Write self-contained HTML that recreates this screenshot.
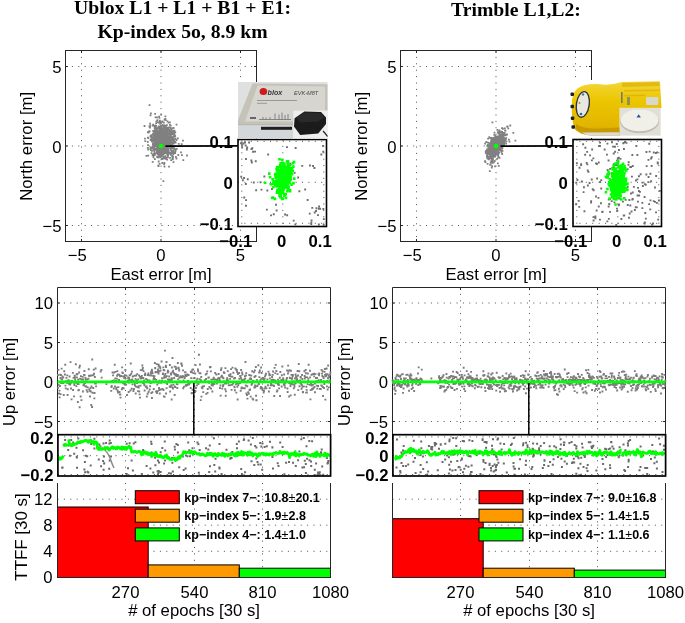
<!DOCTYPE html><html><head><meta charset="utf-8"><style>html,body{margin:0;padding:0;background:#fff;}svg{display:block;will-change:transform}</style></head><body>
<svg width="685" height="623" viewBox="0 0 685 623">
<rect width="685" height="623" fill="#fff"/>
<rect x="65.5" y="50.5" width="191.0" height="191.0" fill="#fff"/>
<line x1="81.5" y1="50.5" x2="81.5" y2="241.5" stroke="#3c3c3c" stroke-width="0.9" stroke-dasharray="1 5.4" fill="none"/>
<line x1="65.5" y1="225.5" x2="256.5" y2="225.5" stroke="#3c3c3c" stroke-width="0.9" stroke-dasharray="1 5.4" fill="none"/>
<path d="M81.5 50.5v2.5M81.5 241.5v-2.5M65.5 225.5h2.5M256.5 225.5h-2.5" stroke="#262626" stroke-width="1" fill="none"/>
<text x="77.2" y="261.0" font-size="16.7" text-anchor="middle" font-weight="normal" font-family='"Liberation Sans", sans-serif' >−5</text>
<text x="61.5" y="232.1" font-size="16.7" text-anchor="end" font-weight="normal" font-family='"Liberation Sans", sans-serif' >−5</text>
<line x1="161.0" y1="50.5" x2="161.0" y2="241.5" stroke="#3c3c3c" stroke-width="0.9" stroke-dasharray="1 5.4" fill="none"/>
<line x1="65.5" y1="146.0" x2="256.5" y2="146.0" stroke="#3c3c3c" stroke-width="0.9" stroke-dasharray="1 5.4" fill="none"/>
<path d="M161.0 50.5v2.5M161.0 241.5v-2.5M65.5 146.0h2.5M256.5 146.0h-2.5" stroke="#262626" stroke-width="1" fill="none"/>
<text x="161.0" y="261.0" font-size="16.7" text-anchor="middle" font-weight="normal" font-family='"Liberation Sans", sans-serif' >0</text>
<text x="61.5" y="152.6" font-size="16.7" text-anchor="end" font-weight="normal" font-family='"Liberation Sans", sans-serif' >0</text>
<line x1="240.5" y1="50.5" x2="240.5" y2="241.5" stroke="#3c3c3c" stroke-width="0.9" stroke-dasharray="1 5.4" fill="none"/>
<line x1="65.5" y1="66.5" x2="256.5" y2="66.5" stroke="#3c3c3c" stroke-width="0.9" stroke-dasharray="1 5.4" fill="none"/>
<path d="M240.5 50.5v2.5M240.5 241.5v-2.5M65.5 66.5h2.5M256.5 66.5h-2.5" stroke="#262626" stroke-width="1" fill="none"/>
<text x="240.5" y="261.0" font-size="16.7" text-anchor="middle" font-weight="normal" font-family='"Liberation Sans", sans-serif' >5</text>
<text x="61.5" y="73.1" font-size="16.7" text-anchor="end" font-weight="normal" font-family='"Liberation Sans", sans-serif' >5</text>
<rect x="65.5" y="50.5" width="191.0" height="191.0" stroke="#262626" stroke-width="1" fill="none"/>
<path d="M154.6 136.2h1.8v1.8h-1.8zM167.3 140.1h1.8v1.8h-1.8zM153.2 145.7h1.8v1.8h-1.8zM159.4 148.1h1.8v1.8h-1.8zM153.3 133.2h1.8v1.8h-1.8zM159.0 137.6h1.8v1.8h-1.8zM161.6 146.2h1.8v1.8h-1.8zM165.1 142.3h1.8v1.8h-1.8zM163.1 137.8h1.8v1.8h-1.8zM152.1 136.4h1.8v1.8h-1.8zM159.0 137.9h1.8v1.8h-1.8zM150.5 136.3h1.8v1.8h-1.8zM158.3 133.1h1.8v1.8h-1.8zM159.6 140.0h1.8v1.8h-1.8zM166.1 148.0h1.8v1.8h-1.8zM156.1 145.0h1.8v1.8h-1.8zM160.4 139.7h1.8v1.8h-1.8zM169.8 146.8h1.8v1.8h-1.8zM163.0 131.6h1.8v1.8h-1.8zM161.2 149.4h1.8v1.8h-1.8zM157.1 133.6h1.8v1.8h-1.8zM156.1 142.2h1.8v1.8h-1.8zM158.7 162.9h1.8v1.8h-1.8zM162.2 141.6h1.8v1.8h-1.8zM159.4 144.8h1.8v1.8h-1.8zM164.5 138.2h1.8v1.8h-1.8zM160.3 149.8h1.8v1.8h-1.8zM163.5 146.7h1.8v1.8h-1.8zM161.8 136.5h1.8v1.8h-1.8zM165.4 146.7h1.8v1.8h-1.8zM162.1 140.8h1.8v1.8h-1.8zM166.7 134.0h1.8v1.8h-1.8zM164.8 139.8h1.8v1.8h-1.8zM163.7 147.3h1.8v1.8h-1.8zM153.6 139.9h1.8v1.8h-1.8zM162.2 142.3h1.8v1.8h-1.8zM174.3 135.3h1.8v1.8h-1.8zM163.8 147.7h1.8v1.8h-1.8zM151.2 147.3h1.8v1.8h-1.8zM166.5 136.8h1.8v1.8h-1.8zM160.4 135.8h1.8v1.8h-1.8zM169.0 135.3h1.8v1.8h-1.8zM153.9 134.8h1.8v1.8h-1.8zM158.1 141.8h1.8v1.8h-1.8zM163.3 148.9h1.8v1.8h-1.8zM152.0 143.1h1.8v1.8h-1.8zM160.7 141.1h1.8v1.8h-1.8zM158.0 137.5h1.8v1.8h-1.8zM166.2 149.9h1.8v1.8h-1.8zM153.8 144.4h1.8v1.8h-1.8zM157.5 146.2h1.8v1.8h-1.8zM159.1 129.8h1.8v1.8h-1.8zM158.0 141.3h1.8v1.8h-1.8zM169.0 152.0h1.8v1.8h-1.8zM168.5 142.2h1.8v1.8h-1.8zM164.8 138.5h1.8v1.8h-1.8zM169.8 134.1h1.8v1.8h-1.8zM157.3 148.6h1.8v1.8h-1.8zM154.3 143.0h1.8v1.8h-1.8zM169.5 143.4h1.8v1.8h-1.8zM166.1 142.4h1.8v1.8h-1.8zM162.9 130.7h1.8v1.8h-1.8zM171.9 138.6h1.8v1.8h-1.8zM160.1 142.6h1.8v1.8h-1.8zM169.7 138.7h1.8v1.8h-1.8zM162.6 149.1h1.8v1.8h-1.8zM166.1 137.9h1.8v1.8h-1.8zM160.6 141.3h1.8v1.8h-1.8zM156.8 132.2h1.8v1.8h-1.8zM157.0 130.1h1.8v1.8h-1.8zM173.6 133.8h1.8v1.8h-1.8zM164.4 125.7h1.8v1.8h-1.8zM160.5 154.2h1.8v1.8h-1.8zM160.0 128.2h1.8v1.8h-1.8zM158.4 127.4h1.8v1.8h-1.8zM151.7 153.8h1.8v1.8h-1.8zM160.4 142.7h1.8v1.8h-1.8zM169.1 135.1h1.8v1.8h-1.8zM163.7 141.6h1.8v1.8h-1.8zM157.6 138.2h1.8v1.8h-1.8zM154.1 129.3h1.8v1.8h-1.8zM165.8 136.7h1.8v1.8h-1.8zM145.5 154.9h1.8v1.8h-1.8zM161.8 139.5h1.8v1.8h-1.8zM169.0 121.5h1.8v1.8h-1.8zM161.7 133.4h1.8v1.8h-1.8zM164.7 149.4h1.8v1.8h-1.8zM162.4 133.8h1.8v1.8h-1.8zM161.7 147.8h1.8v1.8h-1.8zM166.7 144.9h1.8v1.8h-1.8zM162.9 133.6h1.8v1.8h-1.8zM162.9 130.7h1.8v1.8h-1.8zM161.7 137.2h1.8v1.8h-1.8zM165.1 150.7h1.8v1.8h-1.8zM163.5 146.9h1.8v1.8h-1.8zM160.7 136.3h1.8v1.8h-1.8zM166.2 140.1h1.8v1.8h-1.8zM155.0 140.7h1.8v1.8h-1.8zM161.8 144.2h1.8v1.8h-1.8zM164.5 135.0h1.8v1.8h-1.8zM164.9 124.9h1.8v1.8h-1.8zM171.3 130.8h1.8v1.8h-1.8zM166.0 151.7h1.8v1.8h-1.8zM158.8 128.1h1.8v1.8h-1.8zM155.6 139.4h1.8v1.8h-1.8zM164.4 150.0h1.8v1.8h-1.8zM159.8 137.9h1.8v1.8h-1.8zM160.9 140.3h1.8v1.8h-1.8zM155.8 136.4h1.8v1.8h-1.8zM158.8 147.2h1.8v1.8h-1.8zM158.9 137.8h1.8v1.8h-1.8zM174.7 141.6h1.8v1.8h-1.8zM164.5 118.1h1.8v1.8h-1.8zM163.8 144.6h1.8v1.8h-1.8zM164.8 141.4h1.8v1.8h-1.8zM158.5 128.5h1.8v1.8h-1.8zM167.0 137.2h1.8v1.8h-1.8zM152.9 152.9h1.8v1.8h-1.8zM169.6 131.4h1.8v1.8h-1.8zM169.0 123.9h1.8v1.8h-1.8zM163.6 134.4h1.8v1.8h-1.8zM163.2 146.0h1.8v1.8h-1.8zM168.2 145.1h1.8v1.8h-1.8zM163.8 147.9h1.8v1.8h-1.8zM156.7 143.5h1.8v1.8h-1.8zM158.5 131.6h1.8v1.8h-1.8zM163.3 145.4h1.8v1.8h-1.8zM166.1 151.8h1.8v1.8h-1.8zM156.4 129.5h1.8v1.8h-1.8zM162.8 153.2h1.8v1.8h-1.8zM150.4 138.4h1.8v1.8h-1.8zM161.3 143.8h1.8v1.8h-1.8zM159.4 140.8h1.8v1.8h-1.8zM164.2 130.0h1.8v1.8h-1.8zM160.5 131.8h1.8v1.8h-1.8zM164.5 148.6h1.8v1.8h-1.8zM168.7 133.8h1.8v1.8h-1.8zM161.7 150.0h1.8v1.8h-1.8zM151.8 161.0h1.8v1.8h-1.8zM154.6 147.7h1.8v1.8h-1.8zM163.9 134.6h1.8v1.8h-1.8zM163.4 139.8h1.8v1.8h-1.8zM149.6 146.6h1.8v1.8h-1.8zM169.1 156.9h1.8v1.8h-1.8zM159.1 136.9h1.8v1.8h-1.8zM161.9 131.2h1.8v1.8h-1.8zM164.1 141.6h1.8v1.8h-1.8zM157.8 136.2h1.8v1.8h-1.8zM180.1 151.5h1.8v1.8h-1.8zM163.7 151.5h1.8v1.8h-1.8zM166.0 124.3h1.8v1.8h-1.8zM168.6 143.2h1.8v1.8h-1.8zM174.2 140.9h1.8v1.8h-1.8zM164.1 143.2h1.8v1.8h-1.8zM161.6 124.1h1.8v1.8h-1.8zM171.6 132.7h1.8v1.8h-1.8zM170.5 149.9h1.8v1.8h-1.8zM163.2 137.0h1.8v1.8h-1.8zM160.6 132.9h1.8v1.8h-1.8zM158.2 133.5h1.8v1.8h-1.8zM171.8 139.0h1.8v1.8h-1.8zM159.4 142.6h1.8v1.8h-1.8zM163.1 139.5h1.8v1.8h-1.8zM172.6 161.2h1.8v1.8h-1.8zM159.2 143.2h1.8v1.8h-1.8zM160.0 144.0h1.8v1.8h-1.8zM149.6 114.5h1.8v1.8h-1.8zM165.1 137.2h1.8v1.8h-1.8zM160.3 141.4h1.8v1.8h-1.8zM164.2 131.9h1.8v1.8h-1.8zM156.7 141.2h1.8v1.8h-1.8zM163.5 161.9h1.8v1.8h-1.8zM162.9 140.0h1.8v1.8h-1.8zM166.9 143.1h1.8v1.8h-1.8zM160.3 145.0h1.8v1.8h-1.8zM148.7 130.4h1.8v1.8h-1.8zM160.0 151.4h1.8v1.8h-1.8zM161.3 130.1h1.8v1.8h-1.8zM154.9 136.6h1.8v1.8h-1.8zM161.9 142.5h1.8v1.8h-1.8zM170.9 143.8h1.8v1.8h-1.8zM163.4 140.4h1.8v1.8h-1.8zM172.0 133.3h1.8v1.8h-1.8zM161.4 150.8h1.8v1.8h-1.8zM160.3 141.2h1.8v1.8h-1.8zM170.2 145.2h1.8v1.8h-1.8zM156.5 130.9h1.8v1.8h-1.8zM166.3 151.9h1.8v1.8h-1.8zM161.8 144.9h1.8v1.8h-1.8zM168.8 136.6h1.8v1.8h-1.8zM168.1 140.1h1.8v1.8h-1.8zM160.1 133.6h1.8v1.8h-1.8zM160.5 128.4h1.8v1.8h-1.8zM154.4 129.5h1.8v1.8h-1.8zM163.6 139.0h1.8v1.8h-1.8zM165.5 130.7h1.8v1.8h-1.8zM161.8 142.8h1.8v1.8h-1.8zM171.3 133.0h1.8v1.8h-1.8zM162.0 140.2h1.8v1.8h-1.8zM175.0 155.9h1.8v1.8h-1.8zM153.8 140.5h1.8v1.8h-1.8zM164.2 139.3h1.8v1.8h-1.8zM161.8 148.0h1.8v1.8h-1.8zM154.4 136.0h1.8v1.8h-1.8zM167.3 138.6h1.8v1.8h-1.8zM157.8 131.2h1.8v1.8h-1.8zM169.5 136.0h1.8v1.8h-1.8zM155.2 145.0h1.8v1.8h-1.8zM164.5 140.4h1.8v1.8h-1.8zM162.9 133.8h1.8v1.8h-1.8zM156.9 149.5h1.8v1.8h-1.8zM159.3 148.3h1.8v1.8h-1.8zM158.0 134.0h1.8v1.8h-1.8zM159.6 122.2h1.8v1.8h-1.8zM165.1 140.0h1.8v1.8h-1.8zM161.7 137.3h1.8v1.8h-1.8zM164.5 133.7h1.8v1.8h-1.8zM155.2 122.4h1.8v1.8h-1.8zM164.1 140.8h1.8v1.8h-1.8zM160.7 152.7h1.8v1.8h-1.8zM162.8 131.0h1.8v1.8h-1.8zM156.8 138.3h1.8v1.8h-1.8zM160.5 126.0h1.8v1.8h-1.8zM165.2 138.6h1.8v1.8h-1.8zM162.2 152.8h1.8v1.8h-1.8zM170.7 135.9h1.8v1.8h-1.8zM160.5 135.6h1.8v1.8h-1.8zM149.6 148.1h1.8v1.8h-1.8zM155.6 141.7h1.8v1.8h-1.8zM158.2 126.3h1.8v1.8h-1.8zM164.2 138.1h1.8v1.8h-1.8zM165.6 148.8h1.8v1.8h-1.8zM155.3 143.4h1.8v1.8h-1.8zM160.2 121.9h1.8v1.8h-1.8zM155.6 128.4h1.8v1.8h-1.8zM154.6 148.8h1.8v1.8h-1.8zM167.1 143.5h1.8v1.8h-1.8zM167.4 145.8h1.8v1.8h-1.8zM168.5 151.7h1.8v1.8h-1.8zM163.5 130.0h1.8v1.8h-1.8zM151.7 140.9h1.8v1.8h-1.8zM160.3 147.3h1.8v1.8h-1.8zM157.3 149.1h1.8v1.8h-1.8zM160.4 151.4h1.8v1.8h-1.8zM167.6 151.2h1.8v1.8h-1.8zM175.6 123.8h1.8v1.8h-1.8zM158.1 133.4h1.8v1.8h-1.8zM161.6 133.9h1.8v1.8h-1.8zM153.3 134.3h1.8v1.8h-1.8zM162.1 129.4h1.8v1.8h-1.8zM166.6 141.1h1.8v1.8h-1.8zM164.3 128.8h1.8v1.8h-1.8zM163.5 146.3h1.8v1.8h-1.8zM164.6 146.7h1.8v1.8h-1.8zM161.3 141.4h1.8v1.8h-1.8zM157.7 148.4h1.8v1.8h-1.8zM166.5 150.0h1.8v1.8h-1.8zM155.6 152.4h1.8v1.8h-1.8zM164.1 133.8h1.8v1.8h-1.8zM156.8 135.5h1.8v1.8h-1.8zM156.2 145.5h1.8v1.8h-1.8zM170.9 145.3h1.8v1.8h-1.8zM166.4 146.7h1.8v1.8h-1.8zM154.5 127.9h1.8v1.8h-1.8zM160.6 132.6h1.8v1.8h-1.8zM162.1 138.9h1.8v1.8h-1.8zM161.5 139.1h1.8v1.8h-1.8zM165.1 158.0h1.8v1.8h-1.8zM161.4 137.8h1.8v1.8h-1.8zM159.5 144.5h1.8v1.8h-1.8zM158.5 144.4h1.8v1.8h-1.8zM152.8 130.1h1.8v1.8h-1.8zM155.8 138.8h1.8v1.8h-1.8zM172.0 127.5h1.8v1.8h-1.8zM159.7 143.8h1.8v1.8h-1.8zM157.5 134.1h1.8v1.8h-1.8zM166.5 155.0h1.8v1.8h-1.8zM167.3 136.8h1.8v1.8h-1.8zM154.0 124.7h1.8v1.8h-1.8zM159.2 147.3h1.8v1.8h-1.8zM164.0 136.6h1.8v1.8h-1.8zM154.5 134.3h1.8v1.8h-1.8zM162.3 142.5h1.8v1.8h-1.8zM169.8 130.3h1.8v1.8h-1.8zM175.6 157.8h1.8v1.8h-1.8zM152.6 138.9h1.8v1.8h-1.8zM169.7 146.5h1.8v1.8h-1.8zM166.3 148.9h1.8v1.8h-1.8zM166.5 153.6h1.8v1.8h-1.8zM158.9 136.3h1.8v1.8h-1.8zM165.9 142.9h1.8v1.8h-1.8zM162.1 149.4h1.8v1.8h-1.8zM154.0 158.3h1.8v1.8h-1.8zM167.7 135.7h1.8v1.8h-1.8zM156.3 130.7h1.8v1.8h-1.8zM164.1 124.6h1.8v1.8h-1.8zM160.5 146.1h1.8v1.8h-1.8zM160.1 154.4h1.8v1.8h-1.8zM161.9 133.5h1.8v1.8h-1.8zM155.3 143.3h1.8v1.8h-1.8zM163.7 146.6h1.8v1.8h-1.8zM156.5 119.3h1.8v1.8h-1.8zM165.1 144.3h1.8v1.8h-1.8zM171.0 150.0h1.8v1.8h-1.8zM164.9 140.2h1.8v1.8h-1.8zM158.6 141.8h1.8v1.8h-1.8zM146.9 147.0h1.8v1.8h-1.8zM153.8 152.5h1.8v1.8h-1.8zM157.5 126.2h1.8v1.8h-1.8zM159.1 144.4h1.8v1.8h-1.8zM153.8 138.1h1.8v1.8h-1.8zM158.3 136.8h1.8v1.8h-1.8zM167.4 149.3h1.8v1.8h-1.8zM153.2 134.0h1.8v1.8h-1.8zM180.8 143.2h1.8v1.8h-1.8zM162.6 139.0h1.8v1.8h-1.8zM164.8 147.7h1.8v1.8h-1.8zM159.1 128.5h1.8v1.8h-1.8zM168.5 129.5h1.8v1.8h-1.8zM159.4 132.2h1.8v1.8h-1.8zM165.1 146.7h1.8v1.8h-1.8zM159.8 131.5h1.8v1.8h-1.8zM161.2 143.3h1.8v1.8h-1.8zM163.2 126.2h1.8v1.8h-1.8zM161.3 138.0h1.8v1.8h-1.8zM163.3 144.5h1.8v1.8h-1.8zM160.9 142.3h1.8v1.8h-1.8zM160.5 137.9h1.8v1.8h-1.8zM159.2 140.0h1.8v1.8h-1.8zM168.3 140.8h1.8v1.8h-1.8zM154.9 133.4h1.8v1.8h-1.8zM164.3 134.1h1.8v1.8h-1.8zM161.9 145.5h1.8v1.8h-1.8zM161.5 147.3h1.8v1.8h-1.8zM166.8 132.9h1.8v1.8h-1.8zM170.9 152.2h1.8v1.8h-1.8zM163.0 128.4h1.8v1.8h-1.8zM172.1 137.9h1.8v1.8h-1.8zM167.7 136.4h1.8v1.8h-1.8zM168.5 138.2h1.8v1.8h-1.8zM169.7 129.8h1.8v1.8h-1.8zM166.7 138.2h1.8v1.8h-1.8zM167.2 128.6h1.8v1.8h-1.8zM158.2 135.6h1.8v1.8h-1.8zM157.1 143.8h1.8v1.8h-1.8zM163.8 143.6h1.8v1.8h-1.8zM165.5 145.3h1.8v1.8h-1.8zM169.1 131.1h1.8v1.8h-1.8zM173.1 141.1h1.8v1.8h-1.8zM166.7 142.3h1.8v1.8h-1.8zM164.6 136.2h1.8v1.8h-1.8zM154.8 140.4h1.8v1.8h-1.8zM172.6 136.7h1.8v1.8h-1.8zM155.4 131.4h1.8v1.8h-1.8zM156.2 137.2h1.8v1.8h-1.8zM161.7 127.8h1.8v1.8h-1.8zM172.1 132.5h1.8v1.8h-1.8zM169.3 152.2h1.8v1.8h-1.8zM168.0 145.6h1.8v1.8h-1.8zM157.0 133.8h1.8v1.8h-1.8zM167.2 140.4h1.8v1.8h-1.8zM167.0 148.9h1.8v1.8h-1.8zM166.6 120.5h1.8v1.8h-1.8zM162.7 156.3h1.8v1.8h-1.8zM160.6 154.9h1.8v1.8h-1.8zM158.5 144.7h1.8v1.8h-1.8zM164.1 156.6h1.8v1.8h-1.8zM159.3 132.2h1.8v1.8h-1.8zM155.7 132.8h1.8v1.8h-1.8zM165.1 146.6h1.8v1.8h-1.8zM167.9 139.9h1.8v1.8h-1.8zM165.7 147.7h1.8v1.8h-1.8zM156.8 145.3h1.8v1.8h-1.8zM157.9 134.8h1.8v1.8h-1.8zM160.0 143.2h1.8v1.8h-1.8zM157.8 134.4h1.8v1.8h-1.8zM155.7 139.0h1.8v1.8h-1.8zM163.2 130.8h1.8v1.8h-1.8zM162.8 142.7h1.8v1.8h-1.8zM158.6 143.2h1.8v1.8h-1.8zM166.9 142.4h1.8v1.8h-1.8zM157.7 139.1h1.8v1.8h-1.8zM161.9 151.4h1.8v1.8h-1.8zM166.3 136.6h1.8v1.8h-1.8zM160.2 121.8h1.8v1.8h-1.8zM163.6 132.6h1.8v1.8h-1.8zM166.0 132.2h1.8v1.8h-1.8zM167.0 156.5h1.8v1.8h-1.8zM164.7 134.0h1.8v1.8h-1.8zM159.2 139.4h1.8v1.8h-1.8zM167.2 154.5h1.8v1.8h-1.8zM156.6 132.6h1.8v1.8h-1.8zM167.1 135.4h1.8v1.8h-1.8zM162.0 153.3h1.8v1.8h-1.8zM164.6 145.9h1.8v1.8h-1.8zM168.8 142.2h1.8v1.8h-1.8zM162.7 146.5h1.8v1.8h-1.8zM167.6 121.8h1.8v1.8h-1.8zM149.5 135.3h1.8v1.8h-1.8zM157.8 160.6h1.8v1.8h-1.8zM161.7 124.7h1.8v1.8h-1.8zM164.3 155.2h1.8v1.8h-1.8zM164.4 135.0h1.8v1.8h-1.8zM162.4 137.9h1.8v1.8h-1.8zM162.8 135.6h1.8v1.8h-1.8zM159.8 139.0h1.8v1.8h-1.8zM158.1 136.4h1.8v1.8h-1.8zM153.8 135.8h1.8v1.8h-1.8zM147.4 137.1h1.8v1.8h-1.8zM169.4 127.0h1.8v1.8h-1.8zM170.3 146.7h1.8v1.8h-1.8zM152.4 135.5h1.8v1.8h-1.8zM161.0 158.1h1.8v1.8h-1.8zM154.0 147.4h1.8v1.8h-1.8zM160.8 145.8h1.8v1.8h-1.8zM154.6 148.2h1.8v1.8h-1.8zM152.1 132.8h1.8v1.8h-1.8zM164.0 143.8h1.8v1.8h-1.8zM152.0 124.7h1.8v1.8h-1.8zM159.1 141.8h1.8v1.8h-1.8zM161.8 137.0h1.8v1.8h-1.8zM162.8 142.4h1.8v1.8h-1.8zM160.3 144.7h1.8v1.8h-1.8zM160.0 149.4h1.8v1.8h-1.8zM169.1 136.9h1.8v1.8h-1.8zM155.6 132.1h1.8v1.8h-1.8zM158.6 149.5h1.8v1.8h-1.8zM158.9 131.9h1.8v1.8h-1.8zM159.3 130.1h1.8v1.8h-1.8zM167.8 149.9h1.8v1.8h-1.8zM169.2 152.7h1.8v1.8h-1.8zM156.9 133.3h1.8v1.8h-1.8zM160.8 143.4h1.8v1.8h-1.8zM161.9 124.5h1.8v1.8h-1.8zM159.3 143.9h1.8v1.8h-1.8zM159.1 140.4h1.8v1.8h-1.8zM149.5 124.8h1.8v1.8h-1.8zM163.8 143.3h1.8v1.8h-1.8zM165.7 127.7h1.8v1.8h-1.8zM160.5 134.1h1.8v1.8h-1.8zM164.1 145.9h1.8v1.8h-1.8zM157.1 135.5h1.8v1.8h-1.8zM162.8 128.1h1.8v1.8h-1.8zM162.2 132.9h1.8v1.8h-1.8zM168.6 139.3h1.8v1.8h-1.8zM162.7 146.9h1.8v1.8h-1.8zM158.9 121.1h1.8v1.8h-1.8zM157.8 141.3h1.8v1.8h-1.8zM164.2 141.8h1.8v1.8h-1.8zM165.9 146.2h1.8v1.8h-1.8zM156.8 146.6h1.8v1.8h-1.8zM162.8 135.6h1.8v1.8h-1.8zM161.1 134.5h1.8v1.8h-1.8zM173.7 135.0h1.8v1.8h-1.8zM163.2 137.3h1.8v1.8h-1.8zM159.2 129.0h1.8v1.8h-1.8zM161.8 149.1h1.8v1.8h-1.8zM165.5 135.7h1.8v1.8h-1.8zM169.9 127.4h1.8v1.8h-1.8zM152.9 136.5h1.8v1.8h-1.8zM160.1 145.4h1.8v1.8h-1.8zM170.7 141.6h1.8v1.8h-1.8zM159.4 134.8h1.8v1.8h-1.8zM162.9 124.6h1.8v1.8h-1.8zM163.2 128.2h1.8v1.8h-1.8zM158.4 141.1h1.8v1.8h-1.8zM156.6 134.8h1.8v1.8h-1.8zM157.1 130.8h1.8v1.8h-1.8zM162.9 138.1h1.8v1.8h-1.8zM159.1 143.0h1.8v1.8h-1.8zM158.4 134.5h1.8v1.8h-1.8zM173.5 148.1h1.8v1.8h-1.8zM161.7 142.6h1.8v1.8h-1.8zM162.0 145.6h1.8v1.8h-1.8zM162.2 153.7h1.8v1.8h-1.8zM164.9 147.6h1.8v1.8h-1.8zM170.9 144.6h1.8v1.8h-1.8zM161.9 138.4h1.8v1.8h-1.8zM163.2 133.2h1.8v1.8h-1.8zM162.9 139.8h1.8v1.8h-1.8zM156.5 155.5h1.8v1.8h-1.8zM160.3 149.0h1.8v1.8h-1.8zM174.6 148.6h1.8v1.8h-1.8zM156.8 135.7h1.8v1.8h-1.8zM161.1 138.1h1.8v1.8h-1.8zM166.2 144.2h1.8v1.8h-1.8zM169.2 134.3h1.8v1.8h-1.8zM169.8 127.1h1.8v1.8h-1.8zM158.3 153.7h1.8v1.8h-1.8zM166.9 129.2h1.8v1.8h-1.8zM161.7 141.4h1.8v1.8h-1.8zM170.2 129.9h1.8v1.8h-1.8zM167.0 136.7h1.8v1.8h-1.8zM159.9 136.3h1.8v1.8h-1.8zM172.6 151.8h1.8v1.8h-1.8zM161.6 128.3h1.8v1.8h-1.8zM158.9 136.2h1.8v1.8h-1.8zM166.7 127.3h1.8v1.8h-1.8zM164.3 149.1h1.8v1.8h-1.8zM165.1 139.9h1.8v1.8h-1.8zM170.0 140.2h1.8v1.8h-1.8zM166.3 142.5h1.8v1.8h-1.8zM173.6 129.7h1.8v1.8h-1.8zM171.3 139.9h1.8v1.8h-1.8zM157.2 139.5h1.8v1.8h-1.8zM162.8 150.8h1.8v1.8h-1.8zM159.3 147.9h1.8v1.8h-1.8zM165.5 128.6h1.8v1.8h-1.8zM161.8 136.2h1.8v1.8h-1.8zM174.5 138.3h1.8v1.8h-1.8zM161.1 147.5h1.8v1.8h-1.8zM150.3 136.3h1.8v1.8h-1.8zM172.0 151.1h1.8v1.8h-1.8zM153.8 154.3h1.8v1.8h-1.8zM166.9 140.7h1.8v1.8h-1.8zM172.4 137.0h1.8v1.8h-1.8zM157.0 152.3h1.8v1.8h-1.8zM157.8 160.7h1.8v1.8h-1.8zM160.3 128.8h1.8v1.8h-1.8zM157.3 136.6h1.8v1.8h-1.8zM155.7 131.0h1.8v1.8h-1.8zM162.2 141.8h1.8v1.8h-1.8zM167.4 149.2h1.8v1.8h-1.8zM152.0 136.5h1.8v1.8h-1.8zM152.3 130.1h1.8v1.8h-1.8zM161.5 140.0h1.8v1.8h-1.8zM159.4 120.7h1.8v1.8h-1.8zM167.7 143.0h1.8v1.8h-1.8zM169.0 145.9h1.8v1.8h-1.8zM164.2 141.4h1.8v1.8h-1.8zM161.0 144.8h1.8v1.8h-1.8zM152.2 144.7h1.8v1.8h-1.8zM159.3 147.5h1.8v1.8h-1.8zM157.7 121.8h1.8v1.8h-1.8zM165.4 128.9h1.8v1.8h-1.8zM159.6 141.1h1.8v1.8h-1.8zM162.3 140.2h1.8v1.8h-1.8zM165.1 143.2h1.8v1.8h-1.8zM159.1 152.1h1.8v1.8h-1.8zM160.1 145.0h1.8v1.8h-1.8zM170.4 136.4h1.8v1.8h-1.8zM170.0 153.9h1.8v1.8h-1.8zM167.5 142.9h1.8v1.8h-1.8zM154.0 137.8h1.8v1.8h-1.8zM157.4 145.4h1.8v1.8h-1.8zM165.8 139.8h1.8v1.8h-1.8zM154.7 144.4h1.8v1.8h-1.8zM165.2 139.2h1.8v1.8h-1.8zM163.0 148.9h1.8v1.8h-1.8zM164.9 151.7h1.8v1.8h-1.8zM172.3 149.7h1.8v1.8h-1.8zM169.4 142.4h1.8v1.8h-1.8zM154.6 116.5h1.8v1.8h-1.8zM156.5 134.6h1.8v1.8h-1.8zM158.6 146.6h1.8v1.8h-1.8zM162.0 147.1h1.8v1.8h-1.8zM160.0 134.4h1.8v1.8h-1.8zM163.5 130.9h1.8v1.8h-1.8zM151.7 138.6h1.8v1.8h-1.8zM159.8 153.3h1.8v1.8h-1.8zM159.9 124.9h1.8v1.8h-1.8zM162.4 148.9h1.8v1.8h-1.8zM167.4 143.6h1.8v1.8h-1.8zM151.7 139.2h1.8v1.8h-1.8zM159.5 134.2h1.8v1.8h-1.8zM162.0 134.2h1.8v1.8h-1.8zM157.3 130.9h1.8v1.8h-1.8zM162.6 126.2h1.8v1.8h-1.8zM155.2 139.2h1.8v1.8h-1.8zM166.9 142.1h1.8v1.8h-1.8zM165.7 151.0h1.8v1.8h-1.8zM151.6 145.8h1.8v1.8h-1.8zM167.3 153.7h1.8v1.8h-1.8zM157.7 165.3h1.8v1.8h-1.8zM159.4 139.5h1.8v1.8h-1.8zM164.1 140.5h1.8v1.8h-1.8zM169.7 146.6h1.8v1.8h-1.8zM161.2 128.6h1.8v1.8h-1.8zM163.8 142.8h1.8v1.8h-1.8zM164.4 138.8h1.8v1.8h-1.8zM164.6 143.2h1.8v1.8h-1.8zM164.5 145.6h1.8v1.8h-1.8zM151.7 154.4h1.8v1.8h-1.8zM165.5 146.9h1.8v1.8h-1.8zM154.3 135.9h1.8v1.8h-1.8zM172.8 142.7h1.8v1.8h-1.8zM163.5 145.9h1.8v1.8h-1.8zM162.0 152.0h1.8v1.8h-1.8zM157.2 143.9h1.8v1.8h-1.8zM162.5 137.8h1.8v1.8h-1.8zM158.7 134.5h1.8v1.8h-1.8zM154.4 141.6h1.8v1.8h-1.8zM169.2 144.3h1.8v1.8h-1.8zM173.0 132.1h1.8v1.8h-1.8zM155.1 138.5h1.8v1.8h-1.8zM161.6 151.0h1.8v1.8h-1.8zM154.1 129.9h1.8v1.8h-1.8zM159.9 127.1h1.8v1.8h-1.8zM161.9 134.2h1.8v1.8h-1.8zM160.4 135.0h1.8v1.8h-1.8zM162.5 150.2h1.8v1.8h-1.8zM163.1 149.3h1.8v1.8h-1.8zM155.3 142.9h1.8v1.8h-1.8zM168.0 131.4h1.8v1.8h-1.8zM157.1 131.3h1.8v1.8h-1.8zM163.2 134.3h1.8v1.8h-1.8zM149.1 126.6h1.8v1.8h-1.8zM160.8 138.8h1.8v1.8h-1.8zM159.2 140.1h1.8v1.8h-1.8zM166.6 134.8h1.8v1.8h-1.8zM166.8 132.8h1.8v1.8h-1.8zM182.1 139.7h1.8v1.8h-1.8zM155.7 134.9h1.8v1.8h-1.8zM149.6 146.6h1.8v1.8h-1.8zM169.9 148.0h1.8v1.8h-1.8zM161.5 150.9h1.8v1.8h-1.8zM154.3 138.6h1.8v1.8h-1.8zM165.3 143.4h1.8v1.8h-1.8zM155.6 135.2h1.8v1.8h-1.8zM167.2 138.2h1.8v1.8h-1.8zM150.6 152.3h1.8v1.8h-1.8zM157.2 144.0h1.8v1.8h-1.8zM167.7 145.8h1.8v1.8h-1.8zM161.9 137.8h1.8v1.8h-1.8zM164.7 136.3h1.8v1.8h-1.8zM162.0 135.8h1.8v1.8h-1.8zM157.0 140.7h1.8v1.8h-1.8zM171.0 139.7h1.8v1.8h-1.8zM163.9 147.6h1.8v1.8h-1.8zM153.9 145.3h1.8v1.8h-1.8zM158.4 139.4h1.8v1.8h-1.8zM172.5 153.1h1.8v1.8h-1.8zM173.9 134.7h1.8v1.8h-1.8zM156.4 146.7h1.8v1.8h-1.8zM161.6 120.6h1.8v1.8h-1.8zM170.5 147.1h1.8v1.8h-1.8zM170.2 159.3h1.8v1.8h-1.8zM169.5 140.2h1.8v1.8h-1.8zM151.0 140.5h1.8v1.8h-1.8zM158.2 140.6h1.8v1.8h-1.8zM163.4 137.4h1.8v1.8h-1.8zM161.4 142.4h1.8v1.8h-1.8zM166.7 152.9h1.8v1.8h-1.8zM156.4 135.8h1.8v1.8h-1.8zM177.8 142.9h1.8v1.8h-1.8zM163.7 129.9h1.8v1.8h-1.8zM170.5 152.0h1.8v1.8h-1.8zM166.8 126.7h1.8v1.8h-1.8zM158.9 139.3h1.8v1.8h-1.8zM164.5 150.9h1.8v1.8h-1.8zM166.2 126.9h1.8v1.8h-1.8zM161.8 142.5h1.8v1.8h-1.8zM167.0 144.2h1.8v1.8h-1.8zM173.2 139.2h1.8v1.8h-1.8zM158.6 140.2h1.8v1.8h-1.8zM159.7 134.5h1.8v1.8h-1.8zM163.1 141.7h1.8v1.8h-1.8zM152.3 138.4h1.8v1.8h-1.8zM159.5 151.5h1.8v1.8h-1.8zM164.2 140.1h1.8v1.8h-1.8zM162.1 149.5h1.8v1.8h-1.8zM150.5 134.3h1.8v1.8h-1.8zM166.5 129.9h1.8v1.8h-1.8zM150.3 134.8h1.8v1.8h-1.8zM156.3 141.6h1.8v1.8h-1.8zM156.1 150.4h1.8v1.8h-1.8zM162.9 134.3h1.8v1.8h-1.8zM164.3 136.0h1.8v1.8h-1.8zM164.1 135.5h1.8v1.8h-1.8zM171.9 147.1h1.8v1.8h-1.8zM157.9 142.8h1.8v1.8h-1.8zM158.1 127.3h1.8v1.8h-1.8zM161.2 142.0h1.8v1.8h-1.8zM157.2 150.5h1.8v1.8h-1.8zM174.4 131.5h1.8v1.8h-1.8zM156.2 138.3h1.8v1.8h-1.8zM163.7 133.1h1.8v1.8h-1.8zM160.3 149.6h1.8v1.8h-1.8zM156.4 140.9h1.8v1.8h-1.8zM154.2 140.6h1.8v1.8h-1.8zM159.8 151.0h1.8v1.8h-1.8zM161.4 136.3h1.8v1.8h-1.8zM160.8 151.0h1.8v1.8h-1.8zM166.9 138.7h1.8v1.8h-1.8zM153.2 140.2h1.8v1.8h-1.8zM169.1 141.8h1.8v1.8h-1.8zM153.8 143.4h1.8v1.8h-1.8zM160.6 140.7h1.8v1.8h-1.8zM160.3 133.5h1.8v1.8h-1.8zM157.5 147.9h1.8v1.8h-1.8zM164.0 132.6h1.8v1.8h-1.8zM152.4 149.0h1.8v1.8h-1.8zM165.4 141.6h1.8v1.8h-1.8zM160.6 155.3h1.8v1.8h-1.8zM152.8 137.5h1.8v1.8h-1.8zM165.8 143.9h1.8v1.8h-1.8zM164.3 129.6h1.8v1.8h-1.8zM167.5 149.9h1.8v1.8h-1.8zM159.8 148.6h1.8v1.8h-1.8zM160.2 140.4h1.8v1.8h-1.8zM161.8 139.0h1.8v1.8h-1.8zM163.6 150.3h1.8v1.8h-1.8zM170.6 145.6h1.8v1.8h-1.8zM164.4 130.9h1.8v1.8h-1.8zM161.2 144.3h1.8v1.8h-1.8zM162.2 136.9h1.8v1.8h-1.8zM157.3 148.1h1.8v1.8h-1.8zM163.6 118.7h1.8v1.8h-1.8zM179.4 145.3h1.8v1.8h-1.8zM164.0 149.5h1.8v1.8h-1.8zM166.8 153.9h1.8v1.8h-1.8zM160.2 148.1h1.8v1.8h-1.8zM165.5 126.7h1.8v1.8h-1.8zM174.6 137.6h1.8v1.8h-1.8zM154.1 140.1h1.8v1.8h-1.8zM167.7 132.8h1.8v1.8h-1.8zM160.7 137.3h1.8v1.8h-1.8zM158.9 119.8h1.8v1.8h-1.8zM169.7 132.8h1.8v1.8h-1.8zM166.3 140.8h1.8v1.8h-1.8zM151.0 139.8h1.8v1.8h-1.8zM156.0 139.2h1.8v1.8h-1.8zM158.0 139.4h1.8v1.8h-1.8zM161.5 142.3h1.8v1.8h-1.8zM164.7 132.7h1.8v1.8h-1.8zM171.5 156.7h1.8v1.8h-1.8zM165.2 156.9h1.8v1.8h-1.8zM171.1 151.0h1.8v1.8h-1.8zM160.4 150.7h1.8v1.8h-1.8zM148.5 125.6h1.8v1.8h-1.8zM167.2 154.1h1.8v1.8h-1.8zM163.4 132.2h1.8v1.8h-1.8zM153.9 142.5h1.8v1.8h-1.8zM162.9 129.7h1.8v1.8h-1.8zM160.6 138.6h1.8v1.8h-1.8zM156.6 121.3h1.8v1.8h-1.8zM155.4 140.2h1.8v1.8h-1.8zM174.3 152.1h1.8v1.8h-1.8zM159.0 132.8h1.8v1.8h-1.8zM163.9 136.5h1.8v1.8h-1.8zM163.2 146.3h1.8v1.8h-1.8zM165.0 148.4h1.8v1.8h-1.8zM172.3 129.9h1.8v1.8h-1.8zM169.8 124.7h1.8v1.8h-1.8zM158.1 150.5h1.8v1.8h-1.8zM155.7 134.8h1.8v1.8h-1.8zM162.8 134.1h1.8v1.8h-1.8zM160.1 141.6h1.8v1.8h-1.8zM160.0 135.7h1.8v1.8h-1.8zM157.0 131.7h1.8v1.8h-1.8zM168.1 165.7h1.8v1.8h-1.8zM158.6 128.0h1.8v1.8h-1.8zM174.7 149.9h1.8v1.8h-1.8zM159.5 135.6h1.8v1.8h-1.8zM160.7 142.8h1.8v1.8h-1.8zM155.4 141.9h1.8v1.8h-1.8zM147.6 131.7h1.8v1.8h-1.8zM155.1 136.5h1.8v1.8h-1.8zM160.8 137.7h1.8v1.8h-1.8zM163.5 150.0h1.8v1.8h-1.8zM177.0 137.4h1.8v1.8h-1.8zM164.0 137.9h1.8v1.8h-1.8zM162.4 136.0h1.8v1.8h-1.8zM159.5 142.8h1.8v1.8h-1.8zM170.5 141.7h1.8v1.8h-1.8zM161.3 138.2h1.8v1.8h-1.8zM153.4 132.2h1.8v1.8h-1.8zM163.3 147.9h1.8v1.8h-1.8zM161.7 133.3h1.8v1.8h-1.8zM161.9 147.8h1.8v1.8h-1.8zM162.6 148.8h1.8v1.8h-1.8zM153.2 143.1h1.8v1.8h-1.8zM153.7 125.1h1.8v1.8h-1.8zM162.5 144.7h1.8v1.8h-1.8zM165.8 149.8h1.8v1.8h-1.8zM160.7 121.4h1.8v1.8h-1.8zM167.1 147.9h1.8v1.8h-1.8zM159.0 136.7h1.8v1.8h-1.8zM162.1 140.7h1.8v1.8h-1.8zM155.5 148.6h1.8v1.8h-1.8zM173.2 145.5h1.8v1.8h-1.8zM160.3 113.5h1.8v1.8h-1.8zM165.3 144.6h1.8v1.8h-1.8zM165.8 142.4h1.8v1.8h-1.8zM156.9 141.9h1.8v1.8h-1.8zM161.5 141.0h1.8v1.8h-1.8zM167.4 142.6h1.8v1.8h-1.8zM159.0 132.8h1.8v1.8h-1.8zM152.3 154.8h1.8v1.8h-1.8zM161.1 149.2h1.8v1.8h-1.8zM164.2 141.3h1.8v1.8h-1.8zM165.1 141.1h1.8v1.8h-1.8zM171.4 136.7h1.8v1.8h-1.8zM160.5 139.8h1.8v1.8h-1.8zM165.4 152.5h1.8v1.8h-1.8zM155.5 120.4h1.8v1.8h-1.8zM165.2 145.9h1.8v1.8h-1.8zM161.4 140.4h1.8v1.8h-1.8zM165.2 133.0h1.8v1.8h-1.8zM154.8 126.8h1.8v1.8h-1.8zM160.1 133.7h1.8v1.8h-1.8zM160.1 130.9h1.8v1.8h-1.8zM150.1 149.3h1.8v1.8h-1.8zM165.0 149.0h1.8v1.8h-1.8zM168.3 126.6h1.8v1.8h-1.8zM165.8 130.7h1.8v1.8h-1.8zM147.8 131.1h1.8v1.8h-1.8zM159.5 154.7h1.8v1.8h-1.8zM160.1 138.5h1.8v1.8h-1.8zM164.6 143.1h1.8v1.8h-1.8zM162.6 157.0h1.8v1.8h-1.8zM154.5 130.2h1.8v1.8h-1.8zM148.5 130.2h1.8v1.8h-1.8zM155.3 135.8h1.8v1.8h-1.8zM160.7 152.1h1.8v1.8h-1.8zM166.3 136.6h1.8v1.8h-1.8zM162.3 134.7h1.8v1.8h-1.8zM160.2 139.2h1.8v1.8h-1.8zM173.2 130.7h1.8v1.8h-1.8zM155.6 144.0h1.8v1.8h-1.8zM155.3 132.4h1.8v1.8h-1.8zM163.1 131.8h1.8v1.8h-1.8zM170.6 145.5h1.8v1.8h-1.8zM158.5 139.2h1.8v1.8h-1.8zM159.2 152.6h1.8v1.8h-1.8zM162.6 141.7h1.8v1.8h-1.8zM158.0 153.2h1.8v1.8h-1.8zM161.1 134.7h1.8v1.8h-1.8zM171.4 142.9h1.8v1.8h-1.8zM160.0 147.8h1.8v1.8h-1.8zM158.5 139.3h1.8v1.8h-1.8zM166.8 130.9h1.8v1.8h-1.8zM160.6 139.7h1.8v1.8h-1.8zM163.2 131.8h1.8v1.8h-1.8zM154.7 137.8h1.8v1.8h-1.8zM156.4 141.4h1.8v1.8h-1.8zM161.2 141.6h1.8v1.8h-1.8zM161.9 131.3h1.8v1.8h-1.8zM159.7 141.9h1.8v1.8h-1.8zM169.5 142.7h1.8v1.8h-1.8zM163.7 156.7h1.8v1.8h-1.8zM160.1 151.1h1.8v1.8h-1.8zM164.7 130.6h1.8v1.8h-1.8zM162.2 146.7h1.8v1.8h-1.8zM155.9 151.8h1.8v1.8h-1.8zM159.0 143.9h1.8v1.8h-1.8zM160.8 143.6h1.8v1.8h-1.8zM158.5 152.9h1.8v1.8h-1.8zM158.2 153.6h1.8v1.8h-1.8zM159.1 133.0h1.8v1.8h-1.8zM166.7 141.1h1.8v1.8h-1.8zM159.0 130.4h1.8v1.8h-1.8zM160.0 139.0h1.8v1.8h-1.8zM155.6 130.2h1.8v1.8h-1.8zM155.1 131.6h1.8v1.8h-1.8zM168.8 146.8h1.8v1.8h-1.8zM157.8 131.4h1.8v1.8h-1.8zM161.2 143.9h1.8v1.8h-1.8zM157.8 138.7h1.8v1.8h-1.8zM167.6 137.8h1.8v1.8h-1.8zM160.1 149.9h1.8v1.8h-1.8zM160.9 139.5h1.8v1.8h-1.8zM156.6 148.3h1.8v1.8h-1.8zM162.7 137.4h1.8v1.8h-1.8zM161.9 151.1h1.8v1.8h-1.8zM160.8 138.6h1.8v1.8h-1.8zM162.4 140.7h1.8v1.8h-1.8zM167.1 137.6h1.8v1.8h-1.8zM158.4 134.2h1.8v1.8h-1.8zM161.3 129.3h1.8v1.8h-1.8zM157.1 127.3h1.8v1.8h-1.8zM160.6 138.1h1.8v1.8h-1.8zM159.7 135.4h1.8v1.8h-1.8zM156.4 141.6h1.8v1.8h-1.8zM147.0 131.2h1.8v1.8h-1.8zM171.5 142.0h1.8v1.8h-1.8zM172.1 155.4h1.8v1.8h-1.8zM161.6 132.2h1.8v1.8h-1.8zM163.4 132.8h1.8v1.8h-1.8zM162.2 142.0h1.8v1.8h-1.8zM171.0 138.6h1.8v1.8h-1.8zM160.3 138.1h1.8v1.8h-1.8zM175.6 139.1h1.8v1.8h-1.8zM166.2 133.7h1.8v1.8h-1.8zM161.4 162.1h1.8v1.8h-1.8zM156.9 144.4h1.8v1.8h-1.8zM165.5 144.6h1.8v1.8h-1.8zM167.5 138.0h1.8v1.8h-1.8zM171.0 142.8h1.8v1.8h-1.8zM160.9 144.3h1.8v1.8h-1.8zM162.3 138.9h1.8v1.8h-1.8zM164.3 133.6h1.8v1.8h-1.8zM164.1 137.5h1.8v1.8h-1.8zM147.3 148.8h1.8v1.8h-1.8zM160.9 137.9h1.8v1.8h-1.8zM158.2 127.7h1.8v1.8h-1.8zM154.4 143.8h1.8v1.8h-1.8zM160.7 149.2h1.8v1.8h-1.8zM172.7 136.1h1.8v1.8h-1.8zM153.4 150.6h1.8v1.8h-1.8zM166.7 153.4h1.8v1.8h-1.8zM163.6 142.5h1.8v1.8h-1.8zM158.2 153.5h1.8v1.8h-1.8zM163.3 151.6h1.8v1.8h-1.8zM161.4 135.7h1.8v1.8h-1.8zM166.8 148.5h1.8v1.8h-1.8zM147.0 136.8h1.8v1.8h-1.8zM166.0 148.9h1.8v1.8h-1.8zM161.2 134.0h1.8v1.8h-1.8zM163.5 136.9h1.8v1.8h-1.8zM143.6 125.1h1.8v1.8h-1.8zM163.6 133.7h1.8v1.8h-1.8zM166.4 147.4h1.8v1.8h-1.8zM146.9 140.9h1.8v1.8h-1.8zM153.5 148.9h1.8v1.8h-1.8zM151.0 149.9h1.8v1.8h-1.8zM159.8 139.8h1.8v1.8h-1.8zM161.7 133.1h1.8v1.8h-1.8zM163.6 165.7h1.8v1.8h-1.8zM161.4 133.9h1.8v1.8h-1.8zM175.8 148.0h1.8v1.8h-1.8zM162.8 143.0h1.8v1.8h-1.8zM152.8 136.2h1.8v1.8h-1.8zM157.1 153.2h1.8v1.8h-1.8zM168.2 141.1h1.8v1.8h-1.8zM153.8 127.1h1.8v1.8h-1.8zM157.0 131.4h1.8v1.8h-1.8zM160.9 127.5h1.8v1.8h-1.8zM162.9 139.8h1.8v1.8h-1.8zM156.7 141.8h1.8v1.8h-1.8zM155.9 136.9h1.8v1.8h-1.8zM158.3 155.8h1.8v1.8h-1.8zM153.7 141.9h1.8v1.8h-1.8zM155.7 135.4h1.8v1.8h-1.8zM167.0 138.8h1.8v1.8h-1.8zM159.3 122.9h1.8v1.8h-1.8zM159.7 156.0h1.8v1.8h-1.8zM164.5 115.5h1.8v1.8h-1.8zM152.6 138.3h1.8v1.8h-1.8zM152.6 140.7h1.8v1.8h-1.8zM156.9 152.1h1.8v1.8h-1.8zM170.9 149.7h1.8v1.8h-1.8zM155.5 142.4h1.8v1.8h-1.8zM168.2 132.9h1.8v1.8h-1.8zM160.6 131.7h1.8v1.8h-1.8zM163.6 151.7h1.8v1.8h-1.8zM162.7 157.8h1.8v1.8h-1.8zM160.7 146.6h1.8v1.8h-1.8zM170.5 132.6h1.8v1.8h-1.8zM166.3 128.4h1.8v1.8h-1.8zM157.8 136.7h1.8v1.8h-1.8zM169.6 131.0h1.8v1.8h-1.8zM168.5 129.0h1.8v1.8h-1.8zM163.0 147.0h1.8v1.8h-1.8zM163.6 157.5h1.8v1.8h-1.8zM161.2 129.1h1.8v1.8h-1.8zM161.5 148.7h1.8v1.8h-1.8zM149.2 122.7h1.8v1.8h-1.8zM172.6 130.5h1.8v1.8h-1.8zM168.5 144.2h1.8v1.8h-1.8zM156.4 133.8h1.8v1.8h-1.8zM164.3 136.0h1.8v1.8h-1.8zM167.3 142.1h1.8v1.8h-1.8zM161.7 154.6h1.8v1.8h-1.8zM160.2 129.8h1.8v1.8h-1.8zM158.4 136.3h1.8v1.8h-1.8zM172.3 146.0h1.8v1.8h-1.8zM157.3 134.9h1.8v1.8h-1.8zM162.0 140.4h1.8v1.8h-1.8zM173.2 135.0h1.8v1.8h-1.8zM156.6 137.2h1.8v1.8h-1.8zM159.8 148.0h1.8v1.8h-1.8zM161.7 135.9h1.8v1.8h-1.8zM159.6 133.6h1.8v1.8h-1.8zM160.5 139.5h1.8v1.8h-1.8zM171.0 132.1h1.8v1.8h-1.8zM169.6 140.5h1.8v1.8h-1.8zM157.7 155.6h1.8v1.8h-1.8zM163.3 130.5h1.8v1.8h-1.8zM159.1 136.5h1.8v1.8h-1.8zM155.1 141.4h1.8v1.8h-1.8zM162.6 151.4h1.8v1.8h-1.8zM158.9 125.9h1.8v1.8h-1.8zM170.0 149.0h1.8v1.8h-1.8zM158.2 151.7h1.8v1.8h-1.8zM161.6 131.6h1.8v1.8h-1.8zM166.3 142.6h1.8v1.8h-1.8zM159.6 144.4h1.8v1.8h-1.8zM157.7 140.5h1.8v1.8h-1.8zM164.2 145.5h1.8v1.8h-1.8zM163.1 121.8h1.8v1.8h-1.8zM159.7 143.6h1.8v1.8h-1.8zM165.6 132.5h1.8v1.8h-1.8zM167.4 133.3h1.8v1.8h-1.8zM169.2 141.9h1.8v1.8h-1.8zM162.3 129.2h1.8v1.8h-1.8zM157.5 142.2h1.8v1.8h-1.8zM163.3 139.1h1.8v1.8h-1.8zM161.2 151.4h1.8v1.8h-1.8zM158.3 144.9h1.8v1.8h-1.8zM167.5 143.7h1.8v1.8h-1.8zM161.9 130.7h1.8v1.8h-1.8zM173.0 151.8h1.8v1.8h-1.8zM155.9 133.6h1.8v1.8h-1.8zM154.8 128.8h1.8v1.8h-1.8zM160.6 132.4h1.8v1.8h-1.8zM162.5 144.0h1.8v1.8h-1.8zM156.7 130.5h1.8v1.8h-1.8zM167.8 147.7h1.8v1.8h-1.8zM160.0 133.1h1.8v1.8h-1.8zM164.7 142.4h1.8v1.8h-1.8zM167.6 141.8h1.8v1.8h-1.8zM157.6 134.0h1.8v1.8h-1.8zM161.5 128.3h1.8v1.8h-1.8zM157.8 147.4h1.8v1.8h-1.8zM167.0 144.9h1.8v1.8h-1.8zM169.7 138.0h1.8v1.8h-1.8zM158.3 141.3h1.8v1.8h-1.8zM166.3 132.5h1.8v1.8h-1.8zM174.2 150.5h1.8v1.8h-1.8zM153.7 133.5h1.8v1.8h-1.8zM166.4 143.2h1.8v1.8h-1.8zM168.7 143.8h1.8v1.8h-1.8zM160.8 136.3h1.8v1.8h-1.8zM164.8 144.3h1.8v1.8h-1.8zM157.5 137.9h1.8v1.8h-1.8zM161.8 137.0h1.8v1.8h-1.8zM155.7 144.5h1.8v1.8h-1.8zM152.9 140.3h1.8v1.8h-1.8zM157.3 140.4h1.8v1.8h-1.8zM171.9 158.4h1.8v1.8h-1.8zM166.1 138.8h1.8v1.8h-1.8zM154.9 138.4h1.8v1.8h-1.8zM162.5 127.5h1.8v1.8h-1.8zM158.8 143.2h1.8v1.8h-1.8zM163.5 137.0h1.8v1.8h-1.8zM156.0 142.6h1.8v1.8h-1.8zM157.6 156.6h1.8v1.8h-1.8zM160.2 136.2h1.8v1.8h-1.8zM168.0 133.0h1.8v1.8h-1.8zM159.1 145.7h1.8v1.8h-1.8zM153.7 143.1h1.8v1.8h-1.8zM156.8 130.5h1.8v1.8h-1.8zM161.6 139.3h1.8v1.8h-1.8zM161.8 143.8h1.8v1.8h-1.8zM156.8 149.0h1.8v1.8h-1.8zM170.7 128.2h1.8v1.8h-1.8zM158.5 139.8h1.8v1.8h-1.8zM153.9 142.8h1.8v1.8h-1.8zM160.7 138.1h1.8v1.8h-1.8zM164.7 136.8h1.8v1.8h-1.8zM159.2 144.8h1.8v1.8h-1.8zM163.0 145.1h1.8v1.8h-1.8zM167.8 131.9h1.8v1.8h-1.8zM164.8 150.3h1.8v1.8h-1.8zM162.6 140.4h1.8v1.8h-1.8zM165.1 144.8h1.8v1.8h-1.8zM162.8 136.6h1.8v1.8h-1.8zM163.6 135.8h1.8v1.8h-1.8zM162.7 139.0h1.8v1.8h-1.8zM149.7 139.1h1.8v1.8h-1.8zM164.4 143.8h1.8v1.8h-1.8zM160.7 132.6h1.8v1.8h-1.8zM152.2 123.7h1.8v1.8h-1.8zM164.1 148.2h1.8v1.8h-1.8zM171.1 154.7h1.8v1.8h-1.8zM155.4 145.5h1.8v1.8h-1.8zM155.2 125.0h1.8v1.8h-1.8zM160.7 136.0h1.8v1.8h-1.8zM165.7 145.8h1.8v1.8h-1.8zM164.0 152.2h1.8v1.8h-1.8zM172.4 137.8h1.8v1.8h-1.8zM168.4 152.6h1.8v1.8h-1.8zM160.2 137.0h1.8v1.8h-1.8zM162.7 136.1h1.8v1.8h-1.8zM166.5 148.4h1.8v1.8h-1.8zM160.6 146.8h1.8v1.8h-1.8zM162.8 156.9h1.8v1.8h-1.8zM167.0 153.1h1.8v1.8h-1.8zM166.3 135.1h1.8v1.8h-1.8zM159.7 144.8h1.8v1.8h-1.8zM157.5 150.7h1.8v1.8h-1.8zM162.9 157.8h1.8v1.8h-1.8zM156.3 131.8h1.8v1.8h-1.8zM168.3 138.9h1.8v1.8h-1.8zM154.5 152.6h1.8v1.8h-1.8zM163.4 140.9h1.8v1.8h-1.8zM158.3 143.0h1.8v1.8h-1.8zM162.9 136.9h1.8v1.8h-1.8zM161.7 145.3h1.8v1.8h-1.8zM158.2 153.5h1.8v1.8h-1.8zM161.3 135.9h1.8v1.8h-1.8zM162.7 130.7h1.8v1.8h-1.8zM166.7 151.4h1.8v1.8h-1.8zM152.2 139.7h1.8v1.8h-1.8zM162.5 134.3h1.8v1.8h-1.8zM153.3 131.8h1.8v1.8h-1.8zM153.8 144.8h1.8v1.8h-1.8zM154.4 142.3h1.8v1.8h-1.8zM160.3 151.7h1.8v1.8h-1.8zM157.4 146.9h1.8v1.8h-1.8zM165.0 133.6h1.8v1.8h-1.8zM155.8 150.1h1.8v1.8h-1.8zM157.9 125.4h1.8v1.8h-1.8zM163.7 150.6h1.8v1.8h-1.8zM159.8 156.5h1.8v1.8h-1.8zM150.0 112.4h1.8v1.8h-1.8zM152.6 156.4h1.8v1.8h-1.8zM150.4 136.8h1.8v1.8h-1.8zM161.4 143.9h1.8v1.8h-1.8zM177.4 154.1h1.8v1.8h-1.8zM171.4 133.2h1.8v1.8h-1.8zM171.0 151.3h1.8v1.8h-1.8zM144.4 140.3h1.8v1.8h-1.8zM148.6 104.2h1.8v1.8h-1.8zM156.3 156.1h1.8v1.8h-1.8zM157.3 164.7h1.8v1.8h-1.8zM172.8 146.6h1.8v1.8h-1.8zM163.2 135.9h1.8v1.8h-1.8zM156.4 140.9h1.8v1.8h-1.8zM147.4 154.7h1.8v1.8h-1.8zM182.4 159.2h1.8v1.8h-1.8zM163.3 163.4h1.8v1.8h-1.8zM158.5 117.0h1.8v1.8h-1.8zM166.3 158.8h1.8v1.8h-1.8zM156.7 151.2h1.8v1.8h-1.8zM166.7 137.0h1.8v1.8h-1.8zM153.1 147.6h1.8v1.8h-1.8zM172.3 149.7h1.8v1.8h-1.8zM172.0 157.3h1.8v1.8h-1.8zM172.0 147.4h1.8v1.8h-1.8zM186.1 154.6h1.8v1.8h-1.8zM170.7 135.2h1.8v1.8h-1.8zM156.0 129.2h1.8v1.8h-1.8zM152.4 134.4h1.8v1.8h-1.8zM156.2 116.4h1.8v1.8h-1.8zM164.4 133.5h1.8v1.8h-1.8zM156.0 127.2h1.8v1.8h-1.8zM181.0 154.3h1.8v1.8h-1.8zM165.0 127.0h1.8v1.8h-1.8zM161.5 146.6h1.8v1.8h-1.8zM162.6 148.2h1.8v1.8h-1.8zM152.4 136.9h1.8v1.8h-1.8zM173.1 145.5h1.8v1.8h-1.8zM164.0 150.8h1.8v1.8h-1.8zM147.1 144.2h1.8v1.8h-1.8zM171.0 150.4h1.8v1.8h-1.8zM164.8 119.3h1.8v1.8h-1.8zM158.2 115.7h1.8v1.8h-1.8zM162.3 157.1h1.8v1.8h-1.8zM162.3 147.1h1.8v1.8h-1.8zM163.3 137.3h1.8v1.8h-1.8zM157.5 143.9h1.8v1.8h-1.8zM162.5 180.3h1.8v1.8h-1.8zM172.7 126.9h1.8v1.8h-1.8zM168.9 135.2h1.8v1.8h-1.8zM158.7 134.2h1.8v1.8h-1.8zM170.3 138.8h1.8v1.8h-1.8zM144.1 137.7h1.8v1.8h-1.8zM154.2 112.9h1.8v1.8h-1.8z" fill="#808080"/>
<circle cx="161" cy="146" r="2.3" fill="#00ff00"/>
<line x1="165.5" y1="146.1" x2="237.7" y2="145.8" stroke="#000" stroke-width="1.8"/>
<rect x="238" y="139.5" width="88.5" height="87.0" fill="#fff"/>
<line x1="241.8" y1="139.5" x2="241.8" y2="226.5" stroke="#3c3c3c" stroke-width="0.9" stroke-dasharray="1 5.4" fill="none"/>
<line x1="238" y1="223.3" x2="326.5" y2="223.3" stroke="#3c3c3c" stroke-width="0.9" stroke-dasharray="1 5.4" fill="none"/>
<text x="232.8" y="229.8" font-size="16.7" text-anchor="end" font-weight="bold" font-family='"Liberation Sans", sans-serif' >−0.1</text>
<line x1="282.8" y1="139.5" x2="282.8" y2="226.5" stroke="#3c3c3c" stroke-width="0.9" stroke-dasharray="1 5.4" fill="none"/>
<line x1="238" y1="182.3" x2="326.5" y2="182.3" stroke="#3c3c3c" stroke-width="0.9" stroke-dasharray="1 5.4" fill="none"/>
<text x="232.8" y="188.8" font-size="16.7" text-anchor="end" font-weight="bold" font-family='"Liberation Sans", sans-serif' >0</text>
<line x1="323.8" y1="139.5" x2="323.8" y2="226.5" stroke="#3c3c3c" stroke-width="0.9" stroke-dasharray="1 5.4" fill="none"/>
<line x1="238" y1="141.3" x2="326.5" y2="141.3" stroke="#3c3c3c" stroke-width="0.9" stroke-dasharray="1 5.4" fill="none"/>
<text x="232.8" y="147.8" font-size="16.7" text-anchor="end" font-weight="bold" font-family='"Liberation Sans", sans-serif' >0.1</text>
<text x="252.3" y="247.3" font-size="16.7" text-anchor="end" font-weight="bold" font-family='"Liberation Sans", sans-serif' >−0.1</text>
<text x="281.6" y="247.3" font-size="16.7" text-anchor="middle" font-weight="bold" font-family='"Liberation Sans", sans-serif' >0</text>
<text x="331.8" y="247.3" font-size="16.7" text-anchor="end" font-weight="bold" font-family='"Liberation Sans", sans-serif' >0.1</text>
<path d="M267.2 153.5h1.9v1.9h-1.9zM294.7 147.0h1.9v1.9h-1.9zM285.0 171.4h1.9v1.9h-1.9zM244.9 183.1h1.9v1.9h-1.9zM243.1 177.0h1.9v1.9h-1.9zM245.9 148.5h1.9v1.9h-1.9zM275.7 209.6h1.9v1.9h-1.9zM250.4 159.5h1.9v1.9h-1.9zM292.7 219.7h1.9v1.9h-1.9zM288.5 173.9h1.9v1.9h-1.9zM322.0 144.9h1.9v1.9h-1.9zM312.1 165.0h1.9v1.9h-1.9zM252.1 150.8h1.9v1.9h-1.9zM265.9 208.7h1.9v1.9h-1.9zM255.2 189.3h1.9v1.9h-1.9zM293.7 171.9h1.9v1.9h-1.9zM286.0 146.2h1.9v1.9h-1.9zM245.0 158.1h1.9v1.9h-1.9zM297.2 176.5h1.9v1.9h-1.9zM266.4 189.6h1.9v1.9h-1.9zM278.1 165.9h1.9v1.9h-1.9zM306.7 199.0h1.9v1.9h-1.9zM260.5 188.7h1.9v1.9h-1.9zM284.1 213.6h1.9v1.9h-1.9zM301.3 164.9h1.9v1.9h-1.9zM322.3 150.8h1.9v1.9h-1.9zM275.1 203.8h1.9v1.9h-1.9zM252.8 181.6h1.9v1.9h-1.9zM243.3 196.5h1.9v1.9h-1.9zM304.2 188.6h1.9v1.9h-1.9zM313.5 167.0h1.9v1.9h-1.9zM298.4 190.3h1.9v1.9h-1.9zM288.7 178.9h1.9v1.9h-1.9zM310.6 219.4h1.9v1.9h-1.9zM279.8 196.1h1.9v1.9h-1.9zM245.1 199.2h1.9v1.9h-1.9zM294.4 223.4h1.9v1.9h-1.9zM309.0 164.6h1.9v1.9h-1.9zM272.4 196.5h1.9v1.9h-1.9zM241.9 179.3h1.9v1.9h-1.9zM254.1 150.7h1.9v1.9h-1.9zM245.0 204.8h1.9v1.9h-1.9zM250.9 161.6h1.9v1.9h-1.9zM272.8 213.3h1.9v1.9h-1.9zM246.8 178.3h1.9v1.9h-1.9zM286.2 214.3h1.9v1.9h-1.9zM308.8 212.7h1.9v1.9h-1.9zM263.4 175.5h1.9v1.9h-1.9zM270.1 214.4h1.9v1.9h-1.9zM320.4 153.5h1.9v1.9h-1.9zM254.8 160.3h1.9v1.9h-1.9zM259.6 181.3h1.9v1.9h-1.9zM289.5 162.8h1.9v1.9h-1.9zM240.3 175.8h1.9v1.9h-1.9zM271.0 188.0h1.9v1.9h-1.9zM251.4 147.2h1.9v1.9h-1.9zM246.2 146.6h1.9v1.9h-1.9zM248.1 141.5h1.9v1.9h-1.9zM250.8 148.0h1.9v1.9h-1.9zM250.5 148.2h1.9v1.9h-1.9zM244.7 144.6h1.9v1.9h-1.9zM241.2 146.7h1.9v1.9h-1.9zM240.7 141.6h1.9v1.9h-1.9zM242.5 142.5h1.9v1.9h-1.9zM244.1 141.5h1.9v1.9h-1.9zM240.0 142.4h1.9v1.9h-1.9zM241.2 144.3h1.9v1.9h-1.9zM310.4 221.6h1.9v1.9h-1.9zM319.2 207.8h1.9v1.9h-1.9zM313.8 211.6h1.9v1.9h-1.9zM315.5 207.3h1.9v1.9h-1.9zM322.7 223.9h1.9v1.9h-1.9zM317.0 214.2h1.9v1.9h-1.9zM311.3 206.9h1.9v1.9h-1.9zM315.1 210.0h1.9v1.9h-1.9zM322.4 208.1h1.9v1.9h-1.9zM310.3 223.1h1.9v1.9h-1.9zM317.9 207.8h1.9v1.9h-1.9zM318.1 205.5h1.9v1.9h-1.9zM317.9 223.6h1.9v1.9h-1.9zM322.9 218.2h1.9v1.9h-1.9z" fill="#6e6e6e"/>
<path d="M284.0 178.8h2.6v2.6h-2.6zM286.7 160.1h2.6v2.6h-2.6zM272.1 185.8h2.6v2.6h-2.6zM283.6 168.3h2.6v2.6h-2.6zM283.1 177.6h2.6v2.6h-2.6zM280.8 171.4h2.6v2.6h-2.6zM279.9 176.3h2.6v2.6h-2.6zM275.6 172.8h2.6v2.6h-2.6zM283.1 176.9h2.6v2.6h-2.6zM276.3 166.1h2.6v2.6h-2.6zM278.9 180.6h2.6v2.6h-2.6zM281.3 171.6h2.6v2.6h-2.6zM275.0 174.6h2.6v2.6h-2.6zM291.5 169.7h2.6v2.6h-2.6zM292.8 160.8h2.6v2.6h-2.6zM275.8 184.5h2.6v2.6h-2.6zM277.5 171.1h2.6v2.6h-2.6zM286.1 166.0h2.6v2.6h-2.6zM279.0 164.0h2.6v2.6h-2.6zM286.4 177.6h2.6v2.6h-2.6zM286.8 178.4h2.6v2.6h-2.6zM284.1 175.5h2.6v2.6h-2.6zM283.9 167.8h2.6v2.6h-2.6zM280.2 166.8h2.6v2.6h-2.6zM287.3 166.5h2.6v2.6h-2.6zM279.8 181.0h2.6v2.6h-2.6zM283.6 179.8h2.6v2.6h-2.6zM282.2 178.1h2.6v2.6h-2.6zM280.6 170.8h2.6v2.6h-2.6zM280.2 169.8h2.6v2.6h-2.6zM273.9 184.1h2.6v2.6h-2.6zM272.0 182.4h2.6v2.6h-2.6zM280.3 187.0h2.6v2.6h-2.6zM281.5 175.0h2.6v2.6h-2.6zM286.6 163.6h2.6v2.6h-2.6zM279.9 187.1h2.6v2.6h-2.6zM287.5 171.8h2.6v2.6h-2.6zM277.5 170.7h2.6v2.6h-2.6zM284.9 167.4h2.6v2.6h-2.6zM286.5 166.4h2.6v2.6h-2.6zM284.2 178.0h2.6v2.6h-2.6zM279.6 191.4h2.6v2.6h-2.6zM282.9 180.2h2.6v2.6h-2.6zM289.5 172.2h2.6v2.6h-2.6zM283.2 182.9h2.6v2.6h-2.6zM282.5 174.2h2.6v2.6h-2.6zM280.8 181.3h2.6v2.6h-2.6zM281.6 183.9h2.6v2.6h-2.6zM277.3 175.7h2.6v2.6h-2.6zM286.9 167.2h2.6v2.6h-2.6zM285.4 174.7h2.6v2.6h-2.6zM286.2 171.2h2.6v2.6h-2.6zM282.7 166.3h2.6v2.6h-2.6zM285.2 173.8h2.6v2.6h-2.6zM282.3 171.1h2.6v2.6h-2.6zM286.4 176.7h2.6v2.6h-2.6zM286.6 170.2h2.6v2.6h-2.6zM280.1 181.4h2.6v2.6h-2.6zM288.8 189.0h2.6v2.6h-2.6zM285.1 182.8h2.6v2.6h-2.6zM285.5 169.6h2.6v2.6h-2.6zM281.5 166.5h2.6v2.6h-2.6zM275.9 175.0h2.6v2.6h-2.6zM283.0 180.1h2.6v2.6h-2.6zM290.9 167.1h2.6v2.6h-2.6zM278.2 171.6h2.6v2.6h-2.6zM284.6 172.9h2.6v2.6h-2.6zM276.7 179.3h2.6v2.6h-2.6zM281.1 170.5h2.6v2.6h-2.6zM286.9 182.1h2.6v2.6h-2.6zM279.3 176.7h2.6v2.6h-2.6zM280.3 172.3h2.6v2.6h-2.6zM279.3 174.1h2.6v2.6h-2.6zM278.5 178.0h2.6v2.6h-2.6zM285.2 174.3h2.6v2.6h-2.6zM275.0 181.7h2.6v2.6h-2.6zM278.9 186.8h2.6v2.6h-2.6zM285.1 175.6h2.6v2.6h-2.6zM289.2 169.0h2.6v2.6h-2.6zM282.0 180.6h2.6v2.6h-2.6zM282.6 175.9h2.6v2.6h-2.6zM276.7 184.7h2.6v2.6h-2.6zM278.2 157.9h2.6v2.6h-2.6zM279.0 182.6h2.6v2.6h-2.6zM282.2 173.9h2.6v2.6h-2.6zM281.5 178.6h2.6v2.6h-2.6zM280.6 171.5h2.6v2.6h-2.6zM280.8 170.6h2.6v2.6h-2.6zM285.3 175.0h2.6v2.6h-2.6zM284.8 171.5h2.6v2.6h-2.6zM275.7 191.3h2.6v2.6h-2.6zM287.2 179.6h2.6v2.6h-2.6zM283.9 174.8h2.6v2.6h-2.6zM287.0 162.0h2.6v2.6h-2.6zM282.0 182.8h2.6v2.6h-2.6zM285.5 172.4h2.6v2.6h-2.6zM280.1 171.7h2.6v2.6h-2.6zM284.9 184.5h2.6v2.6h-2.6zM277.4 173.6h2.6v2.6h-2.6zM282.8 168.5h2.6v2.6h-2.6zM288.5 170.1h2.6v2.6h-2.6zM283.8 174.8h2.6v2.6h-2.6zM281.5 170.1h2.6v2.6h-2.6zM276.5 181.1h2.6v2.6h-2.6zM284.6 179.1h2.6v2.6h-2.6zM279.9 170.1h2.6v2.6h-2.6zM281.7 169.9h2.6v2.6h-2.6zM281.3 167.8h2.6v2.6h-2.6zM290.6 167.7h2.6v2.6h-2.6zM268.0 172.3h2.6v2.6h-2.6zM286.7 167.3h2.6v2.6h-2.6zM288.8 169.4h2.6v2.6h-2.6zM286.4 179.6h2.6v2.6h-2.6zM286.8 174.2h2.6v2.6h-2.6zM292.1 165.3h2.6v2.6h-2.6zM290.1 170.6h2.6v2.6h-2.6zM281.5 161.7h2.6v2.6h-2.6zM279.3 171.8h2.6v2.6h-2.6zM275.3 167.8h2.6v2.6h-2.6zM279.0 183.8h2.6v2.6h-2.6zM288.6 170.0h2.6v2.6h-2.6zM277.6 172.3h2.6v2.6h-2.6zM289.2 170.4h2.6v2.6h-2.6zM280.5 187.2h2.6v2.6h-2.6zM282.0 170.6h2.6v2.6h-2.6zM274.9 173.9h2.6v2.6h-2.6zM277.1 189.6h2.6v2.6h-2.6zM279.7 172.7h2.6v2.6h-2.6zM278.2 174.0h2.6v2.6h-2.6zM281.3 185.4h2.6v2.6h-2.6zM277.4 170.0h2.6v2.6h-2.6zM279.3 176.4h2.6v2.6h-2.6zM281.5 172.0h2.6v2.6h-2.6zM284.2 171.3h2.6v2.6h-2.6zM280.4 165.2h2.6v2.6h-2.6zM276.6 173.3h2.6v2.6h-2.6zM282.2 188.3h2.6v2.6h-2.6zM283.2 169.1h2.6v2.6h-2.6zM282.7 179.0h2.6v2.6h-2.6zM281.3 189.8h2.6v2.6h-2.6zM281.6 181.5h2.6v2.6h-2.6zM283.7 167.6h2.6v2.6h-2.6zM282.8 177.6h2.6v2.6h-2.6zM288.9 163.9h2.6v2.6h-2.6zM272.3 180.5h2.6v2.6h-2.6zM283.6 180.3h2.6v2.6h-2.6zM284.1 176.4h2.6v2.6h-2.6zM282.9 177.8h2.6v2.6h-2.6zM278.9 175.6h2.6v2.6h-2.6zM274.3 176.4h2.6v2.6h-2.6zM281.9 165.1h2.6v2.6h-2.6zM278.2 170.0h2.6v2.6h-2.6zM278.6 165.2h2.6v2.6h-2.6zM286.0 170.1h2.6v2.6h-2.6zM281.7 168.7h2.6v2.6h-2.6zM281.8 179.7h2.6v2.6h-2.6zM287.4 180.8h2.6v2.6h-2.6zM276.2 182.6h2.6v2.6h-2.6zM282.3 176.4h2.6v2.6h-2.6zM280.5 166.1h2.6v2.6h-2.6zM282.2 170.3h2.6v2.6h-2.6zM280.4 186.1h2.6v2.6h-2.6zM282.4 180.4h2.6v2.6h-2.6zM287.7 165.7h2.6v2.6h-2.6zM279.9 189.4h2.6v2.6h-2.6zM289.3 175.8h2.6v2.6h-2.6zM273.2 180.1h2.6v2.6h-2.6zM288.7 168.7h2.6v2.6h-2.6zM286.7 173.9h2.6v2.6h-2.6zM277.4 182.6h2.6v2.6h-2.6zM281.3 165.9h2.6v2.6h-2.6zM282.8 184.0h2.6v2.6h-2.6zM289.8 169.3h2.6v2.6h-2.6zM289.5 178.0h2.6v2.6h-2.6zM284.0 171.9h2.6v2.6h-2.6zM280.6 172.0h2.6v2.6h-2.6zM283.2 174.3h2.6v2.6h-2.6zM275.3 174.6h2.6v2.6h-2.6zM279.3 184.2h2.6v2.6h-2.6zM282.9 185.0h2.6v2.6h-2.6zM286.4 161.6h2.6v2.6h-2.6zM278.9 179.9h2.6v2.6h-2.6zM276.1 179.6h2.6v2.6h-2.6zM277.6 175.4h2.6v2.6h-2.6zM283.7 173.2h2.6v2.6h-2.6zM276.4 170.8h2.6v2.6h-2.6zM279.4 162.0h2.6v2.6h-2.6zM284.8 173.5h2.6v2.6h-2.6zM282.8 186.5h2.6v2.6h-2.6zM278.7 191.0h2.6v2.6h-2.6zM274.8 172.5h2.6v2.6h-2.6zM283.5 168.5h2.6v2.6h-2.6zM282.9 167.3h2.6v2.6h-2.6zM286.8 176.0h2.6v2.6h-2.6zM293.0 177.3h2.6v2.6h-2.6zM285.2 178.3h2.6v2.6h-2.6zM279.4 175.2h2.6v2.6h-2.6zM279.2 169.8h2.6v2.6h-2.6zM284.5 176.3h2.6v2.6h-2.6zM288.8 189.8h2.6v2.6h-2.6zM278.5 176.8h2.6v2.6h-2.6zM283.6 166.1h2.6v2.6h-2.6zM285.7 160.2h2.6v2.6h-2.6zM278.1 185.8h2.6v2.6h-2.6zM281.5 175.5h2.6v2.6h-2.6zM285.8 182.0h2.6v2.6h-2.6zM283.7 176.0h2.6v2.6h-2.6zM278.1 179.2h2.6v2.6h-2.6zM286.2 183.4h2.6v2.6h-2.6zM277.9 181.3h2.6v2.6h-2.6zM284.7 177.6h2.6v2.6h-2.6zM290.1 169.9h2.6v2.6h-2.6zM283.9 179.9h2.6v2.6h-2.6zM280.9 158.7h2.6v2.6h-2.6zM285.9 173.2h2.6v2.6h-2.6zM287.2 172.5h2.6v2.6h-2.6zM279.3 171.3h2.6v2.6h-2.6zM278.5 180.0h2.6v2.6h-2.6zM277.4 174.8h2.6v2.6h-2.6zM276.7 173.9h2.6v2.6h-2.6zM277.8 179.7h2.6v2.6h-2.6zM285.2 175.5h2.6v2.6h-2.6zM282.6 177.0h2.6v2.6h-2.6zM277.7 165.9h2.6v2.6h-2.6zM282.6 179.1h2.6v2.6h-2.6zM282.9 175.6h2.6v2.6h-2.6zM280.4 181.3h2.6v2.6h-2.6zM277.4 188.6h2.6v2.6h-2.6zM280.7 171.0h2.6v2.6h-2.6zM284.9 165.8h2.6v2.6h-2.6zM285.7 165.9h2.6v2.6h-2.6zM282.8 186.8h2.6v2.6h-2.6zM282.4 165.3h2.6v2.6h-2.6zM282.1 167.4h2.6v2.6h-2.6zM283.2 162.7h2.6v2.6h-2.6zM286.1 184.4h2.6v2.6h-2.6zM281.8 173.2h2.6v2.6h-2.6zM282.3 162.3h2.6v2.6h-2.6zM278.1 176.5h2.6v2.6h-2.6zM289.3 175.7h2.6v2.6h-2.6zM288.8 174.2h2.6v2.6h-2.6zM287.5 176.3h2.6v2.6h-2.6zM280.6 180.2h2.6v2.6h-2.6zM277.7 176.2h2.6v2.6h-2.6zM286.4 165.9h2.6v2.6h-2.6zM279.6 177.1h2.6v2.6h-2.6zM283.4 177.1h2.6v2.6h-2.6zM288.6 167.0h2.6v2.6h-2.6zM286.1 175.1h2.6v2.6h-2.6zM278.3 172.9h2.6v2.6h-2.6zM281.3 168.7h2.6v2.6h-2.6zM278.1 176.8h2.6v2.6h-2.6zM287.3 187.2h2.6v2.6h-2.6zM291.7 162.0h2.6v2.6h-2.6zM279.4 173.8h2.6v2.6h-2.6zM279.5 175.0h2.6v2.6h-2.6zM276.8 168.8h2.6v2.6h-2.6zM286.4 176.6h2.6v2.6h-2.6zM275.4 179.4h2.6v2.6h-2.6zM292.2 181.8h2.6v2.6h-2.6zM278.2 194.5h2.6v2.6h-2.6zM276.3 173.6h2.6v2.6h-2.6zM284.2 176.3h2.6v2.6h-2.6zM286.6 178.9h2.6v2.6h-2.6zM284.4 175.9h2.6v2.6h-2.6zM281.6 170.9h2.6v2.6h-2.6zM279.3 174.8h2.6v2.6h-2.6zM279.2 171.5h2.6v2.6h-2.6zM281.4 188.9h2.6v2.6h-2.6zM283.1 172.4h2.6v2.6h-2.6zM284.2 181.7h2.6v2.6h-2.6zM280.7 172.5h2.6v2.6h-2.6zM282.3 164.7h2.6v2.6h-2.6zM286.1 181.4h2.6v2.6h-2.6zM274.8 180.0h2.6v2.6h-2.6zM280.2 179.2h2.6v2.6h-2.6zM283.1 171.2h2.6v2.6h-2.6zM278.3 169.0h2.6v2.6h-2.6zM286.7 177.7h2.6v2.6h-2.6zM287.9 172.9h2.6v2.6h-2.6zM283.1 176.7h2.6v2.6h-2.6zM279.1 179.4h2.6v2.6h-2.6zM275.8 169.4h2.6v2.6h-2.6zM283.7 177.0h2.6v2.6h-2.6zM284.4 173.9h2.6v2.6h-2.6zM278.6 170.3h2.6v2.6h-2.6zM280.5 175.6h2.6v2.6h-2.6zM284.5 176.5h2.6v2.6h-2.6zM277.0 183.6h2.6v2.6h-2.6zM288.8 178.7h2.6v2.6h-2.6zM284.1 180.6h2.6v2.6h-2.6zM286.5 176.3h2.6v2.6h-2.6zM280.3 185.0h2.6v2.6h-2.6zM278.8 179.3h2.6v2.6h-2.6zM278.4 173.3h2.6v2.6h-2.6zM282.8 175.0h2.6v2.6h-2.6zM290.7 173.0h2.6v2.6h-2.6zM290.2 183.3h2.6v2.6h-2.6zM273.5 180.3h2.6v2.6h-2.6zM285.2 178.8h2.6v2.6h-2.6zM278.9 176.0h2.6v2.6h-2.6zM283.5 168.0h2.6v2.6h-2.6zM280.8 177.2h2.6v2.6h-2.6zM285.4 173.3h2.6v2.6h-2.6zM279.9 179.0h2.6v2.6h-2.6zM273.9 173.0h2.6v2.6h-2.6zM283.4 171.1h2.6v2.6h-2.6zM279.9 184.1h2.6v2.6h-2.6zM286.4 171.2h2.6v2.6h-2.6zM280.8 176.2h2.6v2.6h-2.6zM288.3 181.2h2.6v2.6h-2.6zM280.4 172.1h2.6v2.6h-2.6zM281.1 167.6h2.6v2.6h-2.6zM283.4 173.0h2.6v2.6h-2.6zM287.5 174.1h2.6v2.6h-2.6zM281.3 180.9h2.6v2.6h-2.6zM284.6 180.9h2.6v2.6h-2.6zM286.8 168.4h2.6v2.6h-2.6zM278.2 182.7h2.6v2.6h-2.6zM278.2 176.4h2.6v2.6h-2.6zM279.1 186.5h2.6v2.6h-2.6zM275.9 165.8h2.6v2.6h-2.6zM278.2 169.4h2.6v2.6h-2.6zM280.3 180.0h2.6v2.6h-2.6zM286.3 173.4h2.6v2.6h-2.6zM274.3 182.2h2.6v2.6h-2.6zM278.4 181.9h2.6v2.6h-2.6zM280.1 182.8h2.6v2.6h-2.6zM283.4 165.2h2.6v2.6h-2.6zM280.2 176.2h2.6v2.6h-2.6zM281.7 190.7h2.6v2.6h-2.6zM273.6 197.6h2.6v2.6h-2.6zM278.4 191.9h2.6v2.6h-2.6zM279.5 192.9h2.6v2.6h-2.6zM282.9 194.3h2.6v2.6h-2.6zM280.8 197.7h2.6v2.6h-2.6zM286.1 189.8h2.6v2.6h-2.6zM284.2 193.2h2.6v2.6h-2.6zM279.3 196.0h2.6v2.6h-2.6zM281.6 197.5h2.6v2.6h-2.6zM283.8 185.5h2.6v2.6h-2.6zM279.3 194.4h2.6v2.6h-2.6zM284.4 192.9h2.6v2.6h-2.6zM285.4 184.7h2.6v2.6h-2.6zM278.5 185.6h2.6v2.6h-2.6zM284.3 185.1h2.6v2.6h-2.6zM281.5 191.5h2.6v2.6h-2.6zM279.1 195.8h2.6v2.6h-2.6zM279.0 190.1h2.6v2.6h-2.6zM283.9 192.8h2.6v2.6h-2.6zM279.9 191.7h2.6v2.6h-2.6zM280.2 184.8h2.6v2.6h-2.6zM286.8 187.9h2.6v2.6h-2.6zM277.6 191.2h2.6v2.6h-2.6zM287.2 185.2h2.6v2.6h-2.6zM279.2 195.2h2.6v2.6h-2.6zM285.3 186.1h2.6v2.6h-2.6zM281.3 191.5h2.6v2.6h-2.6zM277.3 190.2h2.6v2.6h-2.6zM270.8 196.6h2.6v2.6h-2.6zM284.7 196.6h2.6v2.6h-2.6zM280.2 186.5h2.6v2.6h-2.6zM275.3 185.2h2.6v2.6h-2.6zM283.2 192.9h2.6v2.6h-2.6zM276.1 188.8h2.6v2.6h-2.6zM275.5 179.0h2.6v2.6h-2.6zM287.9 173.9h2.6v2.6h-2.6zM274.2 174.4h2.6v2.6h-2.6zM280.6 183.5h2.6v2.6h-2.6zM284.2 173.7h2.6v2.6h-2.6zM271.4 177.9h2.6v2.6h-2.6zM282.8 181.8h2.6v2.6h-2.6zM281.9 181.6h2.6v2.6h-2.6zM277.4 173.8h2.6v2.6h-2.6zM274.2 174.6h2.6v2.6h-2.6zM281.9 178.9h2.6v2.6h-2.6zM268.8 176.0h2.6v2.6h-2.6zM278.3 176.9h2.6v2.6h-2.6zM274.7 173.7h2.6v2.6h-2.6zM281.8 181.4h2.6v2.6h-2.6zM276.1 181.7h2.6v2.6h-2.6zM263.8 181.4h2.6v2.6h-2.6zM269.5 183.0h2.6v2.6h-2.6zM278.7 181.2h2.6v2.6h-2.6zM276.2 176.0h2.6v2.6h-2.6zM274.6 183.6h2.6v2.6h-2.6zM280.8 174.3h2.6v2.6h-2.6zM274.3 183.7h2.6v2.6h-2.6zM277.7 178.7h2.6v2.6h-2.6zM274.9 181.4h2.6v2.6h-2.6z" fill="#00ff00"/>
<rect x="238" y="139.5" width="88.5" height="87.0" stroke="#000" stroke-width="1.6" fill="none"/>
<rect x="238" y="82" width="89.5" height="56.5" fill="#dfe0e0"/>
<polygon points="252.5,83.5 327.5,84.2 327.5,110.6 293.3,110.6 293.3,124.5 238,124.5 238,120" fill="#c5c3b8"/>
<polygon points="257.5,85.5 325,86.5 325,110.6 293.3,110.6 293.3,121.5 245,121.5" fill="#d6d5d0"/>
<polygon points="238,124.5 293.3,124.5 293.3,138.5 238,138.5" fill="#d4d7da"/>
<rect x="238" y="124" width="55" height="1.2" fill="#b8b8b0"/>
<rect x="261" y="126.8" width="31" height="3" fill="#1e1e1e"/>
<ellipse cx="263.4" cy="91.6" rx="3.8" ry="3.5" fill="#cc1c1c"/>
<text x="267.5" y="94.8" font-size="7.2" font-weight="bold" font-style="italic" font-family='"Liberation Sans", sans-serif' fill="#3a3a3a">blox</text>
<text x="294" y="95" font-size="5.6" font-style="italic" font-family='"Liberation Sans", sans-serif' fill="#444">EVK-M8T</text>
<rect x="257" y="100" width="40" height="1" fill="#999"/><rect x="257" y="102.8" width="10" height="1" fill="#999"/>
<rect x="250" y="117" width="6" height="2" fill="#666"/>
<path d="M259 119.5h32M263 117v2.5M266 117.5v2M270 117v2.5M275 113.5v6M279 114.5v5M282 112.5v7M285 115v4.5M288 114v5.5" stroke="#7a7a78" stroke-width="0.9" fill="none"/>
<rect x="293.3" y="110.6" width="34.2" height="27.9" fill="#efefef"/>
<polygon points="294.6,118.2 304.4,111.5 321,112 326,117.5 326,124 318.2,133.5 300.2,135 294,126.5" fill="#1b1b1b"/>
<polygon points="296,117.8 304.8,112.5 320.2,113 324.6,117.6 318,121.5 300,122.5" fill="#2a2a2a"/>
<path d="M323 131 Q326 134 327.5 136.5" stroke="#222" stroke-width="1.2" fill="none"/>
<rect x="57.5" y="287.5" width="273.0" height="152.5" fill="#fff"/>
<line x1="125.5" y1="287.5" x2="125.5" y2="440" stroke="#3c3c3c" stroke-width="0.9" stroke-dasharray="1 5.4" fill="none"/>
<path d="M125.5 287.5v2.5" stroke="#262626" stroke-width="1" fill="none"/>
<line x1="194.5" y1="287.5" x2="194.5" y2="440" stroke="#3c3c3c" stroke-width="0.9" stroke-dasharray="1 5.4" fill="none"/>
<path d="M194.5 287.5v2.5" stroke="#262626" stroke-width="1" fill="none"/>
<line x1="262.5" y1="287.5" x2="262.5" y2="440" stroke="#3c3c3c" stroke-width="0.9" stroke-dasharray="1 5.4" fill="none"/>
<path d="M262.5 287.5v2.5" stroke="#262626" stroke-width="1" fill="none"/>
<line x1="57.5" y1="303.0" x2="330.5" y2="303.0" stroke="#3c3c3c" stroke-width="0.9" stroke-dasharray="1 5.4" fill="none"/>
<path d="M57.5 303.0h2.5M330.5 303.0h-2.5" stroke="#262626" stroke-width="1" fill="none"/>
<text x="53.0" y="309.0" font-size="16.7" text-anchor="end" font-weight="normal" font-family='"Liberation Sans", sans-serif' >10</text>
<line x1="57.5" y1="342.5" x2="330.5" y2="342.5" stroke="#3c3c3c" stroke-width="0.9" stroke-dasharray="1 5.4" fill="none"/>
<path d="M57.5 342.5h2.5M330.5 342.5h-2.5" stroke="#262626" stroke-width="1" fill="none"/>
<text x="53.0" y="348.5" font-size="16.7" text-anchor="end" font-weight="normal" font-family='"Liberation Sans", sans-serif' >5</text>
<line x1="57.5" y1="382.0" x2="330.5" y2="382.0" stroke="#3c3c3c" stroke-width="0.9" stroke-dasharray="1 5.4" fill="none"/>
<path d="M57.5 382.0h2.5M330.5 382.0h-2.5" stroke="#262626" stroke-width="1" fill="none"/>
<text x="53.0" y="388.0" font-size="16.7" text-anchor="end" font-weight="normal" font-family='"Liberation Sans", sans-serif' >0</text>
<line x1="57.5" y1="421.5" x2="330.5" y2="421.5" stroke="#3c3c3c" stroke-width="0.9" stroke-dasharray="1 5.4" fill="none"/>
<path d="M57.5 421.5h2.5M330.5 421.5h-2.5" stroke="#262626" stroke-width="1" fill="none"/>
<text x="53.0" y="427.5" font-size="16.7" text-anchor="end" font-weight="normal" font-family='"Liberation Sans", sans-serif' >−5</text>
<path d="M57.5 440V287.5H330.5V440" stroke="#262626" stroke-width="1" fill="none"/>
<path d="M57.0 374.1h1.9v1.9h-1.9zM57.2 386.8h1.9v1.9h-1.9zM57.5 368.9h1.9v1.9h-1.9zM57.7 383.8h1.9v1.9h-1.9zM58.0 392.6h1.9v1.9h-1.9zM58.2 380.7h1.9v1.9h-1.9zM58.5 389.7h1.9v1.9h-1.9zM58.7 396.4h1.9v1.9h-1.9zM59.0 385.1h1.9v1.9h-1.9zM59.2 373.8h1.9v1.9h-1.9zM59.5 377.0h1.9v1.9h-1.9zM59.7 393.2h1.9v1.9h-1.9zM60.0 374.1h1.9v1.9h-1.9zM60.2 382.1h1.9v1.9h-1.9zM60.5 378.4h1.9v1.9h-1.9zM60.7 367.7h1.9v1.9h-1.9zM61.2 378.7h1.9v1.9h-1.9zM61.5 375.6h1.9v1.9h-1.9zM61.8 376.6h1.9v1.9h-1.9zM62.0 382.2h1.9v1.9h-1.9zM62.3 376.5h1.9v1.9h-1.9zM62.5 381.5h1.9v1.9h-1.9zM62.8 394.0h1.9v1.9h-1.9zM63.3 370.3h1.9v1.9h-1.9zM64.0 373.5h1.9v1.9h-1.9zM64.3 363.8h1.9v1.9h-1.9zM64.5 384.7h1.9v1.9h-1.9zM64.8 387.4h1.9v1.9h-1.9zM65.0 380.5h1.9v1.9h-1.9zM65.3 380.3h1.9v1.9h-1.9zM65.5 376.9h1.9v1.9h-1.9zM66.1 381.9h1.9v1.9h-1.9zM66.3 374.4h1.9v1.9h-1.9zM66.6 394.0h1.9v1.9h-1.9zM66.8 388.3h1.9v1.9h-1.9zM67.3 379.5h1.9v1.9h-1.9zM67.6 379.2h1.9v1.9h-1.9zM67.8 382.0h1.9v1.9h-1.9zM68.1 380.6h1.9v1.9h-1.9zM68.3 383.1h1.9v1.9h-1.9zM68.6 375.5h1.9v1.9h-1.9zM68.8 383.7h1.9v1.9h-1.9zM69.3 383.6h1.9v1.9h-1.9zM69.6 361.2h1.9v1.9h-1.9zM69.8 382.2h1.9v1.9h-1.9zM70.1 387.5h1.9v1.9h-1.9zM70.4 380.2h1.9v1.9h-1.9zM70.6 398.4h1.9v1.9h-1.9zM71.1 379.9h1.9v1.9h-1.9zM71.9 371.9h1.9v1.9h-1.9zM72.1 389.1h1.9v1.9h-1.9zM72.6 376.9h1.9v1.9h-1.9zM72.9 381.9h1.9v1.9h-1.9zM73.1 395.4h1.9v1.9h-1.9zM73.4 384.1h1.9v1.9h-1.9zM73.6 374.7h1.9v1.9h-1.9zM73.9 376.2h1.9v1.9h-1.9zM74.1 378.3h1.9v1.9h-1.9zM74.4 380.5h1.9v1.9h-1.9zM74.6 381.8h1.9v1.9h-1.9zM74.9 363.3h1.9v1.9h-1.9zM75.4 385.2h1.9v1.9h-1.9zM75.7 373.6h1.9v1.9h-1.9zM75.9 376.4h1.9v1.9h-1.9zM76.2 381.8h1.9v1.9h-1.9zM76.4 373.0h1.9v1.9h-1.9zM76.7 383.0h1.9v1.9h-1.9zM76.9 401.1h1.9v1.9h-1.9zM77.2 378.5h1.9v1.9h-1.9zM77.4 389.4h1.9v1.9h-1.9zM77.7 383.2h1.9v1.9h-1.9zM77.9 389.1h1.9v1.9h-1.9zM78.2 371.6h1.9v1.9h-1.9zM78.4 366.7h1.9v1.9h-1.9zM78.7 406.3h1.9v1.9h-1.9zM78.9 364.8h1.9v1.9h-1.9zM79.2 377.8h1.9v1.9h-1.9zM79.7 395.6h1.9v1.9h-1.9zM80.0 375.2h1.9v1.9h-1.9zM80.5 399.2h1.9v1.9h-1.9zM80.7 378.3h1.9v1.9h-1.9zM81.2 378.6h1.9v1.9h-1.9zM81.7 375.9h1.9v1.9h-1.9zM82.0 390.5h1.9v1.9h-1.9zM82.2 378.6h1.9v1.9h-1.9zM82.5 384.3h1.9v1.9h-1.9zM82.7 380.9h1.9v1.9h-1.9zM83.0 373.9h1.9v1.9h-1.9zM83.2 383.2h1.9v1.9h-1.9zM83.5 370.0h1.9v1.9h-1.9zM83.7 374.4h1.9v1.9h-1.9zM84.0 382.2h1.9v1.9h-1.9zM84.3 385.2h1.9v1.9h-1.9zM84.5 376.9h1.9v1.9h-1.9zM84.8 378.7h1.9v1.9h-1.9zM85.0 381.1h1.9v1.9h-1.9zM85.3 385.4h1.9v1.9h-1.9zM85.5 385.9h1.9v1.9h-1.9zM85.8 389.3h1.9v1.9h-1.9zM86.0 378.6h1.9v1.9h-1.9zM86.5 390.9h1.9v1.9h-1.9zM86.8 386.4h1.9v1.9h-1.9zM87.5 377.8h1.9v1.9h-1.9zM87.8 368.3h1.9v1.9h-1.9zM88.0 374.7h1.9v1.9h-1.9zM88.3 388.5h1.9v1.9h-1.9zM88.5 375.0h1.9v1.9h-1.9zM88.8 389.8h1.9v1.9h-1.9zM89.1 395.6h1.9v1.9h-1.9zM89.6 387.1h1.9v1.9h-1.9zM89.8 390.5h1.9v1.9h-1.9zM90.1 374.6h1.9v1.9h-1.9zM90.3 404.1h1.9v1.9h-1.9zM90.6 385.6h1.9v1.9h-1.9zM90.8 374.4h1.9v1.9h-1.9zM91.1 406.0h1.9v1.9h-1.9zM91.3 358.6h1.9v1.9h-1.9zM91.6 391.8h1.9v1.9h-1.9zM91.8 374.4h1.9v1.9h-1.9zM92.3 387.0h1.9v1.9h-1.9zM92.6 373.9h1.9v1.9h-1.9zM92.8 368.7h1.9v1.9h-1.9zM93.1 372.7h1.9v1.9h-1.9zM93.4 397.4h1.9v1.9h-1.9zM93.6 392.0h1.9v1.9h-1.9zM93.9 376.0h1.9v1.9h-1.9zM94.1 382.5h1.9v1.9h-1.9zM94.6 367.6h1.9v1.9h-1.9zM94.9 382.7h1.9v1.9h-1.9zM95.1 385.4h1.9v1.9h-1.9zM99.7 370.6h1.9v1.9h-1.9zM100.4 369.1h1.9v1.9h-1.9zM100.7 376.7h1.9v1.9h-1.9zM105.5 383.2h1.9v1.9h-1.9zM110.3 389.9h1.9v1.9h-1.9zM110.5 386.1h1.9v1.9h-1.9zM110.8 385.0h1.9v1.9h-1.9zM111.3 380.1h1.9v1.9h-1.9zM111.6 371.5h1.9v1.9h-1.9zM112.1 374.4h1.9v1.9h-1.9zM112.3 380.9h1.9v1.9h-1.9zM112.6 379.6h1.9v1.9h-1.9zM112.8 387.5h1.9v1.9h-1.9zM113.1 371.6h1.9v1.9h-1.9zM113.6 380.6h1.9v1.9h-1.9zM113.8 363.8h1.9v1.9h-1.9zM114.1 385.6h1.9v1.9h-1.9zM114.3 377.6h1.9v1.9h-1.9zM114.6 370.9h1.9v1.9h-1.9zM115.1 380.0h1.9v1.9h-1.9zM115.3 388.1h1.9v1.9h-1.9zM115.6 386.7h1.9v1.9h-1.9zM115.9 377.7h1.9v1.9h-1.9zM116.1 374.8h1.9v1.9h-1.9zM116.4 370.2h1.9v1.9h-1.9zM116.6 389.6h1.9v1.9h-1.9zM116.9 373.5h1.9v1.9h-1.9zM117.1 391.6h1.9v1.9h-1.9zM117.4 386.2h1.9v1.9h-1.9zM117.6 379.1h1.9v1.9h-1.9zM117.9 373.9h1.9v1.9h-1.9zM118.1 379.1h1.9v1.9h-1.9zM118.4 373.8h1.9v1.9h-1.9zM118.6 391.1h1.9v1.9h-1.9zM118.9 393.6h1.9v1.9h-1.9zM119.1 375.4h1.9v1.9h-1.9zM119.4 393.6h1.9v1.9h-1.9zM119.6 396.7h1.9v1.9h-1.9zM120.1 381.2h1.9v1.9h-1.9zM120.4 375.0h1.9v1.9h-1.9zM120.9 388.3h1.9v1.9h-1.9zM121.2 366.4h1.9v1.9h-1.9zM121.4 371.5h1.9v1.9h-1.9zM121.7 386.9h1.9v1.9h-1.9zM121.9 372.0h1.9v1.9h-1.9zM122.2 382.0h1.9v1.9h-1.9zM122.4 375.5h1.9v1.9h-1.9zM122.7 387.4h1.9v1.9h-1.9zM122.9 382.7h1.9v1.9h-1.9zM123.2 375.7h1.9v1.9h-1.9zM123.4 377.1h1.9v1.9h-1.9zM123.7 383.1h1.9v1.9h-1.9zM123.9 374.3h1.9v1.9h-1.9zM124.2 383.9h1.9v1.9h-1.9zM124.4 369.1h1.9v1.9h-1.9zM124.7 377.7h1.9v1.9h-1.9zM125.0 381.0h1.9v1.9h-1.9zM125.2 383.7h1.9v1.9h-1.9zM125.5 374.8h1.9v1.9h-1.9zM126.0 394.1h1.9v1.9h-1.9zM127.0 379.8h1.9v1.9h-1.9zM127.2 377.1h1.9v1.9h-1.9zM127.5 376.6h1.9v1.9h-1.9zM127.7 391.1h1.9v1.9h-1.9zM128.0 381.6h1.9v1.9h-1.9zM128.2 377.3h1.9v1.9h-1.9zM128.5 378.9h1.9v1.9h-1.9zM128.7 374.2h1.9v1.9h-1.9zM129.0 381.1h1.9v1.9h-1.9zM129.2 374.4h1.9v1.9h-1.9zM129.5 389.6h1.9v1.9h-1.9zM129.8 362.5h1.9v1.9h-1.9zM130.3 372.8h1.9v1.9h-1.9zM130.5 379.2h1.9v1.9h-1.9zM130.8 387.8h1.9v1.9h-1.9zM131.0 370.7h1.9v1.9h-1.9zM131.3 378.6h1.9v1.9h-1.9zM131.5 383.4h1.9v1.9h-1.9zM131.8 375.5h1.9v1.9h-1.9zM132.0 380.8h1.9v1.9h-1.9zM132.5 390.0h1.9v1.9h-1.9zM132.8 380.3h1.9v1.9h-1.9zM133.0 388.1h1.9v1.9h-1.9zM133.3 380.6h1.9v1.9h-1.9zM133.5 374.8h1.9v1.9h-1.9zM133.8 383.0h1.9v1.9h-1.9zM134.0 384.6h1.9v1.9h-1.9zM134.3 380.8h1.9v1.9h-1.9zM134.6 377.9h1.9v1.9h-1.9zM134.8 392.6h1.9v1.9h-1.9zM135.1 385.7h1.9v1.9h-1.9zM135.3 374.5h1.9v1.9h-1.9zM135.8 379.4h1.9v1.9h-1.9zM136.1 382.0h1.9v1.9h-1.9zM136.3 373.2h1.9v1.9h-1.9zM136.6 386.2h1.9v1.9h-1.9zM137.1 390.2h1.9v1.9h-1.9zM137.3 378.4h1.9v1.9h-1.9zM137.6 385.2h1.9v1.9h-1.9zM137.8 386.6h1.9v1.9h-1.9zM138.1 374.4h1.9v1.9h-1.9zM138.3 390.5h1.9v1.9h-1.9zM138.6 393.4h1.9v1.9h-1.9zM138.9 375.7h1.9v1.9h-1.9zM139.1 396.7h1.9v1.9h-1.9zM139.4 376.9h1.9v1.9h-1.9zM139.6 384.7h1.9v1.9h-1.9zM139.9 369.2h1.9v1.9h-1.9zM140.1 377.5h1.9v1.9h-1.9zM140.4 375.9h1.9v1.9h-1.9zM140.6 377.1h1.9v1.9h-1.9zM140.9 374.9h1.9v1.9h-1.9zM141.4 364.6h1.9v1.9h-1.9zM141.6 368.8h1.9v1.9h-1.9zM141.9 366.9h1.9v1.9h-1.9zM142.1 382.2h1.9v1.9h-1.9zM142.4 377.1h1.9v1.9h-1.9zM142.6 370.2h1.9v1.9h-1.9zM142.9 382.4h1.9v1.9h-1.9zM143.1 379.5h1.9v1.9h-1.9zM143.4 384.0h1.9v1.9h-1.9zM143.7 389.5h1.9v1.9h-1.9zM143.9 374.1h1.9v1.9h-1.9zM144.2 372.5h1.9v1.9h-1.9zM144.4 373.8h1.9v1.9h-1.9zM144.7 385.4h1.9v1.9h-1.9zM144.9 385.8h1.9v1.9h-1.9zM145.2 378.1h1.9v1.9h-1.9zM145.7 385.6h1.9v1.9h-1.9zM145.9 395.5h1.9v1.9h-1.9zM146.2 387.3h1.9v1.9h-1.9zM146.4 378.9h1.9v1.9h-1.9zM146.7 392.8h1.9v1.9h-1.9zM146.9 374.1h1.9v1.9h-1.9zM147.2 380.8h1.9v1.9h-1.9zM147.4 372.5h1.9v1.9h-1.9zM147.7 390.8h1.9v1.9h-1.9zM148.2 374.4h1.9v1.9h-1.9zM148.5 379.4h1.9v1.9h-1.9zM148.7 388.5h1.9v1.9h-1.9zM149.2 385.3h1.9v1.9h-1.9zM149.5 382.1h1.9v1.9h-1.9zM150.0 372.5h1.9v1.9h-1.9zM150.2 374.7h1.9v1.9h-1.9zM150.5 392.0h1.9v1.9h-1.9zM150.7 381.7h1.9v1.9h-1.9zM151.0 397.0h1.9v1.9h-1.9zM151.2 370.6h1.9v1.9h-1.9zM151.5 391.2h1.9v1.9h-1.9zM151.7 372.4h1.9v1.9h-1.9zM152.2 374.9h1.9v1.9h-1.9zM152.5 378.6h1.9v1.9h-1.9zM152.8 388.0h1.9v1.9h-1.9zM153.0 376.8h1.9v1.9h-1.9zM153.3 381.3h1.9v1.9h-1.9zM153.5 375.2h1.9v1.9h-1.9zM154.0 378.1h1.9v1.9h-1.9zM154.3 366.9h1.9v1.9h-1.9zM154.5 371.4h1.9v1.9h-1.9zM154.8 370.9h1.9v1.9h-1.9zM155.0 390.7h1.9v1.9h-1.9zM155.3 378.9h1.9v1.9h-1.9zM155.8 390.2h1.9v1.9h-1.9zM156.0 392.0h1.9v1.9h-1.9zM156.3 383.5h1.9v1.9h-1.9zM156.5 371.3h1.9v1.9h-1.9zM156.8 390.2h1.9v1.9h-1.9zM157.1 368.6h1.9v1.9h-1.9zM157.3 381.0h1.9v1.9h-1.9zM157.6 372.5h1.9v1.9h-1.9zM157.8 381.9h1.9v1.9h-1.9zM158.1 387.1h1.9v1.9h-1.9zM158.3 389.1h1.9v1.9h-1.9zM158.6 379.7h1.9v1.9h-1.9zM158.8 392.6h1.9v1.9h-1.9zM159.3 367.0h1.9v1.9h-1.9zM159.6 369.4h1.9v1.9h-1.9zM159.8 388.5h1.9v1.9h-1.9zM160.1 381.7h1.9v1.9h-1.9zM160.3 381.8h1.9v1.9h-1.9zM160.8 380.8h1.9v1.9h-1.9zM161.1 377.2h1.9v1.9h-1.9zM161.3 379.6h1.9v1.9h-1.9zM161.6 388.0h1.9v1.9h-1.9zM162.1 372.6h1.9v1.9h-1.9zM162.4 366.4h1.9v1.9h-1.9zM162.6 389.0h1.9v1.9h-1.9zM162.9 395.4h1.9v1.9h-1.9zM163.1 376.9h1.9v1.9h-1.9zM163.4 369.4h1.9v1.9h-1.9zM163.6 395.9h1.9v1.9h-1.9zM163.9 374.7h1.9v1.9h-1.9zM164.1 380.4h1.9v1.9h-1.9zM164.4 373.0h1.9v1.9h-1.9zM164.6 381.6h1.9v1.9h-1.9zM164.9 376.4h1.9v1.9h-1.9zM165.1 392.5h1.9v1.9h-1.9zM165.4 381.1h1.9v1.9h-1.9zM165.6 387.2h1.9v1.9h-1.9zM165.9 375.2h1.9v1.9h-1.9zM166.2 383.1h1.9v1.9h-1.9zM166.7 371.5h1.9v1.9h-1.9zM166.9 378.5h1.9v1.9h-1.9zM167.2 378.7h1.9v1.9h-1.9zM167.4 370.8h1.9v1.9h-1.9zM167.9 380.2h1.9v1.9h-1.9zM168.2 375.6h1.9v1.9h-1.9zM168.4 378.5h1.9v1.9h-1.9zM168.7 385.5h1.9v1.9h-1.9zM168.9 364.0h1.9v1.9h-1.9zM169.2 390.6h1.9v1.9h-1.9zM169.4 379.4h1.9v1.9h-1.9zM169.7 386.1h1.9v1.9h-1.9zM169.9 372.6h1.9v1.9h-1.9zM170.2 373.5h1.9v1.9h-1.9zM170.4 384.3h1.9v1.9h-1.9zM170.7 398.6h1.9v1.9h-1.9zM171.0 378.1h1.9v1.9h-1.9zM171.2 380.6h1.9v1.9h-1.9zM171.5 371.2h1.9v1.9h-1.9zM171.7 386.4h1.9v1.9h-1.9zM172.0 387.6h1.9v1.9h-1.9zM172.2 369.8h1.9v1.9h-1.9zM172.5 383.8h1.9v1.9h-1.9zM172.7 372.1h1.9v1.9h-1.9zM173.2 377.1h1.9v1.9h-1.9zM173.5 373.1h1.9v1.9h-1.9zM173.7 394.0h1.9v1.9h-1.9zM174.0 385.8h1.9v1.9h-1.9zM174.2 386.0h1.9v1.9h-1.9zM174.5 374.5h1.9v1.9h-1.9zM174.7 365.9h1.9v1.9h-1.9zM175.0 373.3h1.9v1.9h-1.9zM175.3 374.3h1.9v1.9h-1.9zM175.5 367.4h1.9v1.9h-1.9zM175.8 383.2h1.9v1.9h-1.9zM176.0 375.0h1.9v1.9h-1.9zM176.3 387.1h1.9v1.9h-1.9zM176.5 383.3h1.9v1.9h-1.9zM176.8 374.0h1.9v1.9h-1.9zM177.0 374.8h1.9v1.9h-1.9zM177.3 378.3h1.9v1.9h-1.9zM177.5 366.7h1.9v1.9h-1.9zM177.8 367.5h1.9v1.9h-1.9zM178.3 369.5h1.9v1.9h-1.9zM178.5 376.6h1.9v1.9h-1.9zM179.3 380.4h1.9v1.9h-1.9zM179.5 375.3h1.9v1.9h-1.9zM179.8 376.5h1.9v1.9h-1.9zM180.1 376.1h1.9v1.9h-1.9zM180.3 362.4h1.9v1.9h-1.9zM180.6 363.1h1.9v1.9h-1.9zM181.1 364.8h1.9v1.9h-1.9zM181.3 375.9h1.9v1.9h-1.9zM181.6 376.3h1.9v1.9h-1.9zM181.8 374.9h1.9v1.9h-1.9zM182.1 369.4h1.9v1.9h-1.9zM182.3 387.3h1.9v1.9h-1.9zM182.6 379.5h1.9v1.9h-1.9zM183.1 385.7h1.9v1.9h-1.9zM183.6 375.9h1.9v1.9h-1.9zM183.8 377.2h1.9v1.9h-1.9zM184.1 371.3h1.9v1.9h-1.9zM184.4 374.0h1.9v1.9h-1.9zM184.6 371.4h1.9v1.9h-1.9zM184.9 384.2h1.9v1.9h-1.9zM185.1 384.8h1.9v1.9h-1.9zM185.4 381.1h1.9v1.9h-1.9zM185.6 375.1h1.9v1.9h-1.9zM185.9 384.4h1.9v1.9h-1.9zM186.1 384.0h1.9v1.9h-1.9zM186.4 373.4h1.9v1.9h-1.9zM186.9 383.2h1.9v1.9h-1.9zM187.1 379.9h1.9v1.9h-1.9zM187.6 374.0h1.9v1.9h-1.9zM187.9 383.5h1.9v1.9h-1.9zM188.4 382.7h1.9v1.9h-1.9zM188.6 381.3h1.9v1.9h-1.9zM189.2 381.5h1.9v1.9h-1.9zM189.7 387.1h1.9v1.9h-1.9zM189.9 371.1h1.9v1.9h-1.9zM190.2 377.2h1.9v1.9h-1.9zM190.4 370.6h1.9v1.9h-1.9zM190.7 392.3h1.9v1.9h-1.9zM190.9 371.3h1.9v1.9h-1.9zM191.2 391.9h1.9v1.9h-1.9zM191.4 368.8h1.9v1.9h-1.9zM191.7 388.8h1.9v1.9h-1.9zM192.2 368.6h1.9v1.9h-1.9zM192.4 372.2h1.9v1.9h-1.9zM192.7 377.2h1.9v1.9h-1.9zM192.9 395.5h1.9v1.9h-1.9zM193.2 381.1h1.9v1.9h-1.9zM193.5 385.2h1.9v1.9h-1.9zM193.7 377.2h1.9v1.9h-1.9zM194.0 391.2h1.9v1.9h-1.9zM194.2 372.5h1.9v1.9h-1.9zM194.5 390.0h1.9v1.9h-1.9zM194.7 364.2h1.9v1.9h-1.9zM195.0 387.1h1.9v1.9h-1.9zM195.2 381.6h1.9v1.9h-1.9zM195.5 380.0h1.9v1.9h-1.9zM195.7 379.5h1.9v1.9h-1.9zM196.0 384.4h1.9v1.9h-1.9zM196.2 381.7h1.9v1.9h-1.9zM196.5 377.7h1.9v1.9h-1.9zM197.0 368.5h1.9v1.9h-1.9zM197.2 370.4h1.9v1.9h-1.9zM197.5 383.2h1.9v1.9h-1.9zM197.8 381.4h1.9v1.9h-1.9zM198.0 353.8h1.9v1.9h-1.9zM198.5 372.2h1.9v1.9h-1.9zM198.8 378.3h1.9v1.9h-1.9zM199.0 363.6h1.9v1.9h-1.9zM199.5 372.3h1.9v1.9h-1.9zM199.8 399.2h1.9v1.9h-1.9zM200.0 379.3h1.9v1.9h-1.9zM200.3 376.1h1.9v1.9h-1.9zM200.5 395.7h1.9v1.9h-1.9zM200.8 386.4h1.9v1.9h-1.9zM201.5 387.3h1.9v1.9h-1.9zM201.8 385.4h1.9v1.9h-1.9zM202.3 391.2h1.9v1.9h-1.9zM202.8 385.2h1.9v1.9h-1.9zM203.1 385.2h1.9v1.9h-1.9zM203.8 379.3h1.9v1.9h-1.9zM204.1 381.1h1.9v1.9h-1.9zM204.8 373.5h1.9v1.9h-1.9zM205.1 378.0h1.9v1.9h-1.9zM205.3 392.9h1.9v1.9h-1.9zM205.8 372.7h1.9v1.9h-1.9zM206.3 370.4h1.9v1.9h-1.9zM206.6 391.9h1.9v1.9h-1.9zM206.8 388.0h1.9v1.9h-1.9zM207.1 381.0h1.9v1.9h-1.9zM207.4 376.8h1.9v1.9h-1.9zM207.6 380.5h1.9v1.9h-1.9zM207.9 376.4h1.9v1.9h-1.9zM208.1 381.9h1.9v1.9h-1.9zM208.4 385.9h1.9v1.9h-1.9zM208.9 366.3h1.9v1.9h-1.9zM209.4 387.2h1.9v1.9h-1.9zM209.6 366.0h1.9v1.9h-1.9zM209.9 370.4h1.9v1.9h-1.9zM210.1 387.7h1.9v1.9h-1.9zM210.4 378.7h1.9v1.9h-1.9zM210.6 383.8h1.9v1.9h-1.9zM210.9 384.0h1.9v1.9h-1.9zM211.1 383.1h1.9v1.9h-1.9zM211.4 390.6h1.9v1.9h-1.9zM211.9 384.7h1.9v1.9h-1.9zM212.2 378.4h1.9v1.9h-1.9zM212.4 383.2h1.9v1.9h-1.9zM212.7 376.7h1.9v1.9h-1.9zM212.9 377.6h1.9v1.9h-1.9zM213.4 383.0h1.9v1.9h-1.9zM213.9 378.6h1.9v1.9h-1.9zM214.2 372.1h1.9v1.9h-1.9zM214.4 378.6h1.9v1.9h-1.9zM215.4 373.6h1.9v1.9h-1.9zM215.7 378.7h1.9v1.9h-1.9zM215.9 382.5h1.9v1.9h-1.9zM216.2 379.4h1.9v1.9h-1.9zM216.5 381.0h1.9v1.9h-1.9zM216.7 380.5h1.9v1.9h-1.9zM217.0 380.4h1.9v1.9h-1.9zM217.2 377.5h1.9v1.9h-1.9zM217.7 373.1h1.9v1.9h-1.9zM218.0 377.6h1.9v1.9h-1.9zM218.2 377.0h1.9v1.9h-1.9zM218.5 379.8h1.9v1.9h-1.9zM218.7 377.8h1.9v1.9h-1.9zM219.0 387.1h1.9v1.9h-1.9zM219.2 380.6h1.9v1.9h-1.9zM219.5 384.6h1.9v1.9h-1.9zM219.7 394.7h1.9v1.9h-1.9zM220.0 369.1h1.9v1.9h-1.9zM220.2 375.7h1.9v1.9h-1.9zM220.5 367.3h1.9v1.9h-1.9zM220.8 375.9h1.9v1.9h-1.9zM221.0 374.8h1.9v1.9h-1.9zM221.3 387.7h1.9v1.9h-1.9zM221.8 376.5h1.9v1.9h-1.9zM222.0 385.3h1.9v1.9h-1.9zM222.3 384.0h1.9v1.9h-1.9zM222.5 377.3h1.9v1.9h-1.9zM222.8 371.3h1.9v1.9h-1.9zM223.0 380.5h1.9v1.9h-1.9zM223.3 371.8h1.9v1.9h-1.9zM223.5 372.2h1.9v1.9h-1.9zM224.0 382.7h1.9v1.9h-1.9zM224.3 388.3h1.9v1.9h-1.9zM224.5 367.2h1.9v1.9h-1.9zM224.8 394.8h1.9v1.9h-1.9zM225.0 390.4h1.9v1.9h-1.9zM225.3 382.7h1.9v1.9h-1.9zM225.8 379.3h1.9v1.9h-1.9zM226.1 377.5h1.9v1.9h-1.9zM226.3 377.3h1.9v1.9h-1.9zM226.6 380.1h1.9v1.9h-1.9zM226.8 370.2h1.9v1.9h-1.9zM227.1 379.6h1.9v1.9h-1.9zM227.3 381.9h1.9v1.9h-1.9zM227.8 384.3h1.9v1.9h-1.9zM228.1 374.2h1.9v1.9h-1.9zM228.3 374.4h1.9v1.9h-1.9zM228.6 375.0h1.9v1.9h-1.9zM228.8 375.2h1.9v1.9h-1.9zM229.1 377.9h1.9v1.9h-1.9zM229.3 384.2h1.9v1.9h-1.9zM229.6 373.3h1.9v1.9h-1.9zM230.1 368.2h1.9v1.9h-1.9zM230.4 375.7h1.9v1.9h-1.9zM230.6 388.9h1.9v1.9h-1.9zM231.1 383.9h1.9v1.9h-1.9zM231.4 375.8h1.9v1.9h-1.9zM231.6 366.7h1.9v1.9h-1.9zM232.1 382.5h1.9v1.9h-1.9zM232.4 371.8h1.9v1.9h-1.9zM233.1 377.7h1.9v1.9h-1.9zM233.4 385.8h1.9v1.9h-1.9zM233.6 386.4h1.9v1.9h-1.9zM233.9 389.3h1.9v1.9h-1.9zM234.1 377.0h1.9v1.9h-1.9zM234.4 367.4h1.9v1.9h-1.9zM234.9 383.4h1.9v1.9h-1.9zM235.2 368.6h1.9v1.9h-1.9zM235.4 391.7h1.9v1.9h-1.9zM235.7 382.0h1.9v1.9h-1.9zM235.9 369.0h1.9v1.9h-1.9zM236.2 371.0h1.9v1.9h-1.9zM236.4 385.8h1.9v1.9h-1.9zM236.7 398.5h1.9v1.9h-1.9zM236.9 373.0h1.9v1.9h-1.9zM237.2 383.2h1.9v1.9h-1.9zM237.4 384.0h1.9v1.9h-1.9zM237.9 381.8h1.9v1.9h-1.9zM238.2 372.0h1.9v1.9h-1.9zM238.4 377.8h1.9v1.9h-1.9zM238.7 377.9h1.9v1.9h-1.9zM239.0 382.2h1.9v1.9h-1.9zM239.2 375.1h1.9v1.9h-1.9zM239.5 375.0h1.9v1.9h-1.9zM239.7 389.9h1.9v1.9h-1.9zM240.0 377.1h1.9v1.9h-1.9zM240.2 369.0h1.9v1.9h-1.9zM240.5 387.5h1.9v1.9h-1.9zM240.7 386.6h1.9v1.9h-1.9zM241.0 379.1h1.9v1.9h-1.9zM241.2 371.5h1.9v1.9h-1.9zM241.5 373.5h1.9v1.9h-1.9zM242.0 380.3h1.9v1.9h-1.9zM242.2 387.2h1.9v1.9h-1.9zM242.7 380.5h1.9v1.9h-1.9zM243.0 379.2h1.9v1.9h-1.9zM243.5 378.3h1.9v1.9h-1.9zM243.8 387.3h1.9v1.9h-1.9zM244.0 375.3h1.9v1.9h-1.9zM244.3 377.7h1.9v1.9h-1.9zM244.5 361.1h1.9v1.9h-1.9zM244.8 384.6h1.9v1.9h-1.9zM245.0 374.5h1.9v1.9h-1.9zM245.3 372.2h1.9v1.9h-1.9zM245.5 392.6h1.9v1.9h-1.9zM245.8 381.4h1.9v1.9h-1.9zM246.0 394.1h1.9v1.9h-1.9zM246.3 385.3h1.9v1.9h-1.9zM246.5 397.7h1.9v1.9h-1.9zM247.0 379.8h1.9v1.9h-1.9zM247.3 391.2h1.9v1.9h-1.9zM247.8 392.8h1.9v1.9h-1.9zM248.3 374.0h1.9v1.9h-1.9zM248.6 389.1h1.9v1.9h-1.9zM248.8 378.2h1.9v1.9h-1.9zM249.1 388.6h1.9v1.9h-1.9zM249.3 374.4h1.9v1.9h-1.9zM249.6 377.3h1.9v1.9h-1.9zM249.8 395.7h1.9v1.9h-1.9zM250.1 378.1h1.9v1.9h-1.9zM250.3 374.7h1.9v1.9h-1.9zM250.6 383.8h1.9v1.9h-1.9zM251.1 382.5h1.9v1.9h-1.9zM251.3 370.3h1.9v1.9h-1.9zM251.6 397.7h1.9v1.9h-1.9zM251.8 379.8h1.9v1.9h-1.9zM252.1 381.4h1.9v1.9h-1.9zM252.3 398.5h1.9v1.9h-1.9zM252.6 380.5h1.9v1.9h-1.9zM252.9 371.3h1.9v1.9h-1.9zM253.1 380.9h1.9v1.9h-1.9zM253.4 386.5h1.9v1.9h-1.9zM253.6 376.1h1.9v1.9h-1.9zM253.9 369.6h1.9v1.9h-1.9zM254.1 384.6h1.9v1.9h-1.9zM254.4 386.4h1.9v1.9h-1.9zM254.6 375.1h1.9v1.9h-1.9zM254.9 366.0h1.9v1.9h-1.9zM255.1 394.8h1.9v1.9h-1.9zM255.4 399.4h1.9v1.9h-1.9zM255.6 399.3h1.9v1.9h-1.9zM255.9 378.9h1.9v1.9h-1.9zM256.1 385.2h1.9v1.9h-1.9zM256.6 384.6h1.9v1.9h-1.9zM257.2 381.1h1.9v1.9h-1.9zM257.4 364.3h1.9v1.9h-1.9zM257.7 381.8h1.9v1.9h-1.9zM257.9 383.1h1.9v1.9h-1.9zM258.2 371.7h1.9v1.9h-1.9zM258.4 376.2h1.9v1.9h-1.9zM258.7 370.7h1.9v1.9h-1.9zM258.9 369.6h1.9v1.9h-1.9zM259.2 381.2h1.9v1.9h-1.9zM259.4 379.2h1.9v1.9h-1.9zM259.7 387.4h1.9v1.9h-1.9zM259.9 385.9h1.9v1.9h-1.9zM260.2 366.5h1.9v1.9h-1.9zM260.4 377.8h1.9v1.9h-1.9zM260.7 372.1h1.9v1.9h-1.9zM260.9 386.7h1.9v1.9h-1.9zM261.4 388.5h1.9v1.9h-1.9zM261.7 377.5h1.9v1.9h-1.9zM262.0 377.6h1.9v1.9h-1.9zM262.2 376.9h1.9v1.9h-1.9zM262.5 378.0h1.9v1.9h-1.9zM262.7 391.6h1.9v1.9h-1.9zM263.0 390.1h1.9v1.9h-1.9zM263.2 379.9h1.9v1.9h-1.9zM263.5 387.7h1.9v1.9h-1.9zM263.7 377.8h1.9v1.9h-1.9zM264.0 375.4h1.9v1.9h-1.9zM264.5 385.8h1.9v1.9h-1.9zM264.7 373.8h1.9v1.9h-1.9zM265.0 372.8h1.9v1.9h-1.9zM265.5 387.4h1.9v1.9h-1.9zM265.7 380.8h1.9v1.9h-1.9zM266.5 378.4h1.9v1.9h-1.9zM267.0 384.3h1.9v1.9h-1.9zM267.5 370.7h1.9v1.9h-1.9zM268.0 390.5h1.9v1.9h-1.9zM268.3 372.8h1.9v1.9h-1.9zM268.5 374.4h1.9v1.9h-1.9zM268.8 387.2h1.9v1.9h-1.9zM269.0 377.4h1.9v1.9h-1.9zM269.3 374.2h1.9v1.9h-1.9zM269.8 384.4h1.9v1.9h-1.9zM270.0 382.3h1.9v1.9h-1.9zM270.3 383.2h1.9v1.9h-1.9zM270.6 379.1h1.9v1.9h-1.9zM270.8 384.3h1.9v1.9h-1.9zM271.1 376.1h1.9v1.9h-1.9zM271.3 380.6h1.9v1.9h-1.9zM271.6 378.7h1.9v1.9h-1.9zM271.8 373.9h1.9v1.9h-1.9zM272.1 370.6h1.9v1.9h-1.9zM272.3 378.7h1.9v1.9h-1.9zM272.6 384.4h1.9v1.9h-1.9zM272.8 379.2h1.9v1.9h-1.9zM273.1 385.2h1.9v1.9h-1.9zM273.3 395.0h1.9v1.9h-1.9zM273.6 366.9h1.9v1.9h-1.9zM274.1 379.6h1.9v1.9h-1.9zM274.3 372.2h1.9v1.9h-1.9zM274.6 381.9h1.9v1.9h-1.9zM274.8 363.9h1.9v1.9h-1.9zM275.1 380.6h1.9v1.9h-1.9zM275.4 370.0h1.9v1.9h-1.9zM275.9 390.6h1.9v1.9h-1.9zM276.1 381.6h1.9v1.9h-1.9zM276.4 389.5h1.9v1.9h-1.9zM276.6 373.2h1.9v1.9h-1.9zM276.9 383.4h1.9v1.9h-1.9zM277.1 378.7h1.9v1.9h-1.9zM277.6 382.8h1.9v1.9h-1.9zM277.9 384.0h1.9v1.9h-1.9zM278.1 387.4h1.9v1.9h-1.9zM278.4 380.8h1.9v1.9h-1.9zM278.6 380.2h1.9v1.9h-1.9zM278.9 376.8h1.9v1.9h-1.9zM279.1 395.0h1.9v1.9h-1.9zM279.4 371.0h1.9v1.9h-1.9zM280.2 381.1h1.9v1.9h-1.9zM280.4 378.9h1.9v1.9h-1.9zM280.7 385.6h1.9v1.9h-1.9zM280.9 374.3h1.9v1.9h-1.9zM281.2 380.7h1.9v1.9h-1.9zM281.4 365.5h1.9v1.9h-1.9zM281.7 379.2h1.9v1.9h-1.9zM282.2 377.3h1.9v1.9h-1.9zM282.4 378.6h1.9v1.9h-1.9zM282.7 380.2h1.9v1.9h-1.9zM282.9 383.3h1.9v1.9h-1.9zM283.2 373.5h1.9v1.9h-1.9zM283.4 384.0h1.9v1.9h-1.9zM283.7 384.6h1.9v1.9h-1.9zM283.9 382.1h1.9v1.9h-1.9zM284.2 386.7h1.9v1.9h-1.9zM284.5 381.0h1.9v1.9h-1.9zM284.7 380.5h1.9v1.9h-1.9zM285.0 381.3h1.9v1.9h-1.9zM285.5 378.5h1.9v1.9h-1.9zM285.7 380.7h1.9v1.9h-1.9zM286.0 377.0h1.9v1.9h-1.9zM286.2 369.5h1.9v1.9h-1.9zM286.5 387.5h1.9v1.9h-1.9zM286.7 391.1h1.9v1.9h-1.9zM287.0 372.7h1.9v1.9h-1.9zM287.2 364.7h1.9v1.9h-1.9zM287.5 370.6h1.9v1.9h-1.9zM288.0 381.9h1.9v1.9h-1.9zM288.2 395.6h1.9v1.9h-1.9zM288.5 369.3h1.9v1.9h-1.9zM288.8 376.7h1.9v1.9h-1.9zM289.0 377.1h1.9v1.9h-1.9zM289.3 382.6h1.9v1.9h-1.9zM289.5 385.0h1.9v1.9h-1.9zM289.8 394.4h1.9v1.9h-1.9zM290.0 369.8h1.9v1.9h-1.9zM290.3 383.0h1.9v1.9h-1.9zM290.5 373.9h1.9v1.9h-1.9zM290.8 378.1h1.9v1.9h-1.9zM291.0 382.4h1.9v1.9h-1.9zM291.3 376.8h1.9v1.9h-1.9zM291.5 380.4h1.9v1.9h-1.9zM291.8 375.0h1.9v1.9h-1.9zM292.0 374.1h1.9v1.9h-1.9zM292.3 383.7h1.9v1.9h-1.9zM292.8 387.4h1.9v1.9h-1.9zM293.0 383.6h1.9v1.9h-1.9zM293.3 380.5h1.9v1.9h-1.9zM293.6 385.6h1.9v1.9h-1.9zM293.8 393.8h1.9v1.9h-1.9zM294.1 377.6h1.9v1.9h-1.9zM294.3 382.6h1.9v1.9h-1.9zM294.6 373.6h1.9v1.9h-1.9zM294.8 381.8h1.9v1.9h-1.9zM295.1 375.7h1.9v1.9h-1.9zM295.3 375.5h1.9v1.9h-1.9zM295.6 376.3h1.9v1.9h-1.9zM295.8 379.3h1.9v1.9h-1.9zM296.1 378.2h1.9v1.9h-1.9zM296.6 370.0h1.9v1.9h-1.9zM297.1 374.5h1.9v1.9h-1.9zM297.3 389.2h1.9v1.9h-1.9zM297.6 380.2h1.9v1.9h-1.9zM297.8 363.1h1.9v1.9h-1.9zM298.1 379.9h1.9v1.9h-1.9zM298.4 370.3h1.9v1.9h-1.9zM298.6 385.3h1.9v1.9h-1.9zM298.9 379.6h1.9v1.9h-1.9zM299.1 379.4h1.9v1.9h-1.9zM299.4 382.3h1.9v1.9h-1.9zM299.6 376.0h1.9v1.9h-1.9zM299.9 376.5h1.9v1.9h-1.9zM300.1 382.9h1.9v1.9h-1.9zM300.4 381.1h1.9v1.9h-1.9zM300.6 387.8h1.9v1.9h-1.9zM300.9 384.0h1.9v1.9h-1.9zM301.1 374.0h1.9v1.9h-1.9zM301.4 378.0h1.9v1.9h-1.9zM301.6 385.9h1.9v1.9h-1.9zM301.9 390.9h1.9v1.9h-1.9zM302.1 391.3h1.9v1.9h-1.9zM302.9 385.4h1.9v1.9h-1.9zM303.2 380.8h1.9v1.9h-1.9zM303.4 370.3h1.9v1.9h-1.9zM303.7 375.0h1.9v1.9h-1.9zM303.9 377.5h1.9v1.9h-1.9zM304.2 381.4h1.9v1.9h-1.9zM304.4 376.2h1.9v1.9h-1.9zM304.7 369.0h1.9v1.9h-1.9zM304.9 372.3h1.9v1.9h-1.9zM305.2 391.7h1.9v1.9h-1.9zM305.4 385.8h1.9v1.9h-1.9zM305.7 388.9h1.9v1.9h-1.9zM305.9 391.6h1.9v1.9h-1.9zM306.2 376.4h1.9v1.9h-1.9zM306.7 383.2h1.9v1.9h-1.9zM306.9 372.6h1.9v1.9h-1.9zM307.2 379.7h1.9v1.9h-1.9zM307.5 377.7h1.9v1.9h-1.9zM307.7 363.8h1.9v1.9h-1.9zM308.7 383.9h1.9v1.9h-1.9zM309.0 369.8h1.9v1.9h-1.9zM309.2 376.4h1.9v1.9h-1.9zM309.5 398.4h1.9v1.9h-1.9zM309.7 389.2h1.9v1.9h-1.9zM310.0 383.0h1.9v1.9h-1.9zM310.5 373.9h1.9v1.9h-1.9zM310.7 384.5h1.9v1.9h-1.9zM311.0 388.5h1.9v1.9h-1.9zM311.2 388.0h1.9v1.9h-1.9zM311.5 373.3h1.9v1.9h-1.9zM311.8 388.1h1.9v1.9h-1.9zM312.0 383.9h1.9v1.9h-1.9zM312.3 373.2h1.9v1.9h-1.9zM312.5 387.1h1.9v1.9h-1.9zM313.0 372.8h1.9v1.9h-1.9zM313.3 375.4h1.9v1.9h-1.9zM313.5 386.1h1.9v1.9h-1.9zM313.8 382.7h1.9v1.9h-1.9zM314.0 391.3h1.9v1.9h-1.9zM314.3 381.7h1.9v1.9h-1.9zM314.5 373.2h1.9v1.9h-1.9zM315.0 377.0h1.9v1.9h-1.9zM315.3 380.6h1.9v1.9h-1.9zM315.8 384.7h1.9v1.9h-1.9zM316.1 377.0h1.9v1.9h-1.9zM316.3 387.7h1.9v1.9h-1.9zM316.8 380.1h1.9v1.9h-1.9zM317.1 385.0h1.9v1.9h-1.9zM317.3 380.2h1.9v1.9h-1.9zM317.6 373.2h1.9v1.9h-1.9zM317.8 379.3h1.9v1.9h-1.9zM318.1 374.3h1.9v1.9h-1.9zM318.3 372.4h1.9v1.9h-1.9zM318.8 387.9h1.9v1.9h-1.9zM319.6 381.0h1.9v1.9h-1.9zM319.8 388.0h1.9v1.9h-1.9zM320.1 379.0h1.9v1.9h-1.9zM320.3 384.4h1.9v1.9h-1.9zM320.6 368.9h1.9v1.9h-1.9zM320.9 384.8h1.9v1.9h-1.9zM321.1 372.7h1.9v1.9h-1.9zM321.4 375.0h1.9v1.9h-1.9zM321.6 370.3h1.9v1.9h-1.9zM321.9 386.1h1.9v1.9h-1.9zM322.1 395.0h1.9v1.9h-1.9zM322.4 375.9h1.9v1.9h-1.9zM322.6 377.0h1.9v1.9h-1.9zM322.9 380.3h1.9v1.9h-1.9zM323.1 387.0h1.9v1.9h-1.9zM323.4 383.0h1.9v1.9h-1.9zM323.6 370.9h1.9v1.9h-1.9zM323.9 368.1h1.9v1.9h-1.9zM324.1 373.9h1.9v1.9h-1.9zM324.4 398.7h1.9v1.9h-1.9zM324.6 375.4h1.9v1.9h-1.9zM325.1 373.2h1.9v1.9h-1.9zM325.4 374.8h1.9v1.9h-1.9zM325.7 367.6h1.9v1.9h-1.9zM325.9 385.4h1.9v1.9h-1.9zM326.2 380.1h1.9v1.9h-1.9zM326.4 373.2h1.9v1.9h-1.9zM326.7 388.6h1.9v1.9h-1.9zM326.9 377.3h1.9v1.9h-1.9zM327.2 364.5h1.9v1.9h-1.9zM327.4 377.2h1.9v1.9h-1.9zM327.7 374.3h1.9v1.9h-1.9zM327.9 386.4h1.9v1.9h-1.9zM328.2 376.0h1.9v1.9h-1.9zM328.4 381.6h1.9v1.9h-1.9zM328.7 379.4h1.9v1.9h-1.9zM329.2 373.7h1.9v1.9h-1.9zM329.4 371.5h1.9v1.9h-1.9zM156.9 370.5h1.9v1.9h-1.9zM165.1 366.2h1.9v1.9h-1.9zM164.0 349.7h1.9v1.9h-1.9zM150.2 370.8h1.9v1.9h-1.9zM164.9 364.8h1.9v1.9h-1.9zM170.9 377.3h1.9v1.9h-1.9zM166.9 369.7h1.9v1.9h-1.9zM157.1 370.1h1.9v1.9h-1.9zM171.5 357.1h1.9v1.9h-1.9zM168.3 375.6h1.9v1.9h-1.9zM157.7 365.5h1.9v1.9h-1.9zM163.4 375.2h1.9v1.9h-1.9zM167.0 370.3h1.9v1.9h-1.9zM160.6 360.6h1.9v1.9h-1.9zM150.9 368.8h1.9v1.9h-1.9zM176.9 362.1h1.9v1.9h-1.9zM162.7 369.0h1.9v1.9h-1.9zM155.8 363.2h1.9v1.9h-1.9zM159.0 365.8h1.9v1.9h-1.9zM173.6 365.7h1.9v1.9h-1.9zM161.9 373.0h1.9v1.9h-1.9zM157.7 363.8h1.9v1.9h-1.9zM153.9 362.0h1.9v1.9h-1.9zM157.8 364.3h1.9v1.9h-1.9zM169.5 378.5h1.9v1.9h-1.9zM158.7 370.3h1.9v1.9h-1.9zM175.0 368.2h1.9v1.9h-1.9zM154.2 367.4h1.9v1.9h-1.9zM165.5 361.1h1.9v1.9h-1.9zM170.9 366.6h1.9v1.9h-1.9z" fill="#7c7c7c"/>
<line x1="57.5" y1="381.9" x2="330.5" y2="381.9" stroke="#00ff00" stroke-width="2.6"/>
<line x1="193.8" y1="383" x2="193.8" y2="436" stroke="#000" stroke-width="1.5"/>
<text x="15.5" y="382.0" font-size="1" text-anchor="middle" font-weight="normal" font-family='"Liberation Sans", sans-serif' ></text>
<text transform="translate(15,382) rotate(-90)" font-size="16.5" text-anchor="middle" font-family='"Liberation Sans", sans-serif'>Up error [m]</text>
<rect x="57.9" y="434.7" width="272.70000000000005" height="41.30000000000001" fill="#fff"/>
<line x1="125.5" y1="434.7" x2="125.5" y2="476" stroke="#3c3c3c" stroke-width="0.9" stroke-dasharray="1 5.4" fill="none"/>
<line x1="194.5" y1="434.7" x2="194.5" y2="476" stroke="#3c3c3c" stroke-width="0.9" stroke-dasharray="1 5.4" fill="none"/>
<line x1="262.5" y1="434.7" x2="262.5" y2="476" stroke="#3c3c3c" stroke-width="0.9" stroke-dasharray="1 5.4" fill="none"/>
<line x1="57.9" y1="436.9" x2="330.6" y2="436.9" stroke="#3c3c3c" stroke-width="0.9" stroke-dasharray="1 5.4" fill="none"/>
<text x="53.5" y="443.5" font-size="16.7" text-anchor="end" font-weight="bold" font-family='"Liberation Sans", sans-serif' >0.2</text>
<line x1="57.9" y1="455.7" x2="330.6" y2="455.7" stroke="#3c3c3c" stroke-width="0.9" stroke-dasharray="1 5.4" fill="none"/>
<text x="53.5" y="461.9" font-size="16.7" text-anchor="end" font-weight="bold" font-family='"Liberation Sans", sans-serif' >0</text>
<line x1="57.9" y1="474.5" x2="330.6" y2="474.5" stroke="#3c3c3c" stroke-width="0.9" stroke-dasharray="1 5.4" fill="none"/>
<text x="53.5" y="481.2" font-size="16.7" text-anchor="end" font-weight="bold" font-family='"Liberation Sans", sans-serif' >−0.2</text>
<path d="M301.4 466.6h2.0v2.0h-2.0zM67.2 449.0h2.0v2.0h-2.0zM189.0 455.3h2.0v2.0h-2.0zM157.8 470.1h2.0v2.0h-2.0zM154.1 456.7h2.0v2.0h-2.0zM310.0 460.6h2.0v2.0h-2.0zM188.3 449.3h2.0v2.0h-2.0zM164.1 459.5h2.0v2.0h-2.0zM271.4 446.6h2.0v2.0h-2.0zM159.7 451.3h2.0v2.0h-2.0zM157.6 470.8h2.0v2.0h-2.0zM205.0 447.2h2.0v2.0h-2.0zM149.4 467.4h2.0v2.0h-2.0zM103.1 462.5h2.0v2.0h-2.0zM65.9 444.1h2.0v2.0h-2.0zM76.0 466.8h2.0v2.0h-2.0zM99.5 445.4h2.0v2.0h-2.0zM75.5 446.8h2.0v2.0h-2.0zM257.3 463.6h2.0v2.0h-2.0zM304.9 472.0h2.0v2.0h-2.0zM208.2 471.1h2.0v2.0h-2.0zM84.1 471.2h2.0v2.0h-2.0zM176.8 444.1h2.0v2.0h-2.0zM261.2 468.8h2.0v2.0h-2.0zM163.8 440.4h2.0v2.0h-2.0zM294.8 464.9h2.0v2.0h-2.0zM220.6 473.1h2.0v2.0h-2.0zM70.2 439.1h2.0v2.0h-2.0zM93.4 437.8h2.0v2.0h-2.0zM250.5 460.3h2.0v2.0h-2.0zM90.2 443.0h2.0v2.0h-2.0zM108.7 459.5h2.0v2.0h-2.0zM240.9 472.9h2.0v2.0h-2.0zM157.0 473.2h2.0v2.0h-2.0zM176.9 451.5h2.0v2.0h-2.0zM128.1 445.6h2.0v2.0h-2.0zM322.2 473.8h2.0v2.0h-2.0zM249.9 443.5h2.0v2.0h-2.0zM108.4 442.6h2.0v2.0h-2.0zM154.4 464.3h2.0v2.0h-2.0zM75.9 456.6h2.0v2.0h-2.0zM243.1 438.2h2.0v2.0h-2.0zM178.2 466.3h2.0v2.0h-2.0zM214.9 453.7h2.0v2.0h-2.0zM297.1 459.2h2.0v2.0h-2.0zM150.6 451.6h2.0v2.0h-2.0zM313.8 468.8h2.0v2.0h-2.0zM306.1 457.8h2.0v2.0h-2.0zM98.3 443.5h2.0v2.0h-2.0zM163.1 462.6h2.0v2.0h-2.0zM61.2 466.7h2.0v2.0h-2.0zM271.4 456.0h2.0v2.0h-2.0zM61.5 466.5h2.0v2.0h-2.0zM171.4 461.8h2.0v2.0h-2.0zM213.3 464.0h2.0v2.0h-2.0zM170.0 472.5h2.0v2.0h-2.0zM317.0 471.4h2.0v2.0h-2.0zM225.5 448.7h2.0v2.0h-2.0zM161.3 447.0h2.0v2.0h-2.0zM303.1 466.3h2.0v2.0h-2.0zM272.0 467.4h2.0v2.0h-2.0zM326.5 462.5h2.0v2.0h-2.0zM145.6 465.0h2.0v2.0h-2.0zM130.6 459.6h2.0v2.0h-2.0zM102.6 468.7h2.0v2.0h-2.0zM191.5 447.2h2.0v2.0h-2.0zM308.3 440.1h2.0v2.0h-2.0zM310.2 465.0h2.0v2.0h-2.0zM100.1 465.2h2.0v2.0h-2.0zM214.2 470.6h2.0v2.0h-2.0zM217.8 452.8h2.0v2.0h-2.0zM311.1 440.2h2.0v2.0h-2.0zM269.0 440.8h2.0v2.0h-2.0zM134.4 441.2h2.0v2.0h-2.0zM294.4 453.3h2.0v2.0h-2.0zM255.4 446.5h2.0v2.0h-2.0zM256.5 461.0h2.0v2.0h-2.0zM86.2 455.3h2.0v2.0h-2.0zM254.2 444.9h2.0v2.0h-2.0zM236.0 447.3h2.0v2.0h-2.0zM159.7 471.0h2.0v2.0h-2.0zM313.7 473.9h2.0v2.0h-2.0zM174.8 458.2h2.0v2.0h-2.0zM277.5 465.1h2.0v2.0h-2.0zM182.7 469.0h2.0v2.0h-2.0zM167.9 472.2h2.0v2.0h-2.0zM187.2 441.4h2.0v2.0h-2.0zM261.5 442.4h2.0v2.0h-2.0zM242.8 439.0h2.0v2.0h-2.0zM325.8 457.0h2.0v2.0h-2.0zM259.2 441.9h2.0v2.0h-2.0zM231.3 450.9h2.0v2.0h-2.0zM127.0 467.2h2.0v2.0h-2.0zM68.9 454.7h2.0v2.0h-2.0zM83.4 468.5h2.0v2.0h-2.0zM300.3 438.3h2.0v2.0h-2.0zM185.0 454.4h2.0v2.0h-2.0zM253.3 464.0h2.0v2.0h-2.0zM152.3 471.5h2.0v2.0h-2.0zM109.8 442.1h2.0v2.0h-2.0zM279.2 441.4h2.0v2.0h-2.0zM110.0 455.5h2.0v2.0h-2.0zM150.5 443.1h2.0v2.0h-2.0zM310.1 454.5h2.0v2.0h-2.0zM271.4 446.3h2.0v2.0h-2.0zM305.5 445.2h2.0v2.0h-2.0zM303.8 459.7h2.0v2.0h-2.0zM321.2 465.5h2.0v2.0h-2.0zM229.7 456.7h2.0v2.0h-2.0zM290.0 453.4h2.0v2.0h-2.0zM86.5 470.8h2.0v2.0h-2.0zM276.7 462.2h2.0v2.0h-2.0zM260.3 445.6h2.0v2.0h-2.0zM184.6 467.4h2.0v2.0h-2.0zM318.8 471.2h2.0v2.0h-2.0zM103.2 462.3h2.0v2.0h-2.0zM209.1 452.0h2.0v2.0h-2.0zM105.1 442.1h2.0v2.0h-2.0zM186.5 455.2h2.0v2.0h-2.0zM132.1 450.6h2.0v2.0h-2.0zM209.0 465.2h2.0v2.0h-2.0zM218.5 443.0h2.0v2.0h-2.0zM298.4 450.6h2.0v2.0h-2.0zM318.2 473.3h2.0v2.0h-2.0zM97.8 458.5h2.0v2.0h-2.0zM320.1 451.2h2.0v2.0h-2.0zM207.3 448.6h2.0v2.0h-2.0zM67.7 444.6h2.0v2.0h-2.0zM93.4 447.5h2.0v2.0h-2.0zM229.3 457.8h2.0v2.0h-2.0zM315.1 462.4h2.0v2.0h-2.0zM157.5 472.1h2.0v2.0h-2.0zM230.6 457.1h2.0v2.0h-2.0zM292.0 461.8h2.0v2.0h-2.0zM156.9 459.4h2.0v2.0h-2.0zM140.8 472.9h2.0v2.0h-2.0zM125.7 473.0h2.0v2.0h-2.0zM77.3 437.4h2.0v2.0h-2.0zM208.8 444.6h2.0v2.0h-2.0zM196.5 441.4h2.0v2.0h-2.0zM285.1 461.8h2.0v2.0h-2.0zM244.1 471.3h2.0v2.0h-2.0zM326.9 462.1h2.0v2.0h-2.0zM251.8 437.1h2.0v2.0h-2.0zM73.2 452.8h2.0v2.0h-2.0zM320.7 448.6h2.0v2.0h-2.0zM212.9 437.3h2.0v2.0h-2.0zM171.8 470.4h2.0v2.0h-2.0zM218.6 467.5h2.0v2.0h-2.0zM63.5 444.5h2.0v2.0h-2.0zM108.2 467.8h2.0v2.0h-2.0zM87.3 471.5h2.0v2.0h-2.0zM131.9 469.6h2.0v2.0h-2.0zM198.7 449.0h2.0v2.0h-2.0zM320.0 452.0h2.0v2.0h-2.0zM247.6 439.5h2.0v2.0h-2.0zM283.4 473.3h2.0v2.0h-2.0zM89.7 464.6h2.0v2.0h-2.0zM132.7 442.5h2.0v2.0h-2.0zM158.0 461.5h2.0v2.0h-2.0zM316.5 473.8h2.0v2.0h-2.0zM327.3 460.1h2.0v2.0h-2.0zM235.8 443.0h2.0v2.0h-2.0zM255.3 457.4h2.0v2.0h-2.0zM156.6 470.3h2.0v2.0h-2.0zM128.6 442.2h2.0v2.0h-2.0zM102.5 442.5h2.0v2.0h-2.0zM218.3 466.6h2.0v2.0h-2.0zM103.0 455.6h2.0v2.0h-2.0zM214.5 457.7h2.0v2.0h-2.0zM171.0 457.1h2.0v2.0h-2.0zM64.1 439.1h2.0v2.0h-2.0zM173.7 445.8h2.0v2.0h-2.0zM263.6 446.0h2.0v2.0h-2.0zM281.6 445.9h2.0v2.0h-2.0zM84.9 454.7h2.0v2.0h-2.0zM164.2 449.4h2.0v2.0h-2.0zM265.8 445.2h2.0v2.0h-2.0zM240.2 467.9h2.0v2.0h-2.0zM181.8 455.6h2.0v2.0h-2.0zM308.5 459.3h2.0v2.0h-2.0zM108.7 439.6h2.0v2.0h-2.0zM82.1 449.3h2.0v2.0h-2.0zM83.9 461.0h2.0v2.0h-2.0zM173.9 448.4h2.0v2.0h-2.0zM197.8 471.7h2.0v2.0h-2.0zM125.7 442.7h2.0v2.0h-2.0zM142.1 449.0h2.0v2.0h-2.0zM304.8 463.1h2.0v2.0h-2.0zM175.4 443.1h2.0v2.0h-2.0zM72.2 441.5h2.0v2.0h-2.0zM288.0 461.0h2.0v2.0h-2.0zM102.1 460.1h2.0v2.0h-2.0zM75.7 455.8h2.0v2.0h-2.0zM150.2 440.8h2.0v2.0h-2.0zM259.7 463.5h2.0v2.0h-2.0zM197.4 443.2h2.0v2.0h-2.0zM240.1 453.0h2.0v2.0h-2.0zM237.9 440.4h2.0v2.0h-2.0zM302.8 437.1h2.0v2.0h-2.0z" fill="#6a6a6a"/>
<path d="M102 447.5 Q108 452 110 458 T114 468" stroke="#8a8a8a" stroke-width="1.5" fill="none"/>
<path d="M59.2 460.4L60.1 457.8L61.1 458.9L62.0 457.9L63.5 455.7M63.6 443.6L64.4 445.6L65.3 444.1L66.1 444.9L67.0 445.1L67.8 446.2M68.6 439.4L69.5 443.8L70.3 444.3L71.2 445.6L72.0 445.5L72.8 443.9L73.7 444.9L74.5 444.1L75.4 444.2L76.2 443.7L77.0 443.5L77.9 441.9L78.7 442.6L79.6 441.9L80.4 442.7L81.3 441.3L82.2 441.8L83.1 441.6L84.1 441.1L85.0 440.4L85.9 440.3L86.8 441.1L87.6 440.7L88.4 442.4L89.2 440.6L90.0 441.4L90.8 440.1L91.6 441.6L92.5 442.4L93.3 441.5L94.1 444.3L94.9 442.1L95.7 441.9L96.5 442.2L97.3 443.1L97.4 447.9L98.2 449.2L99.1 449.5L99.9 447.4L100.8 449.1L101.6 449.5L102.4 449.2L103.3 449.1L104.1 448.6L105.0 447.6L105.8 448.7L106.6 447.7L107.5 447.5L108.3 449.0L109.2 450.1L110.0 449.0L110.8 448.0L111.7 447.9L112.5 446.6L113.4 448.5L114.2 447.5L115.1 447.7L116.0 448.8L116.8 448.8L117.7 446.9L118.5 447.4L119.3 447.7L120.1 448.7L120.9 449.0L121.7 446.9L122.5 449.2L123.3 447.4L124.2 447.5L125.0 449.2L125.8 447.4L126.6 449.2L127.4 447.6L128.2 447.1L129.0 446.3L129.9 448.0L130.7 447.2L131.6 452.1L132.4 451.3L133.3 452.0L134.1 451.9L134.9 451.3L135.8 451.8L136.6 452.4L137.4 452.3L138.2 451.6L139.1 451.1L139.9 451.7L140.7 452.0L141.5 454.9L142.4 452.4L143.2 454.4L144.0 452.2L144.8 451.6L145.7 452.1L146.5 454.1L147.4 452.7L148.2 452.9L149.0 454.5L149.9 454.0L150.7 453.3L151.6 456.5L152.4 455.0L153.2 453.6L154.1 455.1L154.9 455.4L155.8 452.3L156.6 453.9L157.4 456.5L158.2 455.8L159.1 456.7L159.9 455.5L160.7 455.4L161.5 457.1L162.4 456.6L163.2 457.8L164.0 457.7L164.8 456.0L165.6 456.3L166.5 455.0L167.3 458.2L168.1 457.0L168.9 457.8L169.8 459.4L170.6 459.3L171.4 459.5L172.2 459.4L173.0 458.6L173.8 458.3L174.6 458.3L175.4 460.6L176.2 458.6L177.0 459.8L177.8 458.7L178.6 456.7L179.5 458.4L180.3 456.2L181.2 456.3L182.0 455.4L182.8 454.4L183.7 451.8L184.5 452.7L185.4 452.0L186.2 453.0L187.0 452.3L187.9 452.3L188.8 452.1L189.6 452.4L190.4 453.2L191.3 451.2L192.1 452.2L193.0 453.9L193.8 452.0L194.7 451.6L195.6 452.6L196.4 453.4L197.3 454.0L198.1 453.9L199.0 453.4L199.8 454.4L200.7 455.1L201.6 454.1L202.4 453.9L203.3 454.7L204.1 454.9L205.0 455.7L205.8 455.6L206.7 455.3L207.5 453.1L208.3 454.9L209.2 453.8L210.0 453.4L210.8 454.9L211.7 453.5L212.5 453.9L213.3 456.3L214.2 454.3L215.0 453.6L215.8 454.8L216.7 455.6L217.5 456.1L218.3 453.5L219.2 454.8L220.0 454.6L220.8 454.8L221.6 455.3L222.4 453.3L223.2 455.2L224.0 453.7L224.8 456.3L225.6 454.7L226.4 454.3L227.2 454.7L228.0 455.9L228.8 454.3L229.6 454.6L230.4 454.8L231.2 453.1L232.0 454.3L232.8 453.9L233.6 454.0L234.4 455.7L235.2 453.9L236.0 456.0L236.8 452.7L237.6 455.5L238.4 452.4L239.2 453.3L240.0 454.8L240.8 454.7L241.6 451.5L242.4 455.2L243.2 455.1L244.0 452.5L244.8 453.2L245.6 453.0L246.4 453.8L247.2 455.2L248.0 452.3L248.8 454.6L249.6 451.9L250.4 454.6L251.2 453.1L252.0 452.9L252.8 456.0L253.6 454.6L254.4 454.7L255.2 453.8L256.0 453.9L256.8 454.7L257.6 456.5L258.4 455.8L259.2 453.5L260.0 455.1L260.8 453.9L261.6 453.7L262.4 453.1L263.2 454.1L264.0 453.5L264.8 454.6L265.6 455.2L266.4 453.6L267.2 454.0L268.0 454.7L268.8 455.0L269.6 453.6L270.4 454.2L271.2 454.4L272.0 453.7L272.8 455.1L273.6 453.2L274.4 453.4L275.2 453.0L276.0 452.5L276.8 453.1L277.6 453.5L278.4 453.2L279.2 453.3L280.0 451.4L280.8 452.4L281.6 453.3L282.4 453.6L283.2 452.3L284.0 453.7L284.8 452.2L285.6 452.9L286.4 453.3L287.2 452.3L288.0 453.3L288.8 453.9L289.6 457.7L290.4 454.4L291.2 453.6L292.0 454.5L292.8 453.8L293.6 453.2L294.4 455.1L295.2 451.7L296.0 456.0L296.8 453.8L297.6 454.1L298.4 454.8L299.2 456.0L300.0 454.3L300.8 454.5L301.6 454.5L302.4 454.5L303.2 454.6L304.0 453.2L304.8 454.2L305.6 454.0L306.4 454.4L307.2 453.9L308.0 455.2L308.8 455.0L309.6 455.2L310.4 455.8L311.2 454.7L312.0 454.8L312.8 454.3L313.6 456.4L314.4 454.5L315.2 453.1L316.0 456.6L316.8 451.8L317.6 455.2L318.4 454.7L319.2 454.4L320.0 456.4L320.8 454.7L321.7 455.2L322.5 455.2L323.3 454.7L324.2 455.9L325.0 453.2L325.8 454.5L326.7 456.2L327.5 454.1L328.3 454.7L329.2 455.4L330.0 455.0" stroke="#00ff00" stroke-width="2.8" fill="none" stroke-linejoin="round"/>
<rect x="57.9" y="434.7" width="272.70000000000005" height="41.30000000000001" stroke="#000" stroke-width="1.7" fill="none"/>
<line x1="125.5" y1="483" x2="125.5" y2="577.5" stroke="#3c3c3c" stroke-width="0.9" stroke-dasharray="1 5.4" fill="none"/>
<line x1="194.5" y1="483" x2="194.5" y2="577.5" stroke="#3c3c3c" stroke-width="0.9" stroke-dasharray="1 5.4" fill="none"/>
<line x1="262.5" y1="483" x2="262.5" y2="577.5" stroke="#3c3c3c" stroke-width="0.9" stroke-dasharray="1 5.4" fill="none"/>
<text x="125.5" y="597.5" font-size="16.7" text-anchor="middle" font-weight="normal" font-family='"Liberation Sans", sans-serif' >270</text>
<text x="194.5" y="597.5" font-size="16.7" text-anchor="middle" font-weight="normal" font-family='"Liberation Sans", sans-serif' >540</text>
<text x="262.5" y="597.5" font-size="16.7" text-anchor="middle" font-weight="normal" font-family='"Liberation Sans", sans-serif' >810</text>
<text x="330.5" y="597.5" font-size="16.7" text-anchor="middle" font-weight="normal" font-family='"Liberation Sans", sans-serif' >1080</text>
<line x1="57.5" y1="551.3" x2="330.5" y2="551.3" stroke="#3c3c3c" stroke-width="0.9" stroke-dasharray="1 5.4" fill="none"/>
<line x1="57.5" y1="525.2" x2="330.5" y2="525.2" stroke="#3c3c3c" stroke-width="0.9" stroke-dasharray="1 5.4" fill="none"/>
<line x1="57.5" y1="499.2" x2="330.5" y2="499.2" stroke="#3c3c3c" stroke-width="0.9" stroke-dasharray="1 5.4" fill="none"/>
<text x="52.5" y="583.3" font-size="16.7" text-anchor="end" font-weight="normal" font-family='"Liberation Sans", sans-serif' >0</text>
<text x="52.5" y="557.3" font-size="16.7" text-anchor="end" font-weight="normal" font-family='"Liberation Sans", sans-serif' >4</text>
<text x="52.5" y="531.2" font-size="16.7" text-anchor="end" font-weight="normal" font-family='"Liberation Sans", sans-serif' >8</text>
<text x="52.5" y="505.2" font-size="16.7" text-anchor="end" font-weight="normal" font-family='"Liberation Sans", sans-serif' >12</text>
<text transform="translate(26.6,537) rotate(-90)" font-size="16.9" text-anchor="middle" font-family='"Liberation Sans", sans-serif'>TTFF [30 s]</text>
<text x="194.0" y="616.0" font-size="16.7" text-anchor="middle" font-weight="normal" font-family='"Liberation Sans", sans-serif' ># of epochs [30 s]</text>
<rect x="57.5" y="507.0" width="90.7" height="70.5" fill="#ff0000" stroke="#000" stroke-width="1"/>
<rect x="148.2" y="564.9" width="91.1" height="12.6" fill="#ff9900" stroke="#000" stroke-width="1"/>
<rect x="239.3" y="568.2" width="91.2" height="9.3" fill="#00ff00" stroke="#000" stroke-width="1"/>
<path d="M57.5 483V577.5H330.5V483" stroke="#262626" stroke-width="1" fill="none"/>
<rect x="135.3" y="490.7" width="44" height="13" fill="#ff0000" stroke="#000" stroke-width="1"/>
<text x="184.3" y="501.7" font-size="12.5" text-anchor="start" font-weight="bold" font-family='"Liberation Sans", sans-serif' >kp−index 7−: 10.8<tspan font-weight="normal">±</tspan>20.1</text>
<rect x="135.3" y="509.2" width="44" height="13" fill="#ff9900" stroke="#000" stroke-width="1"/>
<text x="184.3" y="520.2" font-size="12.5" text-anchor="start" font-weight="bold" font-family='"Liberation Sans", sans-serif' >kp−index 5−: 1.9<tspan font-weight="normal">±</tspan>2.8</text>
<rect x="135.3" y="527.9" width="44" height="13" fill="#00ff00" stroke="#000" stroke-width="1"/>
<text x="184.3" y="538.9" font-size="12.5" text-anchor="start" font-weight="bold" font-family='"Liberation Sans", sans-serif' >kp−index 4−: 1.4<tspan font-weight="normal">±</tspan>1.0</text>
<text x="161.0" y="279.5" font-size="16.7" text-anchor="middle" font-weight="normal" font-family='"Liberation Sans", sans-serif' >East error [m]</text>
<text transform="translate(32.1,146.3) rotate(-90)" font-size="16.8" text-anchor="middle" font-family='"Liberation Sans", sans-serif'>North error [m]</text>
<rect x="400.5" y="50.5" width="191.0" height="191.0" fill="#fff"/>
<line x1="416.5" y1="50.5" x2="416.5" y2="241.5" stroke="#3c3c3c" stroke-width="0.9" stroke-dasharray="1 5.4" fill="none"/>
<line x1="400.5" y1="225.5" x2="591.5" y2="225.5" stroke="#3c3c3c" stroke-width="0.9" stroke-dasharray="1 5.4" fill="none"/>
<path d="M416.5 50.5v2.5M416.5 241.5v-2.5M400.5 225.5h2.5M591.5 225.5h-2.5" stroke="#262626" stroke-width="1" fill="none"/>
<text x="412.2" y="261.0" font-size="16.7" text-anchor="middle" font-weight="normal" font-family='"Liberation Sans", sans-serif' >−5</text>
<text x="396.5" y="232.1" font-size="16.7" text-anchor="end" font-weight="normal" font-family='"Liberation Sans", sans-serif' >−5</text>
<line x1="496.0" y1="50.5" x2="496.0" y2="241.5" stroke="#3c3c3c" stroke-width="0.9" stroke-dasharray="1 5.4" fill="none"/>
<line x1="400.5" y1="146.0" x2="591.5" y2="146.0" stroke="#3c3c3c" stroke-width="0.9" stroke-dasharray="1 5.4" fill="none"/>
<path d="M496.0 50.5v2.5M496.0 241.5v-2.5M400.5 146.0h2.5M591.5 146.0h-2.5" stroke="#262626" stroke-width="1" fill="none"/>
<text x="496.0" y="261.0" font-size="16.7" text-anchor="middle" font-weight="normal" font-family='"Liberation Sans", sans-serif' >0</text>
<text x="396.5" y="152.6" font-size="16.7" text-anchor="end" font-weight="normal" font-family='"Liberation Sans", sans-serif' >0</text>
<line x1="575.5" y1="50.5" x2="575.5" y2="241.5" stroke="#3c3c3c" stroke-width="0.9" stroke-dasharray="1 5.4" fill="none"/>
<line x1="400.5" y1="66.5" x2="591.5" y2="66.5" stroke="#3c3c3c" stroke-width="0.9" stroke-dasharray="1 5.4" fill="none"/>
<path d="M575.5 50.5v2.5M575.5 241.5v-2.5M400.5 66.5h2.5M591.5 66.5h-2.5" stroke="#262626" stroke-width="1" fill="none"/>
<text x="575.5" y="261.0" font-size="16.7" text-anchor="middle" font-weight="normal" font-family='"Liberation Sans", sans-serif' >5</text>
<text x="396.5" y="73.1" font-size="16.7" text-anchor="end" font-weight="normal" font-family='"Liberation Sans", sans-serif' >5</text>
<rect x="400.5" y="50.5" width="191.0" height="191.0" stroke="#262626" stroke-width="1" fill="none"/>
<path d="M496.1 144.3h1.8v1.8h-1.8zM490.8 150.0h1.8v1.8h-1.8zM489.4 150.2h1.8v1.8h-1.8zM498.0 145.6h1.8v1.8h-1.8zM491.7 147.1h1.8v1.8h-1.8zM492.7 150.2h1.8v1.8h-1.8zM500.3 141.1h1.8v1.8h-1.8zM489.3 148.9h1.8v1.8h-1.8zM490.9 152.7h1.8v1.8h-1.8zM497.7 141.1h1.8v1.8h-1.8zM501.9 134.3h1.8v1.8h-1.8zM500.3 142.8h1.8v1.8h-1.8zM502.1 140.2h1.8v1.8h-1.8zM492.2 149.2h1.8v1.8h-1.8zM494.1 143.7h1.8v1.8h-1.8zM498.3 142.0h1.8v1.8h-1.8zM490.7 142.8h1.8v1.8h-1.8zM498.2 140.1h1.8v1.8h-1.8zM496.7 136.0h1.8v1.8h-1.8zM492.6 147.0h1.8v1.8h-1.8zM492.9 150.5h1.8v1.8h-1.8zM487.1 148.9h1.8v1.8h-1.8zM500.5 134.0h1.8v1.8h-1.8zM500.2 139.1h1.8v1.8h-1.8zM498.6 156.9h1.8v1.8h-1.8zM495.9 153.3h1.8v1.8h-1.8zM492.7 155.2h1.8v1.8h-1.8zM492.0 150.2h1.8v1.8h-1.8zM488.1 158.5h1.8v1.8h-1.8zM493.6 143.3h1.8v1.8h-1.8zM499.4 148.9h1.8v1.8h-1.8zM497.1 136.3h1.8v1.8h-1.8zM503.8 132.0h1.8v1.8h-1.8zM494.0 138.5h1.8v1.8h-1.8zM495.6 147.6h1.8v1.8h-1.8zM496.1 148.6h1.8v1.8h-1.8zM489.5 154.3h1.8v1.8h-1.8zM493.1 140.0h1.8v1.8h-1.8zM492.5 148.3h1.8v1.8h-1.8zM492.0 152.7h1.8v1.8h-1.8zM485.2 150.1h1.8v1.8h-1.8zM491.9 151.5h1.8v1.8h-1.8zM497.2 135.4h1.8v1.8h-1.8zM499.1 149.1h1.8v1.8h-1.8zM490.5 144.3h1.8v1.8h-1.8zM495.8 147.1h1.8v1.8h-1.8zM496.3 148.0h1.8v1.8h-1.8zM499.9 143.2h1.8v1.8h-1.8zM495.5 149.5h1.8v1.8h-1.8zM492.3 145.9h1.8v1.8h-1.8zM495.6 143.5h1.8v1.8h-1.8zM495.3 143.6h1.8v1.8h-1.8zM498.1 136.1h1.8v1.8h-1.8zM497.6 140.6h1.8v1.8h-1.8zM490.9 154.2h1.8v1.8h-1.8zM484.8 150.9h1.8v1.8h-1.8zM485.2 151.1h1.8v1.8h-1.8zM496.9 138.5h1.8v1.8h-1.8zM493.7 145.9h1.8v1.8h-1.8zM492.5 146.0h1.8v1.8h-1.8zM506.2 125.8h1.8v1.8h-1.8zM492.2 144.7h1.8v1.8h-1.8zM499.2 134.9h1.8v1.8h-1.8zM497.1 151.5h1.8v1.8h-1.8zM501.3 134.9h1.8v1.8h-1.8zM492.7 140.9h1.8v1.8h-1.8zM492.8 161.6h1.8v1.8h-1.8zM494.3 139.6h1.8v1.8h-1.8zM496.1 138.8h1.8v1.8h-1.8zM492.0 140.9h1.8v1.8h-1.8zM493.2 137.3h1.8v1.8h-1.8zM499.8 142.2h1.8v1.8h-1.8zM494.5 151.7h1.8v1.8h-1.8zM496.6 147.5h1.8v1.8h-1.8zM498.2 143.2h1.8v1.8h-1.8zM504.1 129.7h1.8v1.8h-1.8zM502.9 136.9h1.8v1.8h-1.8zM496.8 138.4h1.8v1.8h-1.8zM496.4 148.1h1.8v1.8h-1.8zM493.4 139.0h1.8v1.8h-1.8zM494.1 146.8h1.8v1.8h-1.8zM495.5 149.5h1.8v1.8h-1.8zM494.0 151.5h1.8v1.8h-1.8zM497.0 142.1h1.8v1.8h-1.8zM494.1 145.3h1.8v1.8h-1.8zM493.1 140.1h1.8v1.8h-1.8zM491.4 147.7h1.8v1.8h-1.8zM487.6 150.9h1.8v1.8h-1.8zM498.4 144.0h1.8v1.8h-1.8zM502.0 141.8h1.8v1.8h-1.8zM489.7 163.6h1.8v1.8h-1.8zM495.8 148.6h1.8v1.8h-1.8zM496.1 146.9h1.8v1.8h-1.8zM496.8 139.1h1.8v1.8h-1.8zM498.8 140.2h1.8v1.8h-1.8zM487.3 150.6h1.8v1.8h-1.8zM493.0 148.9h1.8v1.8h-1.8zM494.3 150.1h1.8v1.8h-1.8zM498.9 135.0h1.8v1.8h-1.8zM488.3 149.2h1.8v1.8h-1.8zM494.1 151.6h1.8v1.8h-1.8zM492.8 143.0h1.8v1.8h-1.8zM494.2 149.3h1.8v1.8h-1.8zM496.5 143.3h1.8v1.8h-1.8zM498.8 133.0h1.8v1.8h-1.8zM492.8 150.4h1.8v1.8h-1.8zM498.0 137.4h1.8v1.8h-1.8zM497.8 144.1h1.8v1.8h-1.8zM491.8 139.6h1.8v1.8h-1.8zM498.2 139.9h1.8v1.8h-1.8zM489.5 152.2h1.8v1.8h-1.8zM496.3 136.7h1.8v1.8h-1.8zM495.2 137.5h1.8v1.8h-1.8zM497.2 140.5h1.8v1.8h-1.8zM488.8 150.5h1.8v1.8h-1.8zM501.7 127.4h1.8v1.8h-1.8zM494.1 148.3h1.8v1.8h-1.8zM491.4 143.6h1.8v1.8h-1.8zM499.3 139.1h1.8v1.8h-1.8zM498.6 140.4h1.8v1.8h-1.8zM499.4 136.6h1.8v1.8h-1.8zM492.6 152.6h1.8v1.8h-1.8zM498.5 143.9h1.8v1.8h-1.8zM492.8 145.0h1.8v1.8h-1.8zM499.7 135.4h1.8v1.8h-1.8zM498.8 137.6h1.8v1.8h-1.8zM498.1 143.5h1.8v1.8h-1.8zM491.5 152.3h1.8v1.8h-1.8zM492.9 154.1h1.8v1.8h-1.8zM494.3 140.3h1.8v1.8h-1.8zM493.5 151.3h1.8v1.8h-1.8zM498.5 145.6h1.8v1.8h-1.8zM489.8 149.5h1.8v1.8h-1.8zM497.6 142.0h1.8v1.8h-1.8zM493.4 134.0h1.8v1.8h-1.8zM499.7 143.9h1.8v1.8h-1.8zM494.0 148.8h1.8v1.8h-1.8zM502.4 144.2h1.8v1.8h-1.8zM494.1 143.5h1.8v1.8h-1.8zM499.0 143.5h1.8v1.8h-1.8zM492.4 152.1h1.8v1.8h-1.8zM493.0 144.9h1.8v1.8h-1.8zM501.1 131.4h1.8v1.8h-1.8zM492.4 142.5h1.8v1.8h-1.8zM485.6 151.7h1.8v1.8h-1.8zM489.3 150.3h1.8v1.8h-1.8zM498.3 139.1h1.8v1.8h-1.8zM493.0 145.5h1.8v1.8h-1.8zM493.8 151.4h1.8v1.8h-1.8zM492.0 142.8h1.8v1.8h-1.8zM497.8 147.5h1.8v1.8h-1.8zM494.9 141.7h1.8v1.8h-1.8zM489.4 154.6h1.8v1.8h-1.8zM489.1 151.0h1.8v1.8h-1.8zM496.1 139.3h1.8v1.8h-1.8zM498.5 135.4h1.8v1.8h-1.8zM494.1 165.5h1.8v1.8h-1.8zM490.4 151.3h1.8v1.8h-1.8zM495.7 137.4h1.8v1.8h-1.8zM493.6 131.8h1.8v1.8h-1.8zM497.7 146.6h1.8v1.8h-1.8zM494.7 138.7h1.8v1.8h-1.8zM498.2 147.6h1.8v1.8h-1.8zM496.9 146.1h1.8v1.8h-1.8zM489.3 163.9h1.8v1.8h-1.8zM487.1 148.3h1.8v1.8h-1.8zM491.3 144.8h1.8v1.8h-1.8zM492.5 137.6h1.8v1.8h-1.8zM495.2 148.4h1.8v1.8h-1.8zM498.2 141.6h1.8v1.8h-1.8zM498.7 142.4h1.8v1.8h-1.8zM492.4 146.0h1.8v1.8h-1.8zM501.0 148.0h1.8v1.8h-1.8zM486.7 145.8h1.8v1.8h-1.8zM497.5 132.7h1.8v1.8h-1.8zM494.9 146.6h1.8v1.8h-1.8zM496.0 136.4h1.8v1.8h-1.8zM493.6 149.8h1.8v1.8h-1.8zM495.4 144.5h1.8v1.8h-1.8zM492.9 137.0h1.8v1.8h-1.8zM498.8 139.1h1.8v1.8h-1.8zM490.9 154.2h1.8v1.8h-1.8zM497.6 146.0h1.8v1.8h-1.8zM490.7 146.5h1.8v1.8h-1.8zM490.1 140.8h1.8v1.8h-1.8zM488.4 146.8h1.8v1.8h-1.8zM492.2 151.7h1.8v1.8h-1.8zM492.9 146.8h1.8v1.8h-1.8zM486.7 152.0h1.8v1.8h-1.8zM494.3 153.9h1.8v1.8h-1.8zM499.3 141.7h1.8v1.8h-1.8zM498.5 143.3h1.8v1.8h-1.8zM502.6 141.5h1.8v1.8h-1.8zM492.8 144.8h1.8v1.8h-1.8zM491.7 147.8h1.8v1.8h-1.8zM490.1 145.9h1.8v1.8h-1.8zM486.3 155.0h1.8v1.8h-1.8zM497.8 136.5h1.8v1.8h-1.8zM497.9 140.1h1.8v1.8h-1.8zM495.4 141.0h1.8v1.8h-1.8zM498.2 152.0h1.8v1.8h-1.8zM487.9 142.0h1.8v1.8h-1.8zM494.3 137.0h1.8v1.8h-1.8zM501.9 135.8h1.8v1.8h-1.8zM488.3 144.9h1.8v1.8h-1.8zM491.7 144.6h1.8v1.8h-1.8zM495.5 146.3h1.8v1.8h-1.8zM492.0 143.3h1.8v1.8h-1.8zM501.1 131.1h1.8v1.8h-1.8zM495.9 143.2h1.8v1.8h-1.8zM500.5 145.5h1.8v1.8h-1.8zM491.4 140.9h1.8v1.8h-1.8zM495.0 141.1h1.8v1.8h-1.8zM487.9 152.7h1.8v1.8h-1.8zM497.4 136.4h1.8v1.8h-1.8zM502.7 140.8h1.8v1.8h-1.8zM493.6 142.8h1.8v1.8h-1.8zM491.4 150.1h1.8v1.8h-1.8zM506.1 133.6h1.8v1.8h-1.8zM495.8 146.6h1.8v1.8h-1.8zM498.5 145.9h1.8v1.8h-1.8zM503.3 139.7h1.8v1.8h-1.8zM494.3 141.7h1.8v1.8h-1.8zM495.7 147.4h1.8v1.8h-1.8zM500.6 143.8h1.8v1.8h-1.8zM498.6 139.6h1.8v1.8h-1.8zM495.1 151.4h1.8v1.8h-1.8zM500.2 130.7h1.8v1.8h-1.8zM500.8 143.7h1.8v1.8h-1.8zM492.6 141.3h1.8v1.8h-1.8zM494.9 149.2h1.8v1.8h-1.8zM499.0 143.0h1.8v1.8h-1.8zM495.2 141.0h1.8v1.8h-1.8zM497.2 140.2h1.8v1.8h-1.8zM495.3 139.3h1.8v1.8h-1.8zM491.7 139.7h1.8v1.8h-1.8zM495.4 148.9h1.8v1.8h-1.8zM499.4 136.5h1.8v1.8h-1.8zM486.2 156.4h1.8v1.8h-1.8zM500.3 150.3h1.8v1.8h-1.8zM496.9 135.6h1.8v1.8h-1.8zM494.9 142.0h1.8v1.8h-1.8zM498.4 143.7h1.8v1.8h-1.8zM494.0 137.3h1.8v1.8h-1.8zM494.6 150.5h1.8v1.8h-1.8zM498.1 143.9h1.8v1.8h-1.8zM500.9 135.0h1.8v1.8h-1.8zM497.1 137.5h1.8v1.8h-1.8zM495.6 141.7h1.8v1.8h-1.8zM490.1 149.5h1.8v1.8h-1.8zM491.5 153.4h1.8v1.8h-1.8zM496.1 142.8h1.8v1.8h-1.8zM493.6 140.2h1.8v1.8h-1.8zM496.7 145.5h1.8v1.8h-1.8zM499.9 148.4h1.8v1.8h-1.8zM495.4 138.4h1.8v1.8h-1.8zM490.7 152.2h1.8v1.8h-1.8zM506.7 125.5h1.8v1.8h-1.8zM488.3 156.9h1.8v1.8h-1.8zM491.0 144.8h1.8v1.8h-1.8zM496.2 146.1h1.8v1.8h-1.8zM494.0 143.4h1.8v1.8h-1.8zM493.2 144.4h1.8v1.8h-1.8zM489.6 156.1h1.8v1.8h-1.8zM501.4 137.9h1.8v1.8h-1.8zM490.3 156.2h1.8v1.8h-1.8zM493.3 146.5h1.8v1.8h-1.8zM502.5 139.5h1.8v1.8h-1.8zM498.3 143.2h1.8v1.8h-1.8zM498.0 143.3h1.8v1.8h-1.8zM495.7 150.0h1.8v1.8h-1.8zM503.9 139.0h1.8v1.8h-1.8zM496.7 148.7h1.8v1.8h-1.8zM486.7 153.9h1.8v1.8h-1.8zM497.9 156.3h1.8v1.8h-1.8zM494.5 139.1h1.8v1.8h-1.8zM501.2 144.0h1.8v1.8h-1.8zM497.1 137.8h1.8v1.8h-1.8zM504.6 129.8h1.8v1.8h-1.8zM491.5 148.1h1.8v1.8h-1.8zM486.3 150.9h1.8v1.8h-1.8zM494.5 145.4h1.8v1.8h-1.8zM494.5 145.8h1.8v1.8h-1.8zM496.3 138.0h1.8v1.8h-1.8zM491.8 153.3h1.8v1.8h-1.8zM496.8 146.1h1.8v1.8h-1.8zM492.5 145.3h1.8v1.8h-1.8zM501.5 143.8h1.8v1.8h-1.8zM497.0 139.6h1.8v1.8h-1.8zM503.2 144.1h1.8v1.8h-1.8zM502.8 132.1h1.8v1.8h-1.8zM496.3 147.3h1.8v1.8h-1.8zM492.1 144.2h1.8v1.8h-1.8zM492.1 150.8h1.8v1.8h-1.8zM497.3 142.6h1.8v1.8h-1.8zM488.8 157.3h1.8v1.8h-1.8zM496.5 145.9h1.8v1.8h-1.8zM495.2 147.3h1.8v1.8h-1.8zM496.5 143.1h1.8v1.8h-1.8zM500.6 142.0h1.8v1.8h-1.8zM494.8 139.2h1.8v1.8h-1.8zM495.8 142.3h1.8v1.8h-1.8zM494.2 144.9h1.8v1.8h-1.8zM493.4 148.9h1.8v1.8h-1.8zM495.4 141.0h1.8v1.8h-1.8zM496.1 140.2h1.8v1.8h-1.8zM498.7 137.9h1.8v1.8h-1.8zM486.5 154.8h1.8v1.8h-1.8zM490.2 137.1h1.8v1.8h-1.8zM497.5 141.8h1.8v1.8h-1.8zM504.0 127.5h1.8v1.8h-1.8zM490.6 155.1h1.8v1.8h-1.8zM498.5 141.1h1.8v1.8h-1.8zM499.6 144.0h1.8v1.8h-1.8zM502.7 139.4h1.8v1.8h-1.8zM495.3 144.4h1.8v1.8h-1.8zM490.7 156.6h1.8v1.8h-1.8zM497.2 150.7h1.8v1.8h-1.8zM497.1 144.1h1.8v1.8h-1.8zM492.6 149.0h1.8v1.8h-1.8zM491.4 151.7h1.8v1.8h-1.8zM497.0 137.4h1.8v1.8h-1.8zM490.0 151.5h1.8v1.8h-1.8zM497.2 145.0h1.8v1.8h-1.8zM489.2 144.0h1.8v1.8h-1.8zM488.0 149.6h1.8v1.8h-1.8zM498.3 143.1h1.8v1.8h-1.8zM494.8 145.3h1.8v1.8h-1.8zM495.2 140.3h1.8v1.8h-1.8zM490.7 153.3h1.8v1.8h-1.8zM505.3 137.3h1.8v1.8h-1.8zM493.6 138.4h1.8v1.8h-1.8zM491.6 146.6h1.8v1.8h-1.8zM495.4 141.7h1.8v1.8h-1.8zM498.8 139.7h1.8v1.8h-1.8zM491.4 149.2h1.8v1.8h-1.8zM494.5 143.3h1.8v1.8h-1.8zM503.2 143.8h1.8v1.8h-1.8zM494.2 137.6h1.8v1.8h-1.8zM496.7 151.2h1.8v1.8h-1.8zM498.8 146.7h1.8v1.8h-1.8zM496.3 157.9h1.8v1.8h-1.8zM498.1 145.9h1.8v1.8h-1.8zM491.4 152.7h1.8v1.8h-1.8zM500.7 147.3h1.8v1.8h-1.8zM491.3 147.7h1.8v1.8h-1.8zM490.6 145.2h1.8v1.8h-1.8zM501.5 141.9h1.8v1.8h-1.8zM493.6 151.1h1.8v1.8h-1.8zM490.4 145.3h1.8v1.8h-1.8zM499.7 142.4h1.8v1.8h-1.8zM492.1 144.6h1.8v1.8h-1.8zM498.2 147.8h1.8v1.8h-1.8zM494.6 144.9h1.8v1.8h-1.8zM491.2 165.3h1.8v1.8h-1.8zM490.4 154.3h1.8v1.8h-1.8zM494.2 147.9h1.8v1.8h-1.8zM494.9 150.0h1.8v1.8h-1.8zM491.6 161.9h1.8v1.8h-1.8zM498.2 135.7h1.8v1.8h-1.8zM500.9 144.0h1.8v1.8h-1.8zM492.1 149.2h1.8v1.8h-1.8zM492.0 148.4h1.8v1.8h-1.8zM492.3 151.3h1.8v1.8h-1.8zM494.1 140.9h1.8v1.8h-1.8zM499.0 134.1h1.8v1.8h-1.8zM502.0 127.9h1.8v1.8h-1.8zM496.9 131.3h1.8v1.8h-1.8zM490.6 152.1h1.8v1.8h-1.8zM503.4 134.1h1.8v1.8h-1.8zM492.2 141.3h1.8v1.8h-1.8zM497.6 146.9h1.8v1.8h-1.8zM495.9 136.3h1.8v1.8h-1.8zM501.6 140.5h1.8v1.8h-1.8zM487.5 156.0h1.8v1.8h-1.8zM497.2 140.9h1.8v1.8h-1.8zM497.3 142.3h1.8v1.8h-1.8zM493.8 151.3h1.8v1.8h-1.8zM486.1 154.5h1.8v1.8h-1.8zM492.5 148.6h1.8v1.8h-1.8zM498.0 145.3h1.8v1.8h-1.8zM495.8 143.0h1.8v1.8h-1.8zM495.7 147.5h1.8v1.8h-1.8zM498.2 143.2h1.8v1.8h-1.8zM492.3 149.6h1.8v1.8h-1.8zM491.7 146.4h1.8v1.8h-1.8zM498.7 139.0h1.8v1.8h-1.8zM495.7 141.9h1.8v1.8h-1.8zM496.8 140.3h1.8v1.8h-1.8zM495.7 151.6h1.8v1.8h-1.8zM495.3 149.7h1.8v1.8h-1.8zM488.6 151.3h1.8v1.8h-1.8zM497.4 148.1h1.8v1.8h-1.8zM492.9 153.0h1.8v1.8h-1.8zM494.4 147.3h1.8v1.8h-1.8zM493.7 155.0h1.8v1.8h-1.8zM497.8 151.0h1.8v1.8h-1.8zM498.2 147.5h1.8v1.8h-1.8zM493.4 139.9h1.8v1.8h-1.8zM491.8 149.1h1.8v1.8h-1.8zM486.7 154.0h1.8v1.8h-1.8zM495.8 149.7h1.8v1.8h-1.8zM496.9 148.0h1.8v1.8h-1.8zM501.0 139.1h1.8v1.8h-1.8zM490.7 144.0h1.8v1.8h-1.8zM501.3 131.3h1.8v1.8h-1.8zM500.7 136.4h1.8v1.8h-1.8zM493.1 145.9h1.8v1.8h-1.8zM484.1 160.3h1.8v1.8h-1.8zM492.6 144.2h1.8v1.8h-1.8zM487.4 148.2h1.8v1.8h-1.8zM497.9 142.9h1.8v1.8h-1.8zM487.7 152.3h1.8v1.8h-1.8zM491.1 143.0h1.8v1.8h-1.8zM497.5 143.3h1.8v1.8h-1.8zM495.6 139.8h1.8v1.8h-1.8zM498.1 137.3h1.8v1.8h-1.8zM500.3 139.0h1.8v1.8h-1.8zM486.5 157.8h1.8v1.8h-1.8zM499.3 141.0h1.8v1.8h-1.8zM490.4 137.9h1.8v1.8h-1.8zM488.6 153.2h1.8v1.8h-1.8zM491.7 143.8h1.8v1.8h-1.8zM490.3 155.2h1.8v1.8h-1.8zM494.4 148.7h1.8v1.8h-1.8zM491.5 146.7h1.8v1.8h-1.8zM496.4 150.9h1.8v1.8h-1.8zM488.9 148.0h1.8v1.8h-1.8zM495.6 147.8h1.8v1.8h-1.8zM500.6 144.9h1.8v1.8h-1.8zM503.7 141.4h1.8v1.8h-1.8zM497.4 141.9h1.8v1.8h-1.8zM495.6 146.0h1.8v1.8h-1.8zM496.6 139.5h1.8v1.8h-1.8zM495.0 149.5h1.8v1.8h-1.8zM490.7 157.8h1.8v1.8h-1.8zM499.0 133.4h1.8v1.8h-1.8zM494.3 155.8h1.8v1.8h-1.8zM491.7 143.7h1.8v1.8h-1.8zM494.5 134.7h1.8v1.8h-1.8zM500.0 131.0h1.8v1.8h-1.8zM487.1 150.9h1.8v1.8h-1.8zM501.7 145.2h1.8v1.8h-1.8zM490.0 148.1h1.8v1.8h-1.8zM495.2 138.4h1.8v1.8h-1.8zM496.1 149.8h1.8v1.8h-1.8zM492.4 150.5h1.8v1.8h-1.8zM489.0 149.8h1.8v1.8h-1.8zM496.3 138.0h1.8v1.8h-1.8zM485.8 152.5h1.8v1.8h-1.8zM489.5 149.9h1.8v1.8h-1.8zM492.4 141.0h1.8v1.8h-1.8zM501.1 127.3h1.8v1.8h-1.8zM493.2 146.8h1.8v1.8h-1.8zM495.3 143.4h1.8v1.8h-1.8zM496.6 147.3h1.8v1.8h-1.8zM493.0 145.4h1.8v1.8h-1.8zM496.3 135.7h1.8v1.8h-1.8zM500.6 151.1h1.8v1.8h-1.8zM498.9 143.3h1.8v1.8h-1.8zM497.4 153.9h1.8v1.8h-1.8zM497.4 144.2h1.8v1.8h-1.8zM505.6 140.4h1.8v1.8h-1.8zM493.8 160.1h1.8v1.8h-1.8zM500.2 135.4h1.8v1.8h-1.8zM489.3 144.9h1.8v1.8h-1.8zM493.9 144.7h1.8v1.8h-1.8zM490.0 149.2h1.8v1.8h-1.8zM503.2 141.9h1.8v1.8h-1.8zM489.0 153.5h1.8v1.8h-1.8zM495.5 149.5h1.8v1.8h-1.8zM494.5 148.8h1.8v1.8h-1.8zM495.7 144.9h1.8v1.8h-1.8zM490.2 150.2h1.8v1.8h-1.8zM493.5 148.2h1.8v1.8h-1.8zM491.7 139.5h1.8v1.8h-1.8zM488.3 152.8h1.8v1.8h-1.8zM497.3 152.1h1.8v1.8h-1.8zM492.6 146.1h1.8v1.8h-1.8zM496.6 144.4h1.8v1.8h-1.8zM505.2 142.8h1.8v1.8h-1.8zM498.2 143.3h1.8v1.8h-1.8zM493.8 147.8h1.8v1.8h-1.8zM489.3 144.4h1.8v1.8h-1.8zM492.1 154.6h1.8v1.8h-1.8zM491.1 145.4h1.8v1.8h-1.8zM489.2 153.9h1.8v1.8h-1.8zM486.7 163.0h1.8v1.8h-1.8zM497.5 143.7h1.8v1.8h-1.8zM490.3 151.8h1.8v1.8h-1.8zM492.4 144.0h1.8v1.8h-1.8zM493.4 147.6h1.8v1.8h-1.8zM499.4 149.3h1.8v1.8h-1.8zM492.2 152.8h1.8v1.8h-1.8zM494.1 152.4h1.8v1.8h-1.8zM503.8 134.2h1.8v1.8h-1.8zM491.1 159.8h1.8v1.8h-1.8zM489.3 147.2h1.8v1.8h-1.8zM497.5 146.6h1.8v1.8h-1.8zM489.9 150.4h1.8v1.8h-1.8zM495.1 141.5h1.8v1.8h-1.8zM493.4 144.1h1.8v1.8h-1.8zM495.7 135.8h1.8v1.8h-1.8zM497.0 146.7h1.8v1.8h-1.8zM492.5 147.1h1.8v1.8h-1.8zM496.7 146.1h1.8v1.8h-1.8zM490.7 142.6h1.8v1.8h-1.8zM488.5 145.8h1.8v1.8h-1.8zM496.8 151.1h1.8v1.8h-1.8zM496.7 140.9h1.8v1.8h-1.8zM492.9 146.3h1.8v1.8h-1.8zM496.2 135.8h1.8v1.8h-1.8zM496.2 146.7h1.8v1.8h-1.8zM500.7 143.3h1.8v1.8h-1.8zM492.8 152.4h1.8v1.8h-1.8zM496.5 149.3h1.8v1.8h-1.8zM487.8 151.3h1.8v1.8h-1.8zM490.2 147.2h1.8v1.8h-1.8zM491.0 138.4h1.8v1.8h-1.8zM491.6 147.5h1.8v1.8h-1.8zM496.1 147.7h1.8v1.8h-1.8zM497.5 140.8h1.8v1.8h-1.8zM501.2 133.7h1.8v1.8h-1.8zM493.1 143.4h1.8v1.8h-1.8zM501.5 147.1h1.8v1.8h-1.8zM494.4 141.4h1.8v1.8h-1.8zM492.1 149.2h1.8v1.8h-1.8zM495.9 145.2h1.8v1.8h-1.8zM490.9 156.6h1.8v1.8h-1.8zM492.7 153.6h1.8v1.8h-1.8zM489.3 146.3h1.8v1.8h-1.8zM493.8 148.9h1.8v1.8h-1.8zM494.5 139.3h1.8v1.8h-1.8zM501.7 139.3h1.8v1.8h-1.8zM493.7 146.9h1.8v1.8h-1.8zM497.7 141.7h1.8v1.8h-1.8zM485.9 149.5h1.8v1.8h-1.8zM497.5 139.9h1.8v1.8h-1.8zM497.5 137.3h1.8v1.8h-1.8zM495.4 144.7h1.8v1.8h-1.8zM500.7 134.6h1.8v1.8h-1.8zM496.1 150.2h1.8v1.8h-1.8zM497.1 148.1h1.8v1.8h-1.8zM494.1 136.5h1.8v1.8h-1.8zM499.9 149.3h1.8v1.8h-1.8zM484.2 142.7h1.8v1.8h-1.8zM503.4 133.1h1.8v1.8h-1.8zM499.4 139.0h1.8v1.8h-1.8zM497.2 131.4h1.8v1.8h-1.8zM495.1 142.9h1.8v1.8h-1.8zM495.6 147.2h1.8v1.8h-1.8zM491.7 159.7h1.8v1.8h-1.8zM504.6 134.1h1.8v1.8h-1.8zM495.8 137.4h1.8v1.8h-1.8zM495.4 147.1h1.8v1.8h-1.8zM504.5 139.2h1.8v1.8h-1.8zM497.0 144.4h1.8v1.8h-1.8zM485.1 152.4h1.8v1.8h-1.8zM499.1 134.2h1.8v1.8h-1.8zM499.5 141.1h1.8v1.8h-1.8zM498.2 139.5h1.8v1.8h-1.8zM495.6 144.5h1.8v1.8h-1.8zM503.1 139.7h1.8v1.8h-1.8zM499.4 144.0h1.8v1.8h-1.8zM495.8 147.2h1.8v1.8h-1.8zM490.0 142.5h1.8v1.8h-1.8zM489.0 148.5h1.8v1.8h-1.8zM496.5 150.7h1.8v1.8h-1.8zM492.7 137.3h1.8v1.8h-1.8zM491.9 146.0h1.8v1.8h-1.8zM495.8 145.7h1.8v1.8h-1.8zM494.5 144.9h1.8v1.8h-1.8zM499.7 141.9h1.8v1.8h-1.8zM486.0 155.0h1.8v1.8h-1.8zM489.3 144.3h1.8v1.8h-1.8zM496.0 149.2h1.8v1.8h-1.8zM492.1 158.2h1.8v1.8h-1.8zM503.0 138.3h1.8v1.8h-1.8zM488.0 158.4h1.8v1.8h-1.8zM497.6 145.4h1.8v1.8h-1.8zM500.4 146.4h1.8v1.8h-1.8zM495.7 150.2h1.8v1.8h-1.8zM499.0 143.2h1.8v1.8h-1.8zM499.8 144.0h1.8v1.8h-1.8zM490.5 150.3h1.8v1.8h-1.8zM500.3 139.3h1.8v1.8h-1.8zM498.3 142.4h1.8v1.8h-1.8zM493.7 152.5h1.8v1.8h-1.8zM501.5 138.4h1.8v1.8h-1.8zM492.9 140.0h1.8v1.8h-1.8zM490.0 149.7h1.8v1.8h-1.8zM505.0 138.0h1.8v1.8h-1.8zM494.4 144.6h1.8v1.8h-1.8zM495.9 151.6h1.8v1.8h-1.8zM494.1 146.1h1.8v1.8h-1.8zM494.9 140.8h1.8v1.8h-1.8zM493.2 145.6h1.8v1.8h-1.8zM500.8 137.6h1.8v1.8h-1.8zM502.2 134.2h1.8v1.8h-1.8zM496.1 152.2h1.8v1.8h-1.8zM504.8 134.4h1.8v1.8h-1.8zM498.9 141.0h1.8v1.8h-1.8zM493.9 152.3h1.8v1.8h-1.8zM492.5 143.6h1.8v1.8h-1.8zM492.3 141.0h1.8v1.8h-1.8zM486.9 144.0h1.8v1.8h-1.8zM487.0 141.8h1.8v1.8h-1.8zM493.9 154.2h1.8v1.8h-1.8zM488.5 150.3h1.8v1.8h-1.8zM497.8 131.5h1.8v1.8h-1.8zM498.9 146.2h1.8v1.8h-1.8zM496.0 147.6h1.8v1.8h-1.8zM499.8 139.4h1.8v1.8h-1.8zM497.4 143.3h1.8v1.8h-1.8zM496.9 140.8h1.8v1.8h-1.8zM495.8 152.0h1.8v1.8h-1.8zM493.3 152.8h1.8v1.8h-1.8zM487.5 157.2h1.8v1.8h-1.8zM493.2 143.7h1.8v1.8h-1.8zM492.0 152.9h1.8v1.8h-1.8zM495.4 148.2h1.8v1.8h-1.8zM489.5 152.4h1.8v1.8h-1.8zM502.1 137.9h1.8v1.8h-1.8zM491.8 150.7h1.8v1.8h-1.8zM501.7 135.8h1.8v1.8h-1.8zM491.7 147.1h1.8v1.8h-1.8zM493.1 147.8h1.8v1.8h-1.8zM494.3 139.9h1.8v1.8h-1.8zM495.7 147.5h1.8v1.8h-1.8zM488.9 151.6h1.8v1.8h-1.8zM496.5 145.7h1.8v1.8h-1.8zM493.2 151.0h1.8v1.8h-1.8zM496.2 144.8h1.8v1.8h-1.8zM491.5 154.1h1.8v1.8h-1.8zM507.4 127.5h1.8v1.8h-1.8zM498.3 129.4h1.8v1.8h-1.8zM493.6 142.7h1.8v1.8h-1.8zM490.4 148.5h1.8v1.8h-1.8zM494.6 147.5h1.8v1.8h-1.8zM490.5 143.9h1.8v1.8h-1.8zM500.7 135.4h1.8v1.8h-1.8zM488.7 145.2h1.8v1.8h-1.8zM508.6 140.7h1.8v1.8h-1.8zM492.9 149.2h1.8v1.8h-1.8zM498.5 148.9h1.8v1.8h-1.8zM493.9 145.3h1.8v1.8h-1.8zM496.5 146.2h1.8v1.8h-1.8zM499.0 140.8h1.8v1.8h-1.8zM497.2 142.5h1.8v1.8h-1.8zM493.1 144.3h1.8v1.8h-1.8zM498.2 146.0h1.8v1.8h-1.8zM495.8 145.5h1.8v1.8h-1.8zM495.6 144.1h1.8v1.8h-1.8zM499.2 131.5h1.8v1.8h-1.8zM497.5 140.8h1.8v1.8h-1.8zM495.2 139.4h1.8v1.8h-1.8zM497.5 144.1h1.8v1.8h-1.8zM495.3 147.0h1.8v1.8h-1.8zM496.0 146.5h1.8v1.8h-1.8zM495.3 152.2h1.8v1.8h-1.8zM497.0 147.4h1.8v1.8h-1.8zM500.0 142.3h1.8v1.8h-1.8zM491.4 144.4h1.8v1.8h-1.8zM490.6 140.8h1.8v1.8h-1.8zM492.1 154.6h1.8v1.8h-1.8zM497.8 141.4h1.8v1.8h-1.8zM495.8 148.5h1.8v1.8h-1.8zM493.9 150.7h1.8v1.8h-1.8zM489.7 152.2h1.8v1.8h-1.8zM489.4 145.1h1.8v1.8h-1.8zM496.1 148.6h1.8v1.8h-1.8zM498.1 132.6h1.8v1.8h-1.8zM492.8 138.3h1.8v1.8h-1.8zM491.0 157.5h1.8v1.8h-1.8zM489.6 154.1h1.8v1.8h-1.8zM492.4 145.3h1.8v1.8h-1.8zM490.5 159.6h1.8v1.8h-1.8zM501.1 132.0h1.8v1.8h-1.8zM491.3 149.6h1.8v1.8h-1.8zM492.4 150.1h1.8v1.8h-1.8zM493.6 147.2h1.8v1.8h-1.8zM491.6 160.4h1.8v1.8h-1.8zM496.5 140.5h1.8v1.8h-1.8zM496.2 150.2h1.8v1.8h-1.8zM487.5 149.9h1.8v1.8h-1.8zM492.7 145.9h1.8v1.8h-1.8zM496.0 153.2h1.8v1.8h-1.8zM491.9 148.0h1.8v1.8h-1.8zM498.9 130.5h1.8v1.8h-1.8zM498.7 134.6h1.8v1.8h-1.8zM491.4 147.5h1.8v1.8h-1.8zM492.9 141.3h1.8v1.8h-1.8zM492.8 137.7h1.8v1.8h-1.8zM494.7 149.9h1.8v1.8h-1.8zM485.9 151.2h1.8v1.8h-1.8zM496.1 141.3h1.8v1.8h-1.8zM489.9 147.9h1.8v1.8h-1.8zM494.8 140.1h1.8v1.8h-1.8zM494.3 148.4h1.8v1.8h-1.8zM488.6 148.1h1.8v1.8h-1.8zM493.0 150.5h1.8v1.8h-1.8zM498.3 145.9h1.8v1.8h-1.8zM488.9 152.6h1.8v1.8h-1.8zM499.2 139.8h1.8v1.8h-1.8zM492.9 144.2h1.8v1.8h-1.8zM497.7 146.3h1.8v1.8h-1.8zM504.3 137.4h1.8v1.8h-1.8zM500.5 140.5h1.8v1.8h-1.8zM494.9 143.2h1.8v1.8h-1.8zM496.5 154.5h1.8v1.8h-1.8zM488.0 147.9h1.8v1.8h-1.8zM495.9 148.4h1.8v1.8h-1.8zM499.3 137.2h1.8v1.8h-1.8zM495.8 152.5h1.8v1.8h-1.8zM491.2 148.9h1.8v1.8h-1.8zM496.4 148.3h1.8v1.8h-1.8zM499.9 138.2h1.8v1.8h-1.8zM492.2 147.5h1.8v1.8h-1.8zM494.7 152.3h1.8v1.8h-1.8zM493.8 140.4h1.8v1.8h-1.8zM494.4 141.7h1.8v1.8h-1.8zM497.0 154.4h1.8v1.8h-1.8zM492.1 153.9h1.8v1.8h-1.8zM493.0 146.6h1.8v1.8h-1.8zM494.9 145.9h1.8v1.8h-1.8zM496.0 136.7h1.8v1.8h-1.8zM498.3 142.6h1.8v1.8h-1.8zM494.7 139.1h1.8v1.8h-1.8zM490.4 138.6h1.8v1.8h-1.8zM497.7 139.8h1.8v1.8h-1.8zM490.7 139.3h1.8v1.8h-1.8zM486.4 148.2h1.8v1.8h-1.8zM486.4 145.0h1.8v1.8h-1.8zM499.9 145.8h1.8v1.8h-1.8zM500.0 136.5h1.8v1.8h-1.8zM502.7 143.5h1.8v1.8h-1.8zM491.5 161.5h1.8v1.8h-1.8zM490.5 145.3h1.8v1.8h-1.8zM491.3 146.1h1.8v1.8h-1.8zM492.9 147.3h1.8v1.8h-1.8zM496.0 142.5h1.8v1.8h-1.8zM495.5 149.5h1.8v1.8h-1.8zM490.3 149.5h1.8v1.8h-1.8zM493.3 140.9h1.8v1.8h-1.8zM494.7 151.8h1.8v1.8h-1.8zM489.8 161.5h1.8v1.8h-1.8zM491.1 147.7h1.8v1.8h-1.8zM498.8 133.5h1.8v1.8h-1.8zM496.8 146.4h1.8v1.8h-1.8zM495.8 145.7h1.8v1.8h-1.8zM496.7 144.4h1.8v1.8h-1.8zM488.7 147.1h1.8v1.8h-1.8zM496.2 141.6h1.8v1.8h-1.8zM488.6 146.1h1.8v1.8h-1.8zM491.9 156.4h1.8v1.8h-1.8zM492.8 148.8h1.8v1.8h-1.8zM496.8 142.8h1.8v1.8h-1.8zM494.5 141.6h1.8v1.8h-1.8zM493.4 151.3h1.8v1.8h-1.8zM501.9 132.9h1.8v1.8h-1.8zM490.9 151.1h1.8v1.8h-1.8zM492.2 152.4h1.8v1.8h-1.8zM495.8 148.0h1.8v1.8h-1.8zM494.2 154.2h1.8v1.8h-1.8zM495.7 140.7h1.8v1.8h-1.8zM489.7 148.0h1.8v1.8h-1.8zM499.0 147.8h1.8v1.8h-1.8zM493.5 148.2h1.8v1.8h-1.8zM491.2 147.9h1.8v1.8h-1.8zM499.0 147.3h1.8v1.8h-1.8zM492.3 147.5h1.8v1.8h-1.8zM498.1 147.2h1.8v1.8h-1.8zM498.4 146.5h1.8v1.8h-1.8zM496.5 141.1h1.8v1.8h-1.8zM494.4 149.3h1.8v1.8h-1.8zM496.4 151.9h1.8v1.8h-1.8zM497.3 135.6h1.8v1.8h-1.8zM488.9 155.7h1.8v1.8h-1.8zM488.7 143.0h1.8v1.8h-1.8zM493.9 152.7h1.8v1.8h-1.8zM491.6 147.7h1.8v1.8h-1.8zM493.4 145.8h1.8v1.8h-1.8zM492.4 147.2h1.8v1.8h-1.8zM498.0 140.6h1.8v1.8h-1.8zM501.0 136.6h1.8v1.8h-1.8zM491.1 137.3h1.8v1.8h-1.8zM499.1 139.6h1.8v1.8h-1.8zM496.9 144.9h1.8v1.8h-1.8zM495.5 144.6h1.8v1.8h-1.8zM499.5 148.0h1.8v1.8h-1.8zM492.3 138.8h1.8v1.8h-1.8zM495.6 146.8h1.8v1.8h-1.8zM494.1 153.7h1.8v1.8h-1.8zM497.5 138.4h1.8v1.8h-1.8zM499.5 139.6h1.8v1.8h-1.8zM497.4 139.0h1.8v1.8h-1.8zM492.6 156.0h1.8v1.8h-1.8zM491.3 143.3h1.8v1.8h-1.8zM497.7 147.8h1.8v1.8h-1.8zM501.6 149.9h1.8v1.8h-1.8zM497.4 156.5h1.8v1.8h-1.8zM495.9 143.3h1.8v1.8h-1.8zM493.5 152.1h1.8v1.8h-1.8zM502.8 136.3h1.8v1.8h-1.8zM493.7 153.7h1.8v1.8h-1.8zM497.4 142.2h1.8v1.8h-1.8zM498.7 139.1h1.8v1.8h-1.8zM496.4 129.0h1.8v1.8h-1.8zM490.2 157.2h1.8v1.8h-1.8zM499.1 130.6h1.8v1.8h-1.8zM487.2 137.7h1.8v1.8h-1.8zM485.4 141.1h1.8v1.8h-1.8zM489.8 151.8h1.8v1.8h-1.8zM491.5 121.4h1.8v1.8h-1.8zM490.9 166.7h1.8v1.8h-1.8zM500.9 136.9h1.8v1.8h-1.8zM500.4 146.8h1.8v1.8h-1.8zM492.0 143.2h1.8v1.8h-1.8zM488.9 170.3h1.8v1.8h-1.8zM497.9 147.1h1.8v1.8h-1.8zM496.9 162.5h1.8v1.8h-1.8zM509.4 124.6h1.8v1.8h-1.8zM494.9 143.4h1.8v1.8h-1.8zM501.5 145.3h1.8v1.8h-1.8zM503.8 141.4h1.8v1.8h-1.8zM489.4 137.3h1.8v1.8h-1.8zM491.9 147.0h1.8v1.8h-1.8zM492.8 152.7h1.8v1.8h-1.8zM497.9 164.9h1.8v1.8h-1.8zM492.9 145.6h1.8v1.8h-1.8zM512.4 132.0h1.8v1.8h-1.8zM499.2 136.3h1.8v1.8h-1.8zM484.5 161.2h1.8v1.8h-1.8zM488.4 136.2h1.8v1.8h-1.8zM508.0 138.7h1.8v1.8h-1.8zM501.3 153.1h1.8v1.8h-1.8zM504.6 134.5h1.8v1.8h-1.8zM514.5 139.8h1.8v1.8h-1.8zM488.7 150.0h1.8v1.8h-1.8zM494.4 144.7h1.8v1.8h-1.8z" fill="#808080"/>
<circle cx="496" cy="146" r="2.3" fill="#00ff00"/>
<line x1="500.5" y1="146.1" x2="572.7" y2="145.8" stroke="#000" stroke-width="1.8"/>
<rect x="573" y="139.5" width="88.5" height="87.0" fill="#fff"/>
<line x1="576.8" y1="139.5" x2="576.8" y2="226.5" stroke="#3c3c3c" stroke-width="0.9" stroke-dasharray="1 5.4" fill="none"/>
<line x1="573" y1="223.3" x2="661.5" y2="223.3" stroke="#3c3c3c" stroke-width="0.9" stroke-dasharray="1 5.4" fill="none"/>
<text x="567.8" y="229.8" font-size="16.7" text-anchor="end" font-weight="bold" font-family='"Liberation Sans", sans-serif' >−0.1</text>
<line x1="617.8" y1="139.5" x2="617.8" y2="226.5" stroke="#3c3c3c" stroke-width="0.9" stroke-dasharray="1 5.4" fill="none"/>
<line x1="573" y1="182.3" x2="661.5" y2="182.3" stroke="#3c3c3c" stroke-width="0.9" stroke-dasharray="1 5.4" fill="none"/>
<text x="567.8" y="188.8" font-size="16.7" text-anchor="end" font-weight="bold" font-family='"Liberation Sans", sans-serif' >0</text>
<line x1="658.8" y1="139.5" x2="658.8" y2="226.5" stroke="#3c3c3c" stroke-width="0.9" stroke-dasharray="1 5.4" fill="none"/>
<line x1="573" y1="141.3" x2="661.5" y2="141.3" stroke="#3c3c3c" stroke-width="0.9" stroke-dasharray="1 5.4" fill="none"/>
<text x="567.8" y="147.8" font-size="16.7" text-anchor="end" font-weight="bold" font-family='"Liberation Sans", sans-serif' >0.1</text>
<text x="587.3" y="247.3" font-size="16.7" text-anchor="end" font-weight="bold" font-family='"Liberation Sans", sans-serif' >−0.1</text>
<text x="616.6" y="247.3" font-size="16.7" text-anchor="middle" font-weight="bold" font-family='"Liberation Sans", sans-serif' >0</text>
<text x="666.8" y="247.3" font-size="16.7" text-anchor="end" font-weight="bold" font-family='"Liberation Sans", sans-serif' >0.1</text>
<path d="M616.0 207.7h1.9v1.9h-1.9zM643.7 222.7h1.9v1.9h-1.9zM607.8 198.5h1.9v1.9h-1.9zM623.3 214.5h1.9v1.9h-1.9zM613.5 186.4h1.9v1.9h-1.9zM641.9 185.0h1.9v1.9h-1.9zM615.3 223.9h1.9v1.9h-1.9zM649.5 172.8h1.9v1.9h-1.9zM645.4 173.6h1.9v1.9h-1.9zM622.0 200.7h1.9v1.9h-1.9zM624.7 198.9h1.9v1.9h-1.9zM636.4 154.0h1.9v1.9h-1.9zM656.0 201.9h1.9v1.9h-1.9zM618.0 149.1h1.9v1.9h-1.9zM647.6 176.0h1.9v1.9h-1.9zM615.1 164.1h1.9v1.9h-1.9zM630.0 192.5h1.9v1.9h-1.9zM652.1 222.6h1.9v1.9h-1.9zM595.7 209.5h1.9v1.9h-1.9zM621.5 184.5h1.9v1.9h-1.9zM627.5 163.9h1.9v1.9h-1.9zM617.7 204.3h1.9v1.9h-1.9zM620.4 218.1h1.9v1.9h-1.9zM616.2 210.1h1.9v1.9h-1.9zM597.8 205.6h1.9v1.9h-1.9zM581.0 180.6h1.9v1.9h-1.9zM612.2 180.2h1.9v1.9h-1.9zM600.3 187.5h1.9v1.9h-1.9zM633.9 209.0h1.9v1.9h-1.9zM612.1 145.7h1.9v1.9h-1.9zM601.3 211.1h1.9v1.9h-1.9zM648.2 203.2h1.9v1.9h-1.9zM618.2 203.5h1.9v1.9h-1.9zM623.0 148.0h1.9v1.9h-1.9zM645.7 165.2h1.9v1.9h-1.9zM590.9 159.4h1.9v1.9h-1.9zM582.6 191.2h1.9v1.9h-1.9zM639.7 173.3h1.9v1.9h-1.9zM626.7 168.2h1.9v1.9h-1.9zM641.4 201.9h1.9v1.9h-1.9zM638.0 190.1h1.9v1.9h-1.9zM658.0 199.5h1.9v1.9h-1.9zM644.9 217.7h1.9v1.9h-1.9zM609.1 167.9h1.9v1.9h-1.9zM590.2 200.3h1.9v1.9h-1.9zM634.8 206.3h1.9v1.9h-1.9zM590.8 178.5h1.9v1.9h-1.9zM626.8 204.1h1.9v1.9h-1.9zM617.0 175.5h1.9v1.9h-1.9zM587.5 170.9h1.9v1.9h-1.9zM644.8 183.8h1.9v1.9h-1.9zM592.4 157.4h1.9v1.9h-1.9zM636.6 194.5h1.9v1.9h-1.9zM616.0 195.6h1.9v1.9h-1.9zM627.7 161.3h1.9v1.9h-1.9zM575.9 162.3h1.9v1.9h-1.9zM626.7 186.1h1.9v1.9h-1.9zM606.0 153.7h1.9v1.9h-1.9zM582.2 143.3h1.9v1.9h-1.9zM591.8 188.3h1.9v1.9h-1.9zM616.2 195.6h1.9v1.9h-1.9zM596.2 177.5h1.9v1.9h-1.9zM631.8 191.5h1.9v1.9h-1.9zM637.1 186.9h1.9v1.9h-1.9zM608.3 203.1h1.9v1.9h-1.9zM619.5 157.9h1.9v1.9h-1.9zM599.2 181.0h1.9v1.9h-1.9zM614.7 185.4h1.9v1.9h-1.9zM618.0 185.9h1.9v1.9h-1.9zM614.0 145.8h1.9v1.9h-1.9zM630.6 210.5h1.9v1.9h-1.9zM631.0 175.7h1.9v1.9h-1.9zM631.4 154.0h1.9v1.9h-1.9zM590.1 201.7h1.9v1.9h-1.9zM606.5 142.7h1.9v1.9h-1.9zM595.1 195.6h1.9v1.9h-1.9zM632.9 185.9h1.9v1.9h-1.9zM617.4 197.7h1.9v1.9h-1.9zM648.7 150.7h1.9v1.9h-1.9zM613.5 201.4h1.9v1.9h-1.9zM609.1 210.9h1.9v1.9h-1.9zM635.9 206.4h1.9v1.9h-1.9zM655.2 175.0h1.9v1.9h-1.9zM607.7 205.5h1.9v1.9h-1.9zM647.4 181.2h1.9v1.9h-1.9zM583.0 186.3h1.9v1.9h-1.9zM628.8 212.6h1.9v1.9h-1.9zM641.5 181.7h1.9v1.9h-1.9zM643.6 196.1h1.9v1.9h-1.9zM624.2 182.5h1.9v1.9h-1.9zM610.7 200.2h1.9v1.9h-1.9zM586.4 163.4h1.9v1.9h-1.9zM597.5 196.9h1.9v1.9h-1.9zM635.0 179.5h1.9v1.9h-1.9zM611.0 141.3h1.9v1.9h-1.9zM650.8 156.3h1.9v1.9h-1.9zM641.4 207.2h1.9v1.9h-1.9zM599.1 141.7h1.9v1.9h-1.9zM618.9 188.0h1.9v1.9h-1.9zM637.0 200.7h1.9v1.9h-1.9zM578.6 166.8h1.9v1.9h-1.9zM586.2 150.9h1.9v1.9h-1.9zM615.6 181.2h1.9v1.9h-1.9zM580.9 180.4h1.9v1.9h-1.9zM612.0 172.3h1.9v1.9h-1.9zM616.1 159.7h1.9v1.9h-1.9zM639.0 190.9h1.9v1.9h-1.9zM615.4 162.2h1.9v1.9h-1.9zM588.6 182.0h1.9v1.9h-1.9zM622.4 142.4h1.9v1.9h-1.9zM610.5 172.2h1.9v1.9h-1.9zM631.8 198.1h1.9v1.9h-1.9zM616.9 157.2h1.9v1.9h-1.9zM622.7 142.0h1.9v1.9h-1.9zM580.1 163.3h1.9v1.9h-1.9zM631.4 198.5h1.9v1.9h-1.9zM631.8 165.1h1.9v1.9h-1.9zM618.4 179.6h1.9v1.9h-1.9zM614.2 150.8h1.9v1.9h-1.9zM650.1 157.5h1.9v1.9h-1.9zM657.2 218.7h1.9v1.9h-1.9zM576.5 179.1h1.9v1.9h-1.9zM643.9 221.4h1.9v1.9h-1.9zM612.8 163.3h1.9v1.9h-1.9zM592.6 219.5h1.9v1.9h-1.9zM592.7 189.3h1.9v1.9h-1.9zM586.9 184.5h1.9v1.9h-1.9zM655.0 152.0h1.9v1.9h-1.9zM643.9 183.2h1.9v1.9h-1.9zM649.5 199.4h1.9v1.9h-1.9zM594.4 215.5h1.9v1.9h-1.9zM615.8 143.1h1.9v1.9h-1.9zM575.3 181.8h1.9v1.9h-1.9zM612.9 166.1h1.9v1.9h-1.9zM586.8 169.5h1.9v1.9h-1.9zM601.6 210.7h1.9v1.9h-1.9zM575.1 203.3h1.9v1.9h-1.9zM645.5 151.0h1.9v1.9h-1.9zM652.8 200.2h1.9v1.9h-1.9zM650.7 165.1h1.9v1.9h-1.9zM606.3 173.6h1.9v1.9h-1.9zM658.9 189.9h1.9v1.9h-1.9zM605.3 176.5h1.9v1.9h-1.9zM598.1 145.0h1.9v1.9h-1.9zM583.5 210.3h1.9v1.9h-1.9zM599.0 218.7h1.9v1.9h-1.9zM595.9 163.1h1.9v1.9h-1.9zM617.9 156.8h1.9v1.9h-1.9zM606.4 220.4h1.9v1.9h-1.9zM649.3 208.4h1.9v1.9h-1.9zM628.0 216.8h1.9v1.9h-1.9zM654.0 186.6h1.9v1.9h-1.9zM635.4 145.1h1.9v1.9h-1.9zM636.5 178.4h1.9v1.9h-1.9zM638.2 194.5h1.9v1.9h-1.9zM599.0 145.1h1.9v1.9h-1.9zM652.8 151.6h1.9v1.9h-1.9zM614.7 169.5h1.9v1.9h-1.9zM600.0 202.3h1.9v1.9h-1.9zM657.0 162.6h1.9v1.9h-1.9zM630.1 166.0h1.9v1.9h-1.9zM621.8 173.7h1.9v1.9h-1.9zM589.1 154.4h1.9v1.9h-1.9zM592.5 216.2h1.9v1.9h-1.9zM616.8 159.3h1.9v1.9h-1.9zM651.1 223.7h1.9v1.9h-1.9zM612.8 152.6h1.9v1.9h-1.9zM591.2 148.5h1.9v1.9h-1.9zM603.7 148.6h1.9v1.9h-1.9zM595.1 162.4h1.9v1.9h-1.9zM622.8 214.6h1.9v1.9h-1.9zM638.0 175.3h1.9v1.9h-1.9zM609.8 184.5h1.9v1.9h-1.9zM606.7 169.1h1.9v1.9h-1.9zM580.2 164.0h1.9v1.9h-1.9zM656.3 151.4h1.9v1.9h-1.9zM617.3 193.3h1.9v1.9h-1.9zM647.5 158.9h1.9v1.9h-1.9zM597.8 161.6h1.9v1.9h-1.9zM608.6 178.0h1.9v1.9h-1.9zM655.1 211.4h1.9v1.9h-1.9zM648.3 142.8h1.9v1.9h-1.9zM577.7 199.9h1.9v1.9h-1.9zM650.2 180.3h1.9v1.9h-1.9zM624.3 141.0h1.9v1.9h-1.9zM607.9 217.9h1.9v1.9h-1.9zM644.3 212.0h1.9v1.9h-1.9zM656.7 161.6h1.9v1.9h-1.9zM584.2 153.8h1.9v1.9h-1.9zM618.9 197.6h1.9v1.9h-1.9zM654.1 200.9h1.9v1.9h-1.9zM629.4 204.5h1.9v1.9h-1.9zM613.4 186.8h1.9v1.9h-1.9zM578.3 205.9h1.9v1.9h-1.9zM594.5 217.4h1.9v1.9h-1.9zM629.2 166.2h1.9v1.9h-1.9zM585.7 161.9h1.9v1.9h-1.9zM628.4 199.0h1.9v1.9h-1.9zM584.4 146.8h1.9v1.9h-1.9zM619.1 189.4h1.9v1.9h-1.9zM607.6 159.6h1.9v1.9h-1.9zM625.5 141.9h1.9v1.9h-1.9zM600.3 179.2h1.9v1.9h-1.9z" fill="#6e6e6e"/>
<path d="M610.0 188.3h2.6v2.6h-2.6zM614.2 203.2h2.6v2.6h-2.6zM626.0 188.6h2.6v2.6h-2.6zM620.1 176.3h2.6v2.6h-2.6zM614.9 189.0h2.6v2.6h-2.6zM615.0 175.7h2.6v2.6h-2.6zM614.0 183.8h2.6v2.6h-2.6zM618.7 184.9h2.6v2.6h-2.6zM617.9 172.5h2.6v2.6h-2.6zM616.6 180.3h2.6v2.6h-2.6zM614.1 182.5h2.6v2.6h-2.6zM621.3 177.5h2.6v2.6h-2.6zM613.3 181.0h2.6v2.6h-2.6zM619.0 175.2h2.6v2.6h-2.6zM619.1 181.6h2.6v2.6h-2.6zM614.6 173.3h2.6v2.6h-2.6zM621.7 180.6h2.6v2.6h-2.6zM615.6 196.4h2.6v2.6h-2.6zM615.3 177.5h2.6v2.6h-2.6zM619.9 175.0h2.6v2.6h-2.6zM616.7 183.5h2.6v2.6h-2.6zM609.0 178.2h2.6v2.6h-2.6zM611.6 189.4h2.6v2.6h-2.6zM608.4 184.5h2.6v2.6h-2.6zM620.4 190.3h2.6v2.6h-2.6zM626.1 182.2h2.6v2.6h-2.6zM612.8 179.6h2.6v2.6h-2.6zM612.3 188.3h2.6v2.6h-2.6zM617.4 187.4h2.6v2.6h-2.6zM617.7 185.9h2.6v2.6h-2.6zM612.6 179.5h2.6v2.6h-2.6zM620.1 171.6h2.6v2.6h-2.6zM614.4 183.8h2.6v2.6h-2.6zM616.1 172.0h2.6v2.6h-2.6zM617.8 176.6h2.6v2.6h-2.6zM619.0 173.0h2.6v2.6h-2.6zM619.4 182.3h2.6v2.6h-2.6zM621.7 162.5h2.6v2.6h-2.6zM615.8 173.1h2.6v2.6h-2.6zM615.8 188.9h2.6v2.6h-2.6zM617.7 177.9h2.6v2.6h-2.6zM619.3 169.8h2.6v2.6h-2.6zM618.2 172.7h2.6v2.6h-2.6zM621.7 178.2h2.6v2.6h-2.6zM614.4 188.7h2.6v2.6h-2.6zM618.8 172.4h2.6v2.6h-2.6zM613.4 180.9h2.6v2.6h-2.6zM620.1 178.5h2.6v2.6h-2.6zM613.4 174.7h2.6v2.6h-2.6zM616.7 174.1h2.6v2.6h-2.6zM611.8 192.6h2.6v2.6h-2.6zM615.7 187.2h2.6v2.6h-2.6zM604.6 190.9h2.6v2.6h-2.6zM615.1 174.2h2.6v2.6h-2.6zM617.4 177.8h2.6v2.6h-2.6zM612.9 178.3h2.6v2.6h-2.6zM619.3 170.7h2.6v2.6h-2.6zM612.8 180.5h2.6v2.6h-2.6zM614.0 183.0h2.6v2.6h-2.6zM620.4 190.7h2.6v2.6h-2.6zM621.1 189.5h2.6v2.6h-2.6zM614.2 179.3h2.6v2.6h-2.6zM621.3 180.7h2.6v2.6h-2.6zM613.7 174.0h2.6v2.6h-2.6zM611.0 190.9h2.6v2.6h-2.6zM613.5 175.4h2.6v2.6h-2.6zM611.4 187.8h2.6v2.6h-2.6zM613.5 177.6h2.6v2.6h-2.6zM612.6 187.5h2.6v2.6h-2.6zM619.1 183.4h2.6v2.6h-2.6zM626.1 182.9h2.6v2.6h-2.6zM624.7 177.6h2.6v2.6h-2.6zM619.3 174.1h2.6v2.6h-2.6zM613.7 190.4h2.6v2.6h-2.6zM615.7 185.2h2.6v2.6h-2.6zM617.6 186.7h2.6v2.6h-2.6zM620.1 173.6h2.6v2.6h-2.6zM616.4 176.2h2.6v2.6h-2.6zM612.3 184.8h2.6v2.6h-2.6zM611.4 179.2h2.6v2.6h-2.6zM623.0 185.4h2.6v2.6h-2.6zM614.8 198.2h2.6v2.6h-2.6zM619.8 166.0h2.6v2.6h-2.6zM614.5 183.3h2.6v2.6h-2.6zM616.2 181.2h2.6v2.6h-2.6zM616.5 176.0h2.6v2.6h-2.6zM611.5 168.2h2.6v2.6h-2.6zM621.7 180.9h2.6v2.6h-2.6zM612.2 179.1h2.6v2.6h-2.6zM617.7 188.3h2.6v2.6h-2.6zM619.3 175.2h2.6v2.6h-2.6zM616.5 177.0h2.6v2.6h-2.6zM616.6 176.4h2.6v2.6h-2.6zM621.2 185.3h2.6v2.6h-2.6zM619.0 190.3h2.6v2.6h-2.6zM621.9 184.2h2.6v2.6h-2.6zM623.0 196.9h2.6v2.6h-2.6zM611.9 177.7h2.6v2.6h-2.6zM620.0 198.2h2.6v2.6h-2.6zM620.9 179.3h2.6v2.6h-2.6zM615.3 182.3h2.6v2.6h-2.6zM619.1 169.8h2.6v2.6h-2.6zM623.6 181.6h2.6v2.6h-2.6zM613.2 180.4h2.6v2.6h-2.6zM616.8 172.8h2.6v2.6h-2.6zM613.7 195.0h2.6v2.6h-2.6zM622.0 166.4h2.6v2.6h-2.6zM606.8 173.3h2.6v2.6h-2.6zM611.7 185.9h2.6v2.6h-2.6zM618.7 187.6h2.6v2.6h-2.6zM614.2 174.6h2.6v2.6h-2.6zM613.4 179.3h2.6v2.6h-2.6zM616.8 180.9h2.6v2.6h-2.6zM618.6 182.1h2.6v2.6h-2.6zM617.1 180.9h2.6v2.6h-2.6zM604.6 175.4h2.6v2.6h-2.6zM609.3 183.7h2.6v2.6h-2.6zM625.0 169.2h2.6v2.6h-2.6zM621.5 180.5h2.6v2.6h-2.6zM620.3 174.7h2.6v2.6h-2.6zM616.1 179.4h2.6v2.6h-2.6zM622.0 185.2h2.6v2.6h-2.6zM606.5 176.1h2.6v2.6h-2.6zM614.8 170.2h2.6v2.6h-2.6zM619.2 166.0h2.6v2.6h-2.6zM613.9 162.5h2.6v2.6h-2.6zM613.5 171.9h2.6v2.6h-2.6zM616.3 186.5h2.6v2.6h-2.6zM617.2 178.9h2.6v2.6h-2.6zM617.0 176.5h2.6v2.6h-2.6zM617.4 178.3h2.6v2.6h-2.6zM624.0 183.2h2.6v2.6h-2.6zM616.4 172.6h2.6v2.6h-2.6zM613.5 185.9h2.6v2.6h-2.6zM618.5 172.3h2.6v2.6h-2.6zM615.9 177.5h2.6v2.6h-2.6zM616.8 172.2h2.6v2.6h-2.6zM612.7 183.6h2.6v2.6h-2.6zM619.3 194.5h2.6v2.6h-2.6zM614.1 173.2h2.6v2.6h-2.6zM613.4 180.0h2.6v2.6h-2.6zM612.6 178.1h2.6v2.6h-2.6zM614.3 168.5h2.6v2.6h-2.6zM615.5 171.2h2.6v2.6h-2.6zM614.5 174.8h2.6v2.6h-2.6zM619.4 175.4h2.6v2.6h-2.6zM613.9 173.2h2.6v2.6h-2.6zM618.2 177.3h2.6v2.6h-2.6zM621.2 183.6h2.6v2.6h-2.6zM615.4 174.6h2.6v2.6h-2.6zM613.6 172.8h2.6v2.6h-2.6zM612.4 179.1h2.6v2.6h-2.6zM617.5 174.1h2.6v2.6h-2.6zM621.4 168.2h2.6v2.6h-2.6zM610.9 174.0h2.6v2.6h-2.6zM612.8 172.1h2.6v2.6h-2.6zM620.7 190.7h2.6v2.6h-2.6zM623.2 171.8h2.6v2.6h-2.6zM617.2 176.7h2.6v2.6h-2.6zM611.6 183.8h2.6v2.6h-2.6zM615.3 189.3h2.6v2.6h-2.6zM618.4 180.8h2.6v2.6h-2.6zM618.1 189.2h2.6v2.6h-2.6zM616.7 178.1h2.6v2.6h-2.6zM619.9 180.9h2.6v2.6h-2.6zM617.7 193.6h2.6v2.6h-2.6zM624.4 179.3h2.6v2.6h-2.6zM611.0 195.8h2.6v2.6h-2.6zM622.7 182.6h2.6v2.6h-2.6zM614.6 186.5h2.6v2.6h-2.6zM612.0 188.0h2.6v2.6h-2.6zM616.2 179.1h2.6v2.6h-2.6zM617.3 175.1h2.6v2.6h-2.6zM614.7 183.9h2.6v2.6h-2.6zM614.1 185.0h2.6v2.6h-2.6zM613.7 184.1h2.6v2.6h-2.6zM609.8 189.0h2.6v2.6h-2.6zM614.9 176.3h2.6v2.6h-2.6zM618.7 180.3h2.6v2.6h-2.6zM618.5 178.0h2.6v2.6h-2.6zM619.6 180.4h2.6v2.6h-2.6zM617.2 171.1h2.6v2.6h-2.6zM615.7 186.3h2.6v2.6h-2.6zM621.0 183.3h2.6v2.6h-2.6zM621.6 187.5h2.6v2.6h-2.6zM623.5 178.7h2.6v2.6h-2.6zM617.7 183.0h2.6v2.6h-2.6zM618.1 184.4h2.6v2.6h-2.6zM618.1 187.1h2.6v2.6h-2.6zM617.0 170.1h2.6v2.6h-2.6zM620.1 182.9h2.6v2.6h-2.6zM616.7 184.6h2.6v2.6h-2.6zM613.8 182.2h2.6v2.6h-2.6zM618.8 179.2h2.6v2.6h-2.6zM607.2 170.5h2.6v2.6h-2.6zM620.6 175.1h2.6v2.6h-2.6zM617.4 177.3h2.6v2.6h-2.6zM619.7 180.0h2.6v2.6h-2.6zM622.5 186.2h2.6v2.6h-2.6zM618.6 179.8h2.6v2.6h-2.6zM614.3 190.1h2.6v2.6h-2.6zM615.6 177.2h2.6v2.6h-2.6zM614.0 184.2h2.6v2.6h-2.6zM623.3 181.3h2.6v2.6h-2.6zM616.2 182.1h2.6v2.6h-2.6zM613.1 188.9h2.6v2.6h-2.6zM617.5 191.9h2.6v2.6h-2.6zM620.2 183.4h2.6v2.6h-2.6zM613.2 185.5h2.6v2.6h-2.6zM620.1 180.0h2.6v2.6h-2.6zM615.6 178.9h2.6v2.6h-2.6zM615.0 176.8h2.6v2.6h-2.6zM617.1 188.1h2.6v2.6h-2.6zM619.4 175.0h2.6v2.6h-2.6zM623.3 189.9h2.6v2.6h-2.6zM614.3 169.2h2.6v2.6h-2.6zM616.6 175.8h2.6v2.6h-2.6zM621.1 172.5h2.6v2.6h-2.6zM617.0 166.2h2.6v2.6h-2.6zM617.6 192.2h2.6v2.6h-2.6zM615.6 184.0h2.6v2.6h-2.6zM613.4 184.8h2.6v2.6h-2.6zM619.2 167.2h2.6v2.6h-2.6zM616.7 178.3h2.6v2.6h-2.6zM608.0 181.1h2.6v2.6h-2.6zM612.4 188.1h2.6v2.6h-2.6zM618.9 172.7h2.6v2.6h-2.6zM622.3 187.7h2.6v2.6h-2.6zM613.6 181.8h2.6v2.6h-2.6zM611.4 172.0h2.6v2.6h-2.6zM614.5 192.8h2.6v2.6h-2.6zM616.9 160.1h2.6v2.6h-2.6zM610.7 187.6h2.6v2.6h-2.6zM622.5 173.7h2.6v2.6h-2.6zM614.6 186.9h2.6v2.6h-2.6zM619.7 183.2h2.6v2.6h-2.6zM612.6 197.7h2.6v2.6h-2.6zM609.4 183.3h2.6v2.6h-2.6zM621.8 173.2h2.6v2.6h-2.6zM616.3 184.3h2.6v2.6h-2.6zM616.9 193.4h2.6v2.6h-2.6zM612.9 188.4h2.6v2.6h-2.6zM615.5 177.3h2.6v2.6h-2.6zM617.6 171.1h2.6v2.6h-2.6zM618.4 182.7h2.6v2.6h-2.6zM616.6 178.7h2.6v2.6h-2.6zM614.9 185.0h2.6v2.6h-2.6zM616.5 176.3h2.6v2.6h-2.6zM611.2 182.3h2.6v2.6h-2.6zM621.1 175.8h2.6v2.6h-2.6zM617.9 177.8h2.6v2.6h-2.6zM618.0 174.7h2.6v2.6h-2.6zM607.6 172.7h2.6v2.6h-2.6zM616.0 175.8h2.6v2.6h-2.6zM616.4 179.2h2.6v2.6h-2.6zM610.0 185.8h2.6v2.6h-2.6zM617.7 188.4h2.6v2.6h-2.6zM618.8 195.1h2.6v2.6h-2.6zM615.6 193.1h2.6v2.6h-2.6zM619.0 183.3h2.6v2.6h-2.6zM621.4 175.8h2.6v2.6h-2.6zM607.4 183.0h2.6v2.6h-2.6zM615.2 178.3h2.6v2.6h-2.6zM612.1 184.1h2.6v2.6h-2.6zM620.0 181.4h2.6v2.6h-2.6zM616.6 177.0h2.6v2.6h-2.6zM611.2 186.3h2.6v2.6h-2.6zM613.6 180.1h2.6v2.6h-2.6zM622.8 188.9h2.6v2.6h-2.6zM620.2 179.3h2.6v2.6h-2.6zM616.9 187.2h2.6v2.6h-2.6zM621.8 189.3h2.6v2.6h-2.6zM622.4 190.3h2.6v2.6h-2.6zM622.2 190.4h2.6v2.6h-2.6zM619.5 170.1h2.6v2.6h-2.6zM614.8 184.8h2.6v2.6h-2.6zM614.1 189.7h2.6v2.6h-2.6zM616.0 182.1h2.6v2.6h-2.6zM612.4 192.0h2.6v2.6h-2.6zM617.0 174.8h2.6v2.6h-2.6zM616.1 187.0h2.6v2.6h-2.6zM611.3 195.5h2.6v2.6h-2.6zM616.0 179.9h2.6v2.6h-2.6zM609.6 187.0h2.6v2.6h-2.6zM622.8 179.3h2.6v2.6h-2.6zM614.4 183.1h2.6v2.6h-2.6zM616.9 182.5h2.6v2.6h-2.6zM622.7 181.3h2.6v2.6h-2.6zM612.1 168.0h2.6v2.6h-2.6zM622.7 183.1h2.6v2.6h-2.6zM619.4 174.6h2.6v2.6h-2.6zM617.7 178.7h2.6v2.6h-2.6zM609.4 179.7h2.6v2.6h-2.6zM613.8 174.3h2.6v2.6h-2.6zM616.0 171.2h2.6v2.6h-2.6zM614.1 188.3h2.6v2.6h-2.6zM621.9 185.0h2.6v2.6h-2.6zM609.9 184.6h2.6v2.6h-2.6zM618.0 179.9h2.6v2.6h-2.6zM611.1 167.1h2.6v2.6h-2.6zM611.1 175.2h2.6v2.6h-2.6zM618.5 173.7h2.6v2.6h-2.6zM618.2 170.4h2.6v2.6h-2.6zM621.6 174.7h2.6v2.6h-2.6zM622.0 178.7h2.6v2.6h-2.6zM617.9 165.0h2.6v2.6h-2.6zM617.1 171.2h2.6v2.6h-2.6zM612.4 164.4h2.6v2.6h-2.6zM606.1 187.7h2.6v2.6h-2.6zM617.0 184.1h2.6v2.6h-2.6zM622.9 177.0h2.6v2.6h-2.6zM622.0 179.2h2.6v2.6h-2.6zM616.5 175.0h2.6v2.6h-2.6zM614.3 179.8h2.6v2.6h-2.6zM622.4 176.5h2.6v2.6h-2.6zM614.6 179.3h2.6v2.6h-2.6zM613.3 194.7h2.6v2.6h-2.6zM617.2 196.4h2.6v2.6h-2.6zM611.0 192.3h2.6v2.6h-2.6zM617.3 171.6h2.6v2.6h-2.6zM616.6 162.5h2.6v2.6h-2.6zM613.6 187.9h2.6v2.6h-2.6zM615.3 182.8h2.6v2.6h-2.6zM622.5 167.9h2.6v2.6h-2.6zM618.6 189.2h2.6v2.6h-2.6zM613.0 188.1h2.6v2.6h-2.6zM618.0 186.4h2.6v2.6h-2.6zM619.3 184.7h2.6v2.6h-2.6zM611.9 175.7h2.6v2.6h-2.6zM615.3 193.8h2.6v2.6h-2.6zM613.6 177.5h2.6v2.6h-2.6zM617.0 176.6h2.6v2.6h-2.6zM613.8 174.2h2.6v2.6h-2.6zM618.8 179.4h2.6v2.6h-2.6zM619.2 174.7h2.6v2.6h-2.6zM614.1 168.7h2.6v2.6h-2.6zM619.7 175.5h2.6v2.6h-2.6zM616.6 178.9h2.6v2.6h-2.6zM622.0 174.7h2.6v2.6h-2.6zM611.9 179.8h2.6v2.6h-2.6zM612.8 181.0h2.6v2.6h-2.6zM611.5 179.9h2.6v2.6h-2.6zM619.7 169.8h2.6v2.6h-2.6zM609.7 193.2h2.6v2.6h-2.6zM613.8 184.4h2.6v2.6h-2.6zM611.9 180.2h2.6v2.6h-2.6zM619.2 183.9h2.6v2.6h-2.6zM615.3 170.6h2.6v2.6h-2.6zM616.5 183.6h2.6v2.6h-2.6zM616.2 184.1h2.6v2.6h-2.6zM622.9 180.7h2.6v2.6h-2.6zM613.5 191.5h2.6v2.6h-2.6zM625.2 186.8h2.6v2.6h-2.6zM623.9 167.0h2.6v2.6h-2.6zM612.6 179.7h2.6v2.6h-2.6zM614.6 181.4h2.6v2.6h-2.6zM608.4 197.3h2.6v2.6h-2.6zM619.1 177.8h2.6v2.6h-2.6zM621.7 170.6h2.6v2.6h-2.6zM616.1 177.5h2.6v2.6h-2.6zM615.2 185.5h2.6v2.6h-2.6zM612.0 187.2h2.6v2.6h-2.6zM618.7 183.0h2.6v2.6h-2.6zM620.5 177.6h2.6v2.6h-2.6zM609.9 183.3h2.6v2.6h-2.6zM617.9 190.3h2.6v2.6h-2.6zM615.0 184.0h2.6v2.6h-2.6zM621.3 180.0h2.6v2.6h-2.6zM618.2 178.0h2.6v2.6h-2.6zM614.1 187.2h2.6v2.6h-2.6zM620.6 182.8h2.6v2.6h-2.6zM616.2 180.0h2.6v2.6h-2.6zM614.2 181.3h2.6v2.6h-2.6zM615.3 192.1h2.6v2.6h-2.6zM617.2 181.0h2.6v2.6h-2.6zM616.0 181.4h2.6v2.6h-2.6zM618.1 174.5h2.6v2.6h-2.6zM617.8 184.9h2.6v2.6h-2.6zM622.0 188.4h2.6v2.6h-2.6zM619.0 186.8h2.6v2.6h-2.6zM620.4 183.4h2.6v2.6h-2.6zM617.6 185.9h2.6v2.6h-2.6zM617.6 169.5h2.6v2.6h-2.6zM617.1 189.5h2.6v2.6h-2.6zM615.5 188.3h2.6v2.6h-2.6zM620.8 176.0h2.6v2.6h-2.6zM613.1 169.6h2.6v2.6h-2.6zM620.1 188.7h2.6v2.6h-2.6zM620.3 163.9h2.6v2.6h-2.6zM614.1 181.0h2.6v2.6h-2.6zM614.6 172.5h2.6v2.6h-2.6zM620.2 178.0h2.6v2.6h-2.6zM616.4 188.2h2.6v2.6h-2.6zM616.0 182.7h2.6v2.6h-2.6zM616.2 196.4h2.6v2.6h-2.6zM616.6 186.2h2.6v2.6h-2.6zM618.8 192.1h2.6v2.6h-2.6zM614.9 174.8h2.6v2.6h-2.6zM615.6 173.7h2.6v2.6h-2.6zM610.2 181.4h2.6v2.6h-2.6zM620.2 171.4h2.6v2.6h-2.6zM618.3 187.7h2.6v2.6h-2.6zM613.4 178.7h2.6v2.6h-2.6zM622.3 182.1h2.6v2.6h-2.6zM616.8 189.8h2.6v2.6h-2.6zM617.7 172.6h2.6v2.6h-2.6zM615.0 175.4h2.6v2.6h-2.6zM615.4 182.5h2.6v2.6h-2.6zM622.3 172.8h2.6v2.6h-2.6zM618.2 187.2h2.6v2.6h-2.6zM614.3 179.9h2.6v2.6h-2.6zM615.5 177.5h2.6v2.6h-2.6zM616.4 181.5h2.6v2.6h-2.6zM619.2 176.7h2.6v2.6h-2.6zM617.3 185.8h2.6v2.6h-2.6zM615.3 179.0h2.6v2.6h-2.6zM618.9 171.1h2.6v2.6h-2.6zM623.2 164.8h2.6v2.6h-2.6zM615.2 172.0h2.6v2.6h-2.6zM614.4 167.2h2.6v2.6h-2.6z" fill="#00ff00"/>
<rect x="573" y="139.5" width="88.5" height="87.0" stroke="#000" stroke-width="1.6" fill="none"/>
<rect x="569.5" y="80" width="92" height="58" fill="#fff"/>
<defs><linearGradient id="yg" x1="0" y1="0" x2="0" y2="1"><stop offset="0" stop-color="#f4d63a"/><stop offset="0.35" stop-color="#ecc600"/><stop offset="0.8" stop-color="#e2b600"/><stop offset="1" stop-color="#d6a600"/></linearGradient></defs>
<path d="M578 88 Q585 83.5 598 84 Q610 86 622 82 L660 81.2 L661.5 108 L619.7 108 L619.7 135.6 L592 135.6 Q579 134.5 574.5 129 Q571 118 572 100 Q573.5 91 578 88Z" fill="url(#yg)"/>
<path d="M622 83 L659 82 L660 86 L622 87Z M624 90 L660 89.5 L660 91 L624 91.5Z M624 95 L645 94.5 L645 96 L624 96.5Z" fill="#d6aa00" opacity="0.6"/>
<path d="M576 124 Q584 129.5 600 128.5 L619.7 127.5 L619.7 135.6 L592 135.6 Q580 134.5 576 129Z" fill="#c99a00"/>
<path d="M582 132.5 L619.7 132.2 L619.7 135.8 L588 135.8Z" fill="#dcdad2"/>
<ellipse cx="582.8" cy="104.4" rx="7.1" ry="13.6" fill="#2c3440" transform="rotate(8 582.8 104.4)"/>
<ellipse cx="582.8" cy="104.4" rx="5.7" ry="12.2" fill="#e9e8e0" transform="rotate(8 582.8 104.4)"/>
<circle cx="583" cy="94.5" r="1.2" fill="#5080a0"/><circle cx="581" cy="114" r="1.3" fill="#3060a0"/><circle cx="579.5" cy="103" r="1" fill="#c09020"/>
<g fill="#1e1e1e"><rect x="570.5" y="92.5" width="3.5" height="3.5" rx="1"/><rect x="570.5" y="104.8" width="3.5" height="3.5" rx="1"/><rect x="570.8" y="116.5" width="3.5" height="3.5" rx="1"/><rect x="571.5" y="125.3" width="3.5" height="3.5" rx="1"/></g>
<rect x="621" y="92" width="1.6" height="11" fill="#3a5aa0" opacity="0.7"/><rect x="627" y="97" width="3" height="8" fill="#3a5aa0" opacity="0.5"/>
<rect x="646" y="97" width="12.4" height="8" rx="1" fill="#d6d8cc"/>
<rect x="619.7" y="107.8" width="41" height="27.8" fill="#e2ded8"/>
<ellipse cx="639.5" cy="121.3" rx="19.5" ry="11.8" fill="#c0bcb0"/>
<ellipse cx="639.5" cy="120.3" rx="19" ry="11" fill="#f1f0e8"/>
<path d="M636.5 117.5 l2.2 -3.2 l2.2 3.2z" fill="#3050a0"/>
<rect x="392.5" y="287.5" width="273.0" height="152.5" fill="#fff"/>
<line x1="460.5" y1="287.5" x2="460.5" y2="440" stroke="#3c3c3c" stroke-width="0.9" stroke-dasharray="1 5.4" fill="none"/>
<path d="M460.5 287.5v2.5" stroke="#262626" stroke-width="1" fill="none"/>
<line x1="529.5" y1="287.5" x2="529.5" y2="440" stroke="#3c3c3c" stroke-width="0.9" stroke-dasharray="1 5.4" fill="none"/>
<path d="M529.5 287.5v2.5" stroke="#262626" stroke-width="1" fill="none"/>
<line x1="597.5" y1="287.5" x2="597.5" y2="440" stroke="#3c3c3c" stroke-width="0.9" stroke-dasharray="1 5.4" fill="none"/>
<path d="M597.5 287.5v2.5" stroke="#262626" stroke-width="1" fill="none"/>
<line x1="392.5" y1="303.0" x2="665.5" y2="303.0" stroke="#3c3c3c" stroke-width="0.9" stroke-dasharray="1 5.4" fill="none"/>
<path d="M392.5 303.0h2.5M665.5 303.0h-2.5" stroke="#262626" stroke-width="1" fill="none"/>
<text x="388.0" y="309.0" font-size="16.7" text-anchor="end" font-weight="normal" font-family='"Liberation Sans", sans-serif' >10</text>
<line x1="392.5" y1="342.5" x2="665.5" y2="342.5" stroke="#3c3c3c" stroke-width="0.9" stroke-dasharray="1 5.4" fill="none"/>
<path d="M392.5 342.5h2.5M665.5 342.5h-2.5" stroke="#262626" stroke-width="1" fill="none"/>
<text x="388.0" y="348.5" font-size="16.7" text-anchor="end" font-weight="normal" font-family='"Liberation Sans", sans-serif' >5</text>
<line x1="392.5" y1="382.0" x2="665.5" y2="382.0" stroke="#3c3c3c" stroke-width="0.9" stroke-dasharray="1 5.4" fill="none"/>
<path d="M392.5 382.0h2.5M665.5 382.0h-2.5" stroke="#262626" stroke-width="1" fill="none"/>
<text x="388.0" y="388.0" font-size="16.7" text-anchor="end" font-weight="normal" font-family='"Liberation Sans", sans-serif' >0</text>
<line x1="392.5" y1="421.5" x2="665.5" y2="421.5" stroke="#3c3c3c" stroke-width="0.9" stroke-dasharray="1 5.4" fill="none"/>
<path d="M392.5 421.5h2.5M665.5 421.5h-2.5" stroke="#262626" stroke-width="1" fill="none"/>
<text x="388.0" y="427.5" font-size="16.7" text-anchor="end" font-weight="normal" font-family='"Liberation Sans", sans-serif' >−5</text>
<path d="M392.5 440V287.5H665.5V440" stroke="#262626" stroke-width="1" fill="none"/>
<path d="M391.7 379.6h1.9v1.9h-1.9zM392.0 382.1h1.9v1.9h-1.9zM392.5 380.9h1.9v1.9h-1.9zM392.7 379.8h1.9v1.9h-1.9zM393.0 381.7h1.9v1.9h-1.9zM393.2 384.0h1.9v1.9h-1.9zM393.5 388.3h1.9v1.9h-1.9zM393.7 386.5h1.9v1.9h-1.9zM394.0 382.0h1.9v1.9h-1.9zM394.2 392.9h1.9v1.9h-1.9zM394.5 377.3h1.9v1.9h-1.9zM394.7 389.8h1.9v1.9h-1.9zM395.0 378.6h1.9v1.9h-1.9zM395.5 375.4h1.9v1.9h-1.9zM396.0 384.5h1.9v1.9h-1.9zM396.2 373.8h1.9v1.9h-1.9zM396.5 382.7h1.9v1.9h-1.9zM396.8 384.7h1.9v1.9h-1.9zM397.0 374.4h1.9v1.9h-1.9zM397.3 378.9h1.9v1.9h-1.9zM397.5 383.8h1.9v1.9h-1.9zM397.8 382.9h1.9v1.9h-1.9zM398.0 375.4h1.9v1.9h-1.9zM398.5 383.6h1.9v1.9h-1.9zM398.8 381.5h1.9v1.9h-1.9zM399.0 385.0h1.9v1.9h-1.9zM399.3 375.8h1.9v1.9h-1.9zM399.5 374.5h1.9v1.9h-1.9zM399.8 386.0h1.9v1.9h-1.9zM400.0 378.1h1.9v1.9h-1.9zM400.3 384.3h1.9v1.9h-1.9zM400.5 386.2h1.9v1.9h-1.9zM400.8 381.2h1.9v1.9h-1.9zM401.1 373.4h1.9v1.9h-1.9zM401.3 383.8h1.9v1.9h-1.9zM401.8 373.2h1.9v1.9h-1.9zM402.1 391.9h1.9v1.9h-1.9zM402.3 382.4h1.9v1.9h-1.9zM402.6 387.6h1.9v1.9h-1.9zM402.8 379.8h1.9v1.9h-1.9zM403.1 377.4h1.9v1.9h-1.9zM403.3 381.0h1.9v1.9h-1.9zM403.6 378.3h1.9v1.9h-1.9zM403.8 380.4h1.9v1.9h-1.9zM404.1 383.6h1.9v1.9h-1.9zM404.6 381.8h1.9v1.9h-1.9zM404.8 377.4h1.9v1.9h-1.9zM405.4 373.9h1.9v1.9h-1.9zM405.6 380.2h1.9v1.9h-1.9zM406.1 384.3h1.9v1.9h-1.9zM406.4 385.5h1.9v1.9h-1.9zM406.6 373.8h1.9v1.9h-1.9zM406.9 379.0h1.9v1.9h-1.9zM407.1 382.1h1.9v1.9h-1.9zM407.4 383.7h1.9v1.9h-1.9zM407.9 384.6h1.9v1.9h-1.9zM408.1 389.8h1.9v1.9h-1.9zM408.6 375.1h1.9v1.9h-1.9zM408.9 380.9h1.9v1.9h-1.9zM409.1 377.1h1.9v1.9h-1.9zM409.4 378.5h1.9v1.9h-1.9zM409.6 373.2h1.9v1.9h-1.9zM409.9 377.5h1.9v1.9h-1.9zM410.2 380.9h1.9v1.9h-1.9zM410.4 374.6h1.9v1.9h-1.9zM410.7 388.0h1.9v1.9h-1.9zM410.9 379.1h1.9v1.9h-1.9zM411.2 384.3h1.9v1.9h-1.9zM411.4 378.6h1.9v1.9h-1.9zM411.7 382.6h1.9v1.9h-1.9zM411.9 386.8h1.9v1.9h-1.9zM412.4 379.0h1.9v1.9h-1.9zM412.9 379.0h1.9v1.9h-1.9zM413.2 390.1h1.9v1.9h-1.9zM413.9 378.5h1.9v1.9h-1.9zM414.4 380.5h1.9v1.9h-1.9zM415.0 381.0h1.9v1.9h-1.9zM415.2 382.9h1.9v1.9h-1.9zM415.5 377.2h1.9v1.9h-1.9zM416.0 378.5h1.9v1.9h-1.9zM416.7 380.0h1.9v1.9h-1.9zM417.0 372.5h1.9v1.9h-1.9zM417.2 384.2h1.9v1.9h-1.9zM417.5 380.9h1.9v1.9h-1.9zM417.7 366.4h1.9v1.9h-1.9zM418.0 379.0h1.9v1.9h-1.9zM418.5 383.4h1.9v1.9h-1.9zM418.7 380.6h1.9v1.9h-1.9zM419.0 381.9h1.9v1.9h-1.9zM419.3 383.3h1.9v1.9h-1.9zM419.5 377.4h1.9v1.9h-1.9zM419.8 377.9h1.9v1.9h-1.9zM420.3 378.1h1.9v1.9h-1.9zM420.8 368.7h1.9v1.9h-1.9zM421.0 379.2h1.9v1.9h-1.9zM430.4 377.5h1.9v1.9h-1.9zM437.2 382.3h1.9v1.9h-1.9zM437.5 381.5h1.9v1.9h-1.9zM437.7 381.5h1.9v1.9h-1.9zM438.0 376.7h1.9v1.9h-1.9zM438.2 375.2h1.9v1.9h-1.9zM438.7 377.2h1.9v1.9h-1.9zM439.0 379.1h1.9v1.9h-1.9zM439.2 387.1h1.9v1.9h-1.9zM439.5 385.0h1.9v1.9h-1.9zM439.7 379.2h1.9v1.9h-1.9zM440.0 386.5h1.9v1.9h-1.9zM440.2 377.1h1.9v1.9h-1.9zM440.5 385.5h1.9v1.9h-1.9zM441.0 376.7h1.9v1.9h-1.9zM441.5 385.7h1.9v1.9h-1.9zM441.8 375.8h1.9v1.9h-1.9zM442.0 380.6h1.9v1.9h-1.9zM442.3 385.4h1.9v1.9h-1.9zM442.5 374.3h1.9v1.9h-1.9zM442.8 385.4h1.9v1.9h-1.9zM443.0 385.9h1.9v1.9h-1.9zM443.3 379.6h1.9v1.9h-1.9zM443.5 390.6h1.9v1.9h-1.9zM443.8 379.2h1.9v1.9h-1.9zM444.0 389.6h1.9v1.9h-1.9zM444.3 381.5h1.9v1.9h-1.9zM444.5 381.9h1.9v1.9h-1.9zM444.8 380.0h1.9v1.9h-1.9zM445.0 379.8h1.9v1.9h-1.9zM445.3 388.9h1.9v1.9h-1.9zM445.5 373.1h1.9v1.9h-1.9zM445.8 376.7h1.9v1.9h-1.9zM446.0 380.7h1.9v1.9h-1.9zM446.3 386.9h1.9v1.9h-1.9zM446.6 382.1h1.9v1.9h-1.9zM446.8 386.1h1.9v1.9h-1.9zM447.1 386.3h1.9v1.9h-1.9zM447.6 377.7h1.9v1.9h-1.9zM448.1 383.7h1.9v1.9h-1.9zM448.3 375.9h1.9v1.9h-1.9zM448.8 381.1h1.9v1.9h-1.9zM449.1 376.7h1.9v1.9h-1.9zM449.6 385.7h1.9v1.9h-1.9zM449.8 381.1h1.9v1.9h-1.9zM450.1 375.1h1.9v1.9h-1.9zM450.6 387.1h1.9v1.9h-1.9zM450.9 375.3h1.9v1.9h-1.9zM451.1 378.9h1.9v1.9h-1.9zM451.4 387.1h1.9v1.9h-1.9zM451.6 380.4h1.9v1.9h-1.9zM451.9 377.5h1.9v1.9h-1.9zM452.1 370.7h1.9v1.9h-1.9zM452.4 383.1h1.9v1.9h-1.9zM452.6 375.4h1.9v1.9h-1.9zM452.9 382.5h1.9v1.9h-1.9zM453.1 377.4h1.9v1.9h-1.9zM453.4 382.9h1.9v1.9h-1.9zM453.6 389.1h1.9v1.9h-1.9zM453.9 376.1h1.9v1.9h-1.9zM454.4 382.8h1.9v1.9h-1.9zM454.6 381.8h1.9v1.9h-1.9zM455.1 382.0h1.9v1.9h-1.9zM455.4 376.3h1.9v1.9h-1.9zM455.7 371.1h1.9v1.9h-1.9zM455.9 387.9h1.9v1.9h-1.9zM456.2 380.7h1.9v1.9h-1.9zM456.4 378.6h1.9v1.9h-1.9zM456.7 372.0h1.9v1.9h-1.9zM457.2 379.1h1.9v1.9h-1.9zM457.4 379.6h1.9v1.9h-1.9zM457.9 382.8h1.9v1.9h-1.9zM458.4 383.9h1.9v1.9h-1.9zM458.7 374.0h1.9v1.9h-1.9zM458.9 378.3h1.9v1.9h-1.9zM459.2 381.7h1.9v1.9h-1.9zM459.4 377.5h1.9v1.9h-1.9zM459.7 383.3h1.9v1.9h-1.9zM460.2 381.8h1.9v1.9h-1.9zM460.5 375.9h1.9v1.9h-1.9zM461.0 373.9h1.9v1.9h-1.9zM461.2 385.7h1.9v1.9h-1.9zM461.5 376.2h1.9v1.9h-1.9zM461.7 376.4h1.9v1.9h-1.9zM462.0 377.9h1.9v1.9h-1.9zM462.2 381.8h1.9v1.9h-1.9zM462.5 382.9h1.9v1.9h-1.9zM462.7 366.8h1.9v1.9h-1.9zM463.2 388.1h1.9v1.9h-1.9zM463.5 385.4h1.9v1.9h-1.9zM463.7 374.4h1.9v1.9h-1.9zM464.2 390.2h1.9v1.9h-1.9zM464.5 379.9h1.9v1.9h-1.9zM464.8 378.6h1.9v1.9h-1.9zM465.0 379.4h1.9v1.9h-1.9zM465.5 379.3h1.9v1.9h-1.9zM465.8 370.2h1.9v1.9h-1.9zM466.0 376.6h1.9v1.9h-1.9zM466.5 381.7h1.9v1.9h-1.9zM466.8 383.4h1.9v1.9h-1.9zM467.0 376.3h1.9v1.9h-1.9zM467.3 377.2h1.9v1.9h-1.9zM467.5 373.3h1.9v1.9h-1.9zM467.8 382.8h1.9v1.9h-1.9zM468.0 381.6h1.9v1.9h-1.9zM468.3 385.1h1.9v1.9h-1.9zM468.5 383.8h1.9v1.9h-1.9zM468.8 375.2h1.9v1.9h-1.9zM469.0 376.9h1.9v1.9h-1.9zM469.3 383.6h1.9v1.9h-1.9zM469.6 377.1h1.9v1.9h-1.9zM469.8 375.4h1.9v1.9h-1.9zM470.1 370.9h1.9v1.9h-1.9zM470.3 377.0h1.9v1.9h-1.9zM470.6 384.7h1.9v1.9h-1.9zM470.8 379.1h1.9v1.9h-1.9zM471.1 382.4h1.9v1.9h-1.9zM471.3 376.9h1.9v1.9h-1.9zM471.6 377.2h1.9v1.9h-1.9zM471.8 385.3h1.9v1.9h-1.9zM472.1 381.0h1.9v1.9h-1.9zM472.3 380.1h1.9v1.9h-1.9zM472.6 378.4h1.9v1.9h-1.9zM473.1 380.2h1.9v1.9h-1.9zM473.6 381.3h1.9v1.9h-1.9zM473.9 387.3h1.9v1.9h-1.9zM474.1 383.9h1.9v1.9h-1.9zM474.4 378.7h1.9v1.9h-1.9zM474.6 377.8h1.9v1.9h-1.9zM474.9 384.7h1.9v1.9h-1.9zM475.4 381.3h1.9v1.9h-1.9zM475.6 380.2h1.9v1.9h-1.9zM475.9 374.5h1.9v1.9h-1.9zM476.1 377.5h1.9v1.9h-1.9zM476.4 379.5h1.9v1.9h-1.9zM476.9 386.1h1.9v1.9h-1.9zM477.1 385.7h1.9v1.9h-1.9zM477.4 378.9h1.9v1.9h-1.9zM477.9 385.7h1.9v1.9h-1.9zM478.4 382.5h1.9v1.9h-1.9zM478.7 379.7h1.9v1.9h-1.9zM478.9 382.0h1.9v1.9h-1.9zM479.2 383.2h1.9v1.9h-1.9zM479.4 379.7h1.9v1.9h-1.9zM479.7 377.7h1.9v1.9h-1.9zM480.4 386.3h1.9v1.9h-1.9zM480.7 380.1h1.9v1.9h-1.9zM481.2 382.9h1.9v1.9h-1.9zM481.4 383.2h1.9v1.9h-1.9zM481.7 380.3h1.9v1.9h-1.9zM481.9 382.8h1.9v1.9h-1.9zM482.2 374.4h1.9v1.9h-1.9zM482.4 370.3h1.9v1.9h-1.9zM482.7 374.9h1.9v1.9h-1.9zM483.5 374.1h1.9v1.9h-1.9zM483.7 378.8h1.9v1.9h-1.9zM484.0 386.8h1.9v1.9h-1.9zM484.2 378.8h1.9v1.9h-1.9zM484.5 390.1h1.9v1.9h-1.9zM485.0 378.6h1.9v1.9h-1.9zM485.5 381.6h1.9v1.9h-1.9zM485.7 379.0h1.9v1.9h-1.9zM486.0 383.7h1.9v1.9h-1.9zM486.2 380.3h1.9v1.9h-1.9zM486.7 375.3h1.9v1.9h-1.9zM487.0 387.2h1.9v1.9h-1.9zM487.2 375.6h1.9v1.9h-1.9zM487.5 372.6h1.9v1.9h-1.9zM487.8 384.0h1.9v1.9h-1.9zM488.0 386.0h1.9v1.9h-1.9zM488.3 388.2h1.9v1.9h-1.9zM488.5 376.5h1.9v1.9h-1.9zM488.8 388.0h1.9v1.9h-1.9zM489.0 378.5h1.9v1.9h-1.9zM489.3 380.6h1.9v1.9h-1.9zM489.5 384.9h1.9v1.9h-1.9zM489.8 384.0h1.9v1.9h-1.9zM490.0 386.3h1.9v1.9h-1.9zM490.3 373.6h1.9v1.9h-1.9zM490.5 377.6h1.9v1.9h-1.9zM490.8 378.8h1.9v1.9h-1.9zM491.0 385.4h1.9v1.9h-1.9zM491.3 388.1h1.9v1.9h-1.9zM491.5 372.3h1.9v1.9h-1.9zM491.8 378.5h1.9v1.9h-1.9zM492.1 376.5h1.9v1.9h-1.9zM492.3 382.0h1.9v1.9h-1.9zM492.8 377.1h1.9v1.9h-1.9zM493.1 383.7h1.9v1.9h-1.9zM493.6 377.7h1.9v1.9h-1.9zM493.8 381.0h1.9v1.9h-1.9zM494.1 380.9h1.9v1.9h-1.9zM494.3 380.8h1.9v1.9h-1.9zM494.8 379.5h1.9v1.9h-1.9zM495.1 384.2h1.9v1.9h-1.9zM495.3 389.7h1.9v1.9h-1.9zM495.6 383.9h1.9v1.9h-1.9zM495.8 371.8h1.9v1.9h-1.9zM496.1 385.1h1.9v1.9h-1.9zM496.4 384.5h1.9v1.9h-1.9zM496.9 384.4h1.9v1.9h-1.9zM497.1 383.9h1.9v1.9h-1.9zM497.4 384.2h1.9v1.9h-1.9zM497.6 376.2h1.9v1.9h-1.9zM497.9 383.9h1.9v1.9h-1.9zM498.4 377.2h1.9v1.9h-1.9zM498.6 387.0h1.9v1.9h-1.9zM498.9 380.7h1.9v1.9h-1.9zM499.1 390.8h1.9v1.9h-1.9zM499.4 376.7h1.9v1.9h-1.9zM499.6 379.9h1.9v1.9h-1.9zM500.4 386.1h1.9v1.9h-1.9zM500.6 384.0h1.9v1.9h-1.9zM500.9 380.9h1.9v1.9h-1.9zM501.2 387.6h1.9v1.9h-1.9zM501.4 382.3h1.9v1.9h-1.9zM501.7 375.1h1.9v1.9h-1.9zM502.2 378.4h1.9v1.9h-1.9zM502.4 387.5h1.9v1.9h-1.9zM502.9 382.2h1.9v1.9h-1.9zM503.2 384.4h1.9v1.9h-1.9zM503.4 377.0h1.9v1.9h-1.9zM503.7 388.3h1.9v1.9h-1.9zM503.9 390.4h1.9v1.9h-1.9zM504.2 381.8h1.9v1.9h-1.9zM504.4 378.9h1.9v1.9h-1.9zM504.7 377.2h1.9v1.9h-1.9zM504.9 390.0h1.9v1.9h-1.9zM505.4 372.5h1.9v1.9h-1.9zM505.7 377.9h1.9v1.9h-1.9zM506.0 381.9h1.9v1.9h-1.9zM506.2 378.0h1.9v1.9h-1.9zM506.5 378.5h1.9v1.9h-1.9zM506.7 377.2h1.9v1.9h-1.9zM507.0 381.7h1.9v1.9h-1.9zM507.5 377.3h1.9v1.9h-1.9zM507.7 386.6h1.9v1.9h-1.9zM508.0 376.2h1.9v1.9h-1.9zM508.2 374.3h1.9v1.9h-1.9zM508.5 384.6h1.9v1.9h-1.9zM508.7 387.7h1.9v1.9h-1.9zM509.0 375.8h1.9v1.9h-1.9zM509.2 383.7h1.9v1.9h-1.9zM509.5 381.3h1.9v1.9h-1.9zM509.7 372.7h1.9v1.9h-1.9zM510.0 384.8h1.9v1.9h-1.9zM510.5 382.6h1.9v1.9h-1.9zM510.8 375.4h1.9v1.9h-1.9zM511.0 378.3h1.9v1.9h-1.9zM511.3 388.1h1.9v1.9h-1.9zM511.5 376.3h1.9v1.9h-1.9zM511.8 388.4h1.9v1.9h-1.9zM512.0 390.6h1.9v1.9h-1.9zM512.3 380.1h1.9v1.9h-1.9zM512.8 385.5h1.9v1.9h-1.9zM513.0 387.5h1.9v1.9h-1.9zM513.3 375.5h1.9v1.9h-1.9zM513.5 376.8h1.9v1.9h-1.9zM513.8 385.0h1.9v1.9h-1.9zM514.0 378.7h1.9v1.9h-1.9zM514.3 382.3h1.9v1.9h-1.9zM514.5 385.6h1.9v1.9h-1.9zM515.1 377.9h1.9v1.9h-1.9zM515.3 385.9h1.9v1.9h-1.9zM515.6 377.3h1.9v1.9h-1.9zM515.8 378.6h1.9v1.9h-1.9zM516.1 389.6h1.9v1.9h-1.9zM516.3 380.7h1.9v1.9h-1.9zM517.1 386.4h1.9v1.9h-1.9zM517.3 386.6h1.9v1.9h-1.9zM517.6 388.6h1.9v1.9h-1.9zM517.8 382.7h1.9v1.9h-1.9zM518.1 387.0h1.9v1.9h-1.9zM518.3 387.8h1.9v1.9h-1.9zM518.6 386.1h1.9v1.9h-1.9zM518.8 380.5h1.9v1.9h-1.9zM519.1 378.7h1.9v1.9h-1.9zM519.6 385.5h1.9v1.9h-1.9zM519.9 375.1h1.9v1.9h-1.9zM520.1 381.0h1.9v1.9h-1.9zM520.4 380.5h1.9v1.9h-1.9zM520.6 381.1h1.9v1.9h-1.9zM520.9 379.2h1.9v1.9h-1.9zM521.1 380.3h1.9v1.9h-1.9zM521.4 382.1h1.9v1.9h-1.9zM521.6 379.7h1.9v1.9h-1.9zM521.9 374.2h1.9v1.9h-1.9zM522.1 383.8h1.9v1.9h-1.9zM522.4 382.2h1.9v1.9h-1.9zM522.6 376.2h1.9v1.9h-1.9zM522.9 388.1h1.9v1.9h-1.9zM523.1 380.6h1.9v1.9h-1.9zM523.4 381.9h1.9v1.9h-1.9zM523.6 374.7h1.9v1.9h-1.9zM523.9 378.2h1.9v1.9h-1.9zM524.2 385.4h1.9v1.9h-1.9zM524.4 377.5h1.9v1.9h-1.9zM524.7 370.3h1.9v1.9h-1.9zM524.9 392.3h1.9v1.9h-1.9zM525.4 379.0h1.9v1.9h-1.9zM525.7 381.0h1.9v1.9h-1.9zM525.9 387.7h1.9v1.9h-1.9zM526.2 378.8h1.9v1.9h-1.9zM526.4 382.5h1.9v1.9h-1.9zM526.7 378.2h1.9v1.9h-1.9zM526.9 378.2h1.9v1.9h-1.9zM527.2 373.6h1.9v1.9h-1.9zM527.4 378.4h1.9v1.9h-1.9zM527.7 373.8h1.9v1.9h-1.9zM527.9 387.6h1.9v1.9h-1.9zM528.5 383.5h1.9v1.9h-1.9zM529.2 381.1h1.9v1.9h-1.9zM529.5 382.5h1.9v1.9h-1.9zM529.7 375.9h1.9v1.9h-1.9zM530.0 386.5h1.9v1.9h-1.9zM530.2 382.5h1.9v1.9h-1.9zM530.5 378.6h1.9v1.9h-1.9zM531.0 378.0h1.9v1.9h-1.9zM531.2 380.0h1.9v1.9h-1.9zM531.7 382.9h1.9v1.9h-1.9zM532.0 380.2h1.9v1.9h-1.9zM532.2 379.9h1.9v1.9h-1.9zM533.0 386.1h1.9v1.9h-1.9zM533.3 379.7h1.9v1.9h-1.9zM533.5 383.0h1.9v1.9h-1.9zM533.8 384.0h1.9v1.9h-1.9zM534.0 381.0h1.9v1.9h-1.9zM534.3 374.6h1.9v1.9h-1.9zM535.0 384.8h1.9v1.9h-1.9zM535.3 387.3h1.9v1.9h-1.9zM535.5 375.1h1.9v1.9h-1.9zM535.8 377.5h1.9v1.9h-1.9zM536.0 380.5h1.9v1.9h-1.9zM536.3 371.9h1.9v1.9h-1.9zM536.5 380.3h1.9v1.9h-1.9zM536.8 371.3h1.9v1.9h-1.9zM537.0 378.1h1.9v1.9h-1.9zM537.3 383.7h1.9v1.9h-1.9zM537.8 374.9h1.9v1.9h-1.9zM538.1 379.8h1.9v1.9h-1.9zM538.6 377.4h1.9v1.9h-1.9zM538.8 382.9h1.9v1.9h-1.9zM539.1 382.1h1.9v1.9h-1.9zM539.3 386.6h1.9v1.9h-1.9zM539.6 384.2h1.9v1.9h-1.9zM539.8 373.9h1.9v1.9h-1.9zM540.1 377.7h1.9v1.9h-1.9zM540.3 386.5h1.9v1.9h-1.9zM540.6 376.7h1.9v1.9h-1.9zM540.8 385.1h1.9v1.9h-1.9zM541.1 386.7h1.9v1.9h-1.9zM541.3 375.4h1.9v1.9h-1.9zM541.6 384.3h1.9v1.9h-1.9zM541.9 377.4h1.9v1.9h-1.9zM542.1 381.1h1.9v1.9h-1.9zM542.4 377.8h1.9v1.9h-1.9zM542.6 386.8h1.9v1.9h-1.9zM542.9 370.1h1.9v1.9h-1.9zM543.1 373.6h1.9v1.9h-1.9zM543.4 377.5h1.9v1.9h-1.9zM543.9 379.8h1.9v1.9h-1.9zM544.1 374.7h1.9v1.9h-1.9zM544.6 383.7h1.9v1.9h-1.9zM544.9 372.9h1.9v1.9h-1.9zM545.1 379.9h1.9v1.9h-1.9zM545.6 377.5h1.9v1.9h-1.9zM545.9 372.9h1.9v1.9h-1.9zM546.1 374.3h1.9v1.9h-1.9zM546.9 375.7h1.9v1.9h-1.9zM547.4 378.4h1.9v1.9h-1.9zM547.7 385.8h1.9v1.9h-1.9zM547.9 380.2h1.9v1.9h-1.9zM548.2 382.6h1.9v1.9h-1.9zM548.4 382.0h1.9v1.9h-1.9zM548.7 376.2h1.9v1.9h-1.9zM548.9 372.0h1.9v1.9h-1.9zM549.2 379.5h1.9v1.9h-1.9zM549.4 375.9h1.9v1.9h-1.9zM549.7 376.0h1.9v1.9h-1.9zM549.9 370.9h1.9v1.9h-1.9zM550.2 372.5h1.9v1.9h-1.9zM550.4 374.5h1.9v1.9h-1.9zM550.7 376.5h1.9v1.9h-1.9zM551.0 377.2h1.9v1.9h-1.9zM551.2 378.1h1.9v1.9h-1.9zM551.5 376.9h1.9v1.9h-1.9zM552.0 375.6h1.9v1.9h-1.9zM552.2 378.7h1.9v1.9h-1.9zM552.5 379.8h1.9v1.9h-1.9zM552.7 386.0h1.9v1.9h-1.9zM553.0 381.5h1.9v1.9h-1.9zM553.2 387.1h1.9v1.9h-1.9zM553.5 389.3h1.9v1.9h-1.9zM553.7 373.1h1.9v1.9h-1.9zM554.0 385.5h1.9v1.9h-1.9zM554.2 384.7h1.9v1.9h-1.9zM554.5 389.2h1.9v1.9h-1.9zM555.0 376.0h1.9v1.9h-1.9zM555.2 382.6h1.9v1.9h-1.9zM555.5 382.2h1.9v1.9h-1.9zM555.8 376.6h1.9v1.9h-1.9zM556.0 393.3h1.9v1.9h-1.9zM556.3 376.1h1.9v1.9h-1.9zM556.8 372.9h1.9v1.9h-1.9zM557.0 393.8h1.9v1.9h-1.9zM557.3 380.8h1.9v1.9h-1.9zM557.5 375.9h1.9v1.9h-1.9zM557.8 372.8h1.9v1.9h-1.9zM558.0 387.8h1.9v1.9h-1.9zM558.3 379.3h1.9v1.9h-1.9zM558.5 390.6h1.9v1.9h-1.9zM558.8 373.8h1.9v1.9h-1.9zM559.0 375.4h1.9v1.9h-1.9zM559.3 384.7h1.9v1.9h-1.9zM559.8 376.5h1.9v1.9h-1.9zM560.0 384.3h1.9v1.9h-1.9zM560.6 385.6h1.9v1.9h-1.9zM561.1 378.8h1.9v1.9h-1.9zM561.3 381.2h1.9v1.9h-1.9zM561.6 380.2h1.9v1.9h-1.9zM561.8 381.2h1.9v1.9h-1.9zM562.1 377.9h1.9v1.9h-1.9zM562.3 381.0h1.9v1.9h-1.9zM562.6 383.7h1.9v1.9h-1.9zM562.8 388.1h1.9v1.9h-1.9zM563.1 380.9h1.9v1.9h-1.9zM563.3 379.7h1.9v1.9h-1.9zM563.6 381.5h1.9v1.9h-1.9zM563.8 368.6h1.9v1.9h-1.9zM564.1 384.4h1.9v1.9h-1.9zM564.3 386.1h1.9v1.9h-1.9zM564.6 379.2h1.9v1.9h-1.9zM564.9 380.1h1.9v1.9h-1.9zM565.1 379.4h1.9v1.9h-1.9zM565.4 379.0h1.9v1.9h-1.9zM565.9 382.0h1.9v1.9h-1.9zM566.1 372.8h1.9v1.9h-1.9zM566.4 382.4h1.9v1.9h-1.9zM566.6 376.2h1.9v1.9h-1.9zM566.9 381.1h1.9v1.9h-1.9zM567.4 382.9h1.9v1.9h-1.9zM567.6 372.1h1.9v1.9h-1.9zM567.9 379.1h1.9v1.9h-1.9zM568.4 382.6h1.9v1.9h-1.9zM568.6 384.2h1.9v1.9h-1.9zM568.9 378.5h1.9v1.9h-1.9zM569.1 382.4h1.9v1.9h-1.9zM569.4 382.4h1.9v1.9h-1.9zM569.7 383.3h1.9v1.9h-1.9zM569.9 376.2h1.9v1.9h-1.9zM570.2 381.3h1.9v1.9h-1.9zM570.4 380.5h1.9v1.9h-1.9zM570.7 379.1h1.9v1.9h-1.9zM571.2 376.4h1.9v1.9h-1.9zM571.4 381.8h1.9v1.9h-1.9zM571.7 380.0h1.9v1.9h-1.9zM571.9 384.3h1.9v1.9h-1.9zM572.2 378.1h1.9v1.9h-1.9zM572.4 378.5h1.9v1.9h-1.9zM572.7 386.7h1.9v1.9h-1.9zM572.9 375.3h1.9v1.9h-1.9zM573.2 379.9h1.9v1.9h-1.9zM573.4 376.2h1.9v1.9h-1.9zM573.7 390.2h1.9v1.9h-1.9zM574.0 379.1h1.9v1.9h-1.9zM574.2 379.0h1.9v1.9h-1.9zM574.5 383.8h1.9v1.9h-1.9zM574.7 376.9h1.9v1.9h-1.9zM575.0 377.3h1.9v1.9h-1.9zM575.2 376.8h1.9v1.9h-1.9zM575.5 377.2h1.9v1.9h-1.9zM575.7 383.0h1.9v1.9h-1.9zM576.0 379.9h1.9v1.9h-1.9zM576.2 391.7h1.9v1.9h-1.9zM576.5 378.7h1.9v1.9h-1.9zM576.7 379.5h1.9v1.9h-1.9zM577.0 373.1h1.9v1.9h-1.9zM578.0 375.4h1.9v1.9h-1.9zM578.2 382.8h1.9v1.9h-1.9zM578.5 378.7h1.9v1.9h-1.9zM578.8 383.3h1.9v1.9h-1.9zM579.0 376.1h1.9v1.9h-1.9zM579.3 383.2h1.9v1.9h-1.9zM579.5 384.8h1.9v1.9h-1.9zM579.8 379.6h1.9v1.9h-1.9zM580.0 382.3h1.9v1.9h-1.9zM580.5 379.0h1.9v1.9h-1.9zM580.8 373.9h1.9v1.9h-1.9zM581.0 380.3h1.9v1.9h-1.9zM581.3 388.4h1.9v1.9h-1.9zM581.5 379.4h1.9v1.9h-1.9zM581.8 387.2h1.9v1.9h-1.9zM582.0 380.8h1.9v1.9h-1.9zM582.3 377.0h1.9v1.9h-1.9zM582.5 391.6h1.9v1.9h-1.9zM583.1 378.4h1.9v1.9h-1.9zM583.3 382.5h1.9v1.9h-1.9zM583.6 379.2h1.9v1.9h-1.9zM583.8 381.9h1.9v1.9h-1.9zM584.1 383.2h1.9v1.9h-1.9zM584.3 379.8h1.9v1.9h-1.9zM584.6 390.5h1.9v1.9h-1.9zM584.8 386.4h1.9v1.9h-1.9zM585.1 369.3h1.9v1.9h-1.9zM585.3 379.9h1.9v1.9h-1.9zM585.6 392.3h1.9v1.9h-1.9zM585.8 381.6h1.9v1.9h-1.9zM586.3 378.9h1.9v1.9h-1.9zM586.6 372.0h1.9v1.9h-1.9zM587.1 379.0h1.9v1.9h-1.9zM587.4 368.9h1.9v1.9h-1.9zM587.6 384.7h1.9v1.9h-1.9zM587.9 374.9h1.9v1.9h-1.9zM588.1 376.2h1.9v1.9h-1.9zM588.4 373.3h1.9v1.9h-1.9zM588.6 381.1h1.9v1.9h-1.9zM588.9 375.6h1.9v1.9h-1.9zM589.1 378.5h1.9v1.9h-1.9zM589.4 378.1h1.9v1.9h-1.9zM589.9 377.1h1.9v1.9h-1.9zM590.1 376.4h1.9v1.9h-1.9zM590.6 380.5h1.9v1.9h-1.9zM590.9 378.0h1.9v1.9h-1.9zM591.1 389.1h1.9v1.9h-1.9zM591.4 375.4h1.9v1.9h-1.9zM592.2 376.3h1.9v1.9h-1.9zM592.4 382.5h1.9v1.9h-1.9zM592.9 376.9h1.9v1.9h-1.9zM593.2 380.4h1.9v1.9h-1.9zM593.9 389.8h1.9v1.9h-1.9zM594.2 382.5h1.9v1.9h-1.9zM594.4 383.2h1.9v1.9h-1.9zM594.7 381.0h1.9v1.9h-1.9zM594.9 388.1h1.9v1.9h-1.9zM595.7 385.2h1.9v1.9h-1.9zM595.9 375.9h1.9v1.9h-1.9zM596.2 384.5h1.9v1.9h-1.9zM596.5 380.9h1.9v1.9h-1.9zM596.7 377.3h1.9v1.9h-1.9zM597.0 381.6h1.9v1.9h-1.9zM597.2 382.5h1.9v1.9h-1.9zM597.5 387.8h1.9v1.9h-1.9zM597.7 379.6h1.9v1.9h-1.9zM598.0 387.8h1.9v1.9h-1.9zM598.2 379.7h1.9v1.9h-1.9zM598.5 375.7h1.9v1.9h-1.9zM598.7 370.0h1.9v1.9h-1.9zM599.0 391.6h1.9v1.9h-1.9zM599.2 375.8h1.9v1.9h-1.9zM599.5 371.0h1.9v1.9h-1.9zM599.7 383.2h1.9v1.9h-1.9zM600.0 385.2h1.9v1.9h-1.9zM600.2 375.4h1.9v1.9h-1.9zM600.5 380.2h1.9v1.9h-1.9zM600.7 377.6h1.9v1.9h-1.9zM601.0 377.6h1.9v1.9h-1.9zM601.3 377.2h1.9v1.9h-1.9zM601.5 390.6h1.9v1.9h-1.9zM601.8 386.4h1.9v1.9h-1.9zM602.0 382.2h1.9v1.9h-1.9zM602.3 385.7h1.9v1.9h-1.9zM602.5 373.8h1.9v1.9h-1.9zM602.8 380.0h1.9v1.9h-1.9zM603.0 373.0h1.9v1.9h-1.9zM603.3 382.7h1.9v1.9h-1.9zM603.5 385.7h1.9v1.9h-1.9zM604.0 386.3h1.9v1.9h-1.9zM604.3 381.9h1.9v1.9h-1.9zM604.5 377.4h1.9v1.9h-1.9zM604.8 375.2h1.9v1.9h-1.9zM605.0 388.6h1.9v1.9h-1.9zM605.3 375.0h1.9v1.9h-1.9zM605.5 380.3h1.9v1.9h-1.9zM605.8 380.4h1.9v1.9h-1.9zM606.1 380.6h1.9v1.9h-1.9zM606.3 377.4h1.9v1.9h-1.9zM606.6 380.7h1.9v1.9h-1.9zM606.8 379.9h1.9v1.9h-1.9zM607.1 380.9h1.9v1.9h-1.9zM607.8 383.7h1.9v1.9h-1.9zM608.1 375.9h1.9v1.9h-1.9zM608.3 384.4h1.9v1.9h-1.9zM608.6 380.3h1.9v1.9h-1.9zM608.8 379.7h1.9v1.9h-1.9zM609.1 379.0h1.9v1.9h-1.9zM609.3 381.5h1.9v1.9h-1.9zM609.6 372.5h1.9v1.9h-1.9zM609.8 383.9h1.9v1.9h-1.9zM610.4 380.6h1.9v1.9h-1.9zM610.6 376.7h1.9v1.9h-1.9zM610.9 374.8h1.9v1.9h-1.9zM611.1 379.7h1.9v1.9h-1.9zM611.4 372.4h1.9v1.9h-1.9zM611.6 383.4h1.9v1.9h-1.9zM611.9 382.4h1.9v1.9h-1.9zM612.1 379.9h1.9v1.9h-1.9zM612.4 384.1h1.9v1.9h-1.9zM612.6 383.2h1.9v1.9h-1.9zM612.9 381.8h1.9v1.9h-1.9zM613.1 375.6h1.9v1.9h-1.9zM613.4 376.6h1.9v1.9h-1.9zM613.6 386.0h1.9v1.9h-1.9zM613.9 378.1h1.9v1.9h-1.9zM614.1 381.3h1.9v1.9h-1.9zM614.4 384.1h1.9v1.9h-1.9zM614.6 383.2h1.9v1.9h-1.9zM615.2 386.9h1.9v1.9h-1.9zM615.4 382.7h1.9v1.9h-1.9zM615.7 383.9h1.9v1.9h-1.9zM615.9 379.6h1.9v1.9h-1.9zM616.2 389.6h1.9v1.9h-1.9zM616.7 382.3h1.9v1.9h-1.9zM616.9 377.0h1.9v1.9h-1.9zM617.2 382.4h1.9v1.9h-1.9zM617.4 382.1h1.9v1.9h-1.9zM617.7 374.4h1.9v1.9h-1.9zM618.2 371.9h1.9v1.9h-1.9zM618.4 376.7h1.9v1.9h-1.9zM618.7 377.0h1.9v1.9h-1.9zM618.9 382.0h1.9v1.9h-1.9zM619.2 386.5h1.9v1.9h-1.9zM619.5 376.6h1.9v1.9h-1.9zM619.7 378.8h1.9v1.9h-1.9zM620.0 382.4h1.9v1.9h-1.9zM620.2 383.7h1.9v1.9h-1.9zM620.5 382.7h1.9v1.9h-1.9zM620.7 388.7h1.9v1.9h-1.9zM621.0 370.9h1.9v1.9h-1.9zM621.2 385.7h1.9v1.9h-1.9zM621.5 387.3h1.9v1.9h-1.9zM621.7 379.0h1.9v1.9h-1.9zM622.0 370.5h1.9v1.9h-1.9zM622.2 382.0h1.9v1.9h-1.9zM622.5 383.7h1.9v1.9h-1.9zM622.7 383.5h1.9v1.9h-1.9zM623.0 380.1h1.9v1.9h-1.9zM623.2 385.8h1.9v1.9h-1.9zM623.5 370.7h1.9v1.9h-1.9zM623.8 374.0h1.9v1.9h-1.9zM624.0 380.5h1.9v1.9h-1.9zM624.3 383.3h1.9v1.9h-1.9zM624.5 377.8h1.9v1.9h-1.9zM624.8 375.8h1.9v1.9h-1.9zM625.0 377.1h1.9v1.9h-1.9zM625.3 373.7h1.9v1.9h-1.9zM625.5 378.3h1.9v1.9h-1.9zM626.0 378.3h1.9v1.9h-1.9zM626.3 381.4h1.9v1.9h-1.9zM626.8 390.8h1.9v1.9h-1.9zM627.3 382.1h1.9v1.9h-1.9zM627.5 375.7h1.9v1.9h-1.9zM627.8 378.7h1.9v1.9h-1.9zM628.3 378.5h1.9v1.9h-1.9zM628.6 382.7h1.9v1.9h-1.9zM628.8 377.8h1.9v1.9h-1.9zM629.1 378.1h1.9v1.9h-1.9zM629.6 381.0h1.9v1.9h-1.9zM629.8 380.9h1.9v1.9h-1.9zM630.1 385.1h1.9v1.9h-1.9zM630.3 376.7h1.9v1.9h-1.9zM630.6 389.3h1.9v1.9h-1.9zM630.8 380.3h1.9v1.9h-1.9zM631.6 387.2h1.9v1.9h-1.9zM631.8 379.2h1.9v1.9h-1.9zM632.1 384.2h1.9v1.9h-1.9zM632.3 383.6h1.9v1.9h-1.9zM632.6 377.1h1.9v1.9h-1.9zM632.8 376.7h1.9v1.9h-1.9zM633.1 383.4h1.9v1.9h-1.9zM633.6 380.4h1.9v1.9h-1.9zM633.9 370.2h1.9v1.9h-1.9zM634.4 380.5h1.9v1.9h-1.9zM634.6 389.5h1.9v1.9h-1.9zM634.9 387.4h1.9v1.9h-1.9zM635.1 374.6h1.9v1.9h-1.9zM635.4 385.3h1.9v1.9h-1.9zM635.6 373.3h1.9v1.9h-1.9zM635.9 375.2h1.9v1.9h-1.9zM636.1 388.7h1.9v1.9h-1.9zM636.6 383.9h1.9v1.9h-1.9zM636.9 387.0h1.9v1.9h-1.9zM637.4 384.9h1.9v1.9h-1.9zM637.7 379.6h1.9v1.9h-1.9zM637.9 378.6h1.9v1.9h-1.9zM638.2 383.2h1.9v1.9h-1.9zM638.4 377.4h1.9v1.9h-1.9zM638.7 378.3h1.9v1.9h-1.9zM638.9 380.5h1.9v1.9h-1.9zM639.2 379.0h1.9v1.9h-1.9zM639.4 379.1h1.9v1.9h-1.9zM639.7 375.8h1.9v1.9h-1.9zM639.9 376.9h1.9v1.9h-1.9zM640.2 382.0h1.9v1.9h-1.9zM640.7 374.6h1.9v1.9h-1.9zM640.9 385.3h1.9v1.9h-1.9zM641.4 375.9h1.9v1.9h-1.9zM641.7 376.9h1.9v1.9h-1.9zM642.0 385.7h1.9v1.9h-1.9zM642.5 380.3h1.9v1.9h-1.9zM642.7 383.7h1.9v1.9h-1.9zM643.2 377.4h1.9v1.9h-1.9zM643.5 379.7h1.9v1.9h-1.9zM643.7 381.5h1.9v1.9h-1.9zM644.0 381.8h1.9v1.9h-1.9zM644.2 385.7h1.9v1.9h-1.9zM644.5 377.2h1.9v1.9h-1.9zM644.7 388.3h1.9v1.9h-1.9zM645.0 381.1h1.9v1.9h-1.9zM645.2 389.3h1.9v1.9h-1.9zM646.0 386.2h1.9v1.9h-1.9zM646.5 375.7h1.9v1.9h-1.9zM646.8 384.5h1.9v1.9h-1.9zM647.0 374.1h1.9v1.9h-1.9zM647.3 387.8h1.9v1.9h-1.9zM647.5 380.8h1.9v1.9h-1.9zM648.3 380.0h1.9v1.9h-1.9zM648.8 383.7h1.9v1.9h-1.9zM649.0 377.8h1.9v1.9h-1.9zM649.5 384.1h1.9v1.9h-1.9zM649.8 390.9h1.9v1.9h-1.9zM650.5 381.0h1.9v1.9h-1.9zM651.0 376.7h1.9v1.9h-1.9zM651.3 375.6h1.9v1.9h-1.9zM651.6 383.7h1.9v1.9h-1.9zM651.8 383.0h1.9v1.9h-1.9zM652.1 386.1h1.9v1.9h-1.9zM652.3 381.2h1.9v1.9h-1.9zM652.6 384.8h1.9v1.9h-1.9zM652.8 374.5h1.9v1.9h-1.9zM653.1 381.0h1.9v1.9h-1.9zM653.3 375.1h1.9v1.9h-1.9zM653.6 378.2h1.9v1.9h-1.9zM653.8 382.6h1.9v1.9h-1.9zM654.1 380.8h1.9v1.9h-1.9zM654.3 388.3h1.9v1.9h-1.9zM654.6 375.1h1.9v1.9h-1.9zM654.8 390.0h1.9v1.9h-1.9zM655.3 379.3h1.9v1.9h-1.9zM655.6 379.9h1.9v1.9h-1.9zM655.9 377.5h1.9v1.9h-1.9zM656.1 376.7h1.9v1.9h-1.9zM656.6 380.4h1.9v1.9h-1.9zM656.9 384.3h1.9v1.9h-1.9zM657.1 386.3h1.9v1.9h-1.9zM657.4 377.3h1.9v1.9h-1.9zM657.6 380.4h1.9v1.9h-1.9zM657.9 378.9h1.9v1.9h-1.9zM658.1 383.8h1.9v1.9h-1.9zM658.4 380.9h1.9v1.9h-1.9zM658.6 375.4h1.9v1.9h-1.9zM659.1 381.7h1.9v1.9h-1.9zM659.4 383.0h1.9v1.9h-1.9zM659.6 382.2h1.9v1.9h-1.9zM659.9 384.5h1.9v1.9h-1.9zM660.1 392.6h1.9v1.9h-1.9zM660.4 384.7h1.9v1.9h-1.9zM660.7 378.8h1.9v1.9h-1.9zM660.9 375.4h1.9v1.9h-1.9zM661.2 373.1h1.9v1.9h-1.9zM661.4 376.3h1.9v1.9h-1.9zM661.7 387.0h1.9v1.9h-1.9zM661.9 376.6h1.9v1.9h-1.9zM662.2 383.1h1.9v1.9h-1.9zM662.4 387.4h1.9v1.9h-1.9zM662.7 383.1h1.9v1.9h-1.9zM663.2 387.0h1.9v1.9h-1.9zM663.4 373.9h1.9v1.9h-1.9zM663.7 382.7h1.9v1.9h-1.9zM664.2 384.7h1.9v1.9h-1.9zM664.4 379.8h1.9v1.9h-1.9z" fill="#7c7c7c"/>
<line x1="392.5" y1="381.9" x2="665.5" y2="381.9" stroke="#00ff00" stroke-width="2.6"/>
<line x1="528.8" y1="383" x2="528.8" y2="436" stroke="#000" stroke-width="1.5"/>
<text x="350.5" y="382.0" font-size="1" text-anchor="middle" font-weight="normal" font-family='"Liberation Sans", sans-serif' ></text>
<text transform="translate(350,382) rotate(-90)" font-size="16.5" text-anchor="middle" font-family='"Liberation Sans", sans-serif'>Up error [m]</text>
<rect x="392.9" y="434.7" width="272.70000000000005" height="41.30000000000001" fill="#fff"/>
<line x1="460.5" y1="434.7" x2="460.5" y2="476" stroke="#3c3c3c" stroke-width="0.9" stroke-dasharray="1 5.4" fill="none"/>
<line x1="529.5" y1="434.7" x2="529.5" y2="476" stroke="#3c3c3c" stroke-width="0.9" stroke-dasharray="1 5.4" fill="none"/>
<line x1="597.5" y1="434.7" x2="597.5" y2="476" stroke="#3c3c3c" stroke-width="0.9" stroke-dasharray="1 5.4" fill="none"/>
<line x1="392.9" y1="436.9" x2="665.6" y2="436.9" stroke="#3c3c3c" stroke-width="0.9" stroke-dasharray="1 5.4" fill="none"/>
<text x="388.5" y="443.5" font-size="16.7" text-anchor="end" font-weight="bold" font-family='"Liberation Sans", sans-serif' >0.2</text>
<line x1="392.9" y1="455.7" x2="665.6" y2="455.7" stroke="#3c3c3c" stroke-width="0.9" stroke-dasharray="1 5.4" fill="none"/>
<text x="388.5" y="461.9" font-size="16.7" text-anchor="end" font-weight="bold" font-family='"Liberation Sans", sans-serif' >0</text>
<line x1="392.9" y1="474.5" x2="665.6" y2="474.5" stroke="#3c3c3c" stroke-width="0.9" stroke-dasharray="1 5.4" fill="none"/>
<text x="388.5" y="481.2" font-size="16.7" text-anchor="end" font-weight="bold" font-family='"Liberation Sans", sans-serif' >−0.2</text>
<path d="M454.9 451.7h2.0v2.0h-2.0zM448.4 440.2h2.0v2.0h-2.0zM579.9 473.8h2.0v2.0h-2.0zM485.1 446.8h2.0v2.0h-2.0zM575.4 445.2h2.0v2.0h-2.0zM502.8 462.5h2.0v2.0h-2.0zM510.9 442.8h2.0v2.0h-2.0zM414.0 457.1h2.0v2.0h-2.0zM661.5 471.0h2.0v2.0h-2.0zM421.9 455.6h2.0v2.0h-2.0zM526.4 444.2h2.0v2.0h-2.0zM575.2 455.3h2.0v2.0h-2.0zM612.6 447.8h2.0v2.0h-2.0zM646.2 467.1h2.0v2.0h-2.0zM522.4 442.2h2.0v2.0h-2.0zM525.1 441.7h2.0v2.0h-2.0zM579.5 462.8h2.0v2.0h-2.0zM550.5 473.1h2.0v2.0h-2.0zM407.2 463.5h2.0v2.0h-2.0zM610.4 441.2h2.0v2.0h-2.0zM481.6 439.0h2.0v2.0h-2.0zM551.8 463.8h2.0v2.0h-2.0zM488.6 462.7h2.0v2.0h-2.0zM493.6 463.4h2.0v2.0h-2.0zM469.5 473.2h2.0v2.0h-2.0zM512.8 437.1h2.0v2.0h-2.0zM419.6 463.9h2.0v2.0h-2.0zM627.6 460.6h2.0v2.0h-2.0zM436.8 469.3h2.0v2.0h-2.0zM587.8 441.3h2.0v2.0h-2.0zM497.4 461.8h2.0v2.0h-2.0zM396.0 438.6h2.0v2.0h-2.0zM490.1 469.4h2.0v2.0h-2.0zM663.0 448.8h2.0v2.0h-2.0zM639.5 466.1h2.0v2.0h-2.0zM627.7 458.8h2.0v2.0h-2.0zM655.8 460.8h2.0v2.0h-2.0zM650.0 457.9h2.0v2.0h-2.0zM447.9 456.2h2.0v2.0h-2.0zM524.9 449.5h2.0v2.0h-2.0zM495.5 455.9h2.0v2.0h-2.0zM553.2 445.2h2.0v2.0h-2.0zM469.6 455.6h2.0v2.0h-2.0zM530.5 452.5h2.0v2.0h-2.0zM573.7 443.9h2.0v2.0h-2.0zM538.1 447.2h2.0v2.0h-2.0zM602.1 463.0h2.0v2.0h-2.0zM605.1 456.1h2.0v2.0h-2.0zM462.0 471.2h2.0v2.0h-2.0zM532.4 450.9h2.0v2.0h-2.0zM473.1 451.9h2.0v2.0h-2.0zM585.6 467.3h2.0v2.0h-2.0zM524.8 464.1h2.0v2.0h-2.0zM452.3 453.7h2.0v2.0h-2.0zM491.3 448.3h2.0v2.0h-2.0zM491.7 464.9h2.0v2.0h-2.0zM592.3 444.7h2.0v2.0h-2.0zM457.9 466.0h2.0v2.0h-2.0zM571.1 462.0h2.0v2.0h-2.0zM565.9 462.7h2.0v2.0h-2.0zM468.4 439.3h2.0v2.0h-2.0zM492.0 438.2h2.0v2.0h-2.0zM653.8 456.4h2.0v2.0h-2.0zM575.3 472.8h2.0v2.0h-2.0zM611.4 445.5h2.0v2.0h-2.0zM485.6 441.0h2.0v2.0h-2.0zM609.0 464.3h2.0v2.0h-2.0zM526.2 450.7h2.0v2.0h-2.0zM467.6 455.0h2.0v2.0h-2.0zM586.5 470.1h2.0v2.0h-2.0zM623.3 469.1h2.0v2.0h-2.0zM513.2 452.6h2.0v2.0h-2.0zM479.5 473.0h2.0v2.0h-2.0zM444.3 442.8h2.0v2.0h-2.0zM470.6 471.1h2.0v2.0h-2.0zM624.4 449.3h2.0v2.0h-2.0zM624.1 470.0h2.0v2.0h-2.0zM509.9 444.1h2.0v2.0h-2.0zM602.9 450.9h2.0v2.0h-2.0zM427.1 470.4h2.0v2.0h-2.0zM513.2 451.7h2.0v2.0h-2.0zM555.1 446.4h2.0v2.0h-2.0zM400.4 451.4h2.0v2.0h-2.0zM497.0 437.4h2.0v2.0h-2.0zM495.0 465.2h2.0v2.0h-2.0zM484.6 462.1h2.0v2.0h-2.0zM563.0 444.0h2.0v2.0h-2.0zM400.5 462.0h2.0v2.0h-2.0zM559.4 447.9h2.0v2.0h-2.0zM448.9 468.6h2.0v2.0h-2.0zM639.6 445.6h2.0v2.0h-2.0zM552.6 458.3h2.0v2.0h-2.0zM481.6 438.3h2.0v2.0h-2.0zM482.5 460.8h2.0v2.0h-2.0zM556.9 455.9h2.0v2.0h-2.0zM427.9 444.9h2.0v2.0h-2.0zM478.7 452.4h2.0v2.0h-2.0zM492.7 470.4h2.0v2.0h-2.0zM426.2 473.5h2.0v2.0h-2.0zM459.7 468.7h2.0v2.0h-2.0zM460.5 458.7h2.0v2.0h-2.0zM496.5 438.4h2.0v2.0h-2.0zM609.2 467.0h2.0v2.0h-2.0zM467.4 465.7h2.0v2.0h-2.0zM523.9 473.5h2.0v2.0h-2.0zM409.6 451.1h2.0v2.0h-2.0zM456.3 460.1h2.0v2.0h-2.0zM604.3 468.2h2.0v2.0h-2.0zM542.5 451.3h2.0v2.0h-2.0zM610.1 440.9h2.0v2.0h-2.0zM464.9 464.8h2.0v2.0h-2.0zM513.5 473.7h2.0v2.0h-2.0zM419.5 454.1h2.0v2.0h-2.0zM452.2 437.1h2.0v2.0h-2.0zM420.2 440.4h2.0v2.0h-2.0zM494.2 453.0h2.0v2.0h-2.0zM531.6 447.7h2.0v2.0h-2.0zM583.8 456.1h2.0v2.0h-2.0zM659.1 443.3h2.0v2.0h-2.0zM532.4 455.3h2.0v2.0h-2.0zM495.0 468.9h2.0v2.0h-2.0zM451.4 469.5h2.0v2.0h-2.0zM491.2 449.4h2.0v2.0h-2.0zM560.4 457.8h2.0v2.0h-2.0zM471.4 440.1h2.0v2.0h-2.0zM652.0 450.7h2.0v2.0h-2.0zM425.8 461.3h2.0v2.0h-2.0zM538.1 449.1h2.0v2.0h-2.0zM483.3 468.3h2.0v2.0h-2.0zM486.1 452.4h2.0v2.0h-2.0zM652.4 450.4h2.0v2.0h-2.0zM503.1 443.0h2.0v2.0h-2.0zM573.2 461.6h2.0v2.0h-2.0zM515.1 452.0h2.0v2.0h-2.0zM457.6 466.2h2.0v2.0h-2.0zM518.0 467.8h2.0v2.0h-2.0zM495.9 464.1h2.0v2.0h-2.0zM402.7 445.1h2.0v2.0h-2.0zM653.4 462.2h2.0v2.0h-2.0zM576.8 455.4h2.0v2.0h-2.0zM522.1 444.3h2.0v2.0h-2.0zM441.5 460.9h2.0v2.0h-2.0zM581.6 446.6h2.0v2.0h-2.0zM568.4 442.0h2.0v2.0h-2.0zM559.9 443.4h2.0v2.0h-2.0zM532.1 448.6h2.0v2.0h-2.0zM543.1 442.0h2.0v2.0h-2.0zM525.0 459.8h2.0v2.0h-2.0zM431.2 448.4h2.0v2.0h-2.0zM577.6 457.2h2.0v2.0h-2.0zM560.9 465.9h2.0v2.0h-2.0zM548.7 445.2h2.0v2.0h-2.0zM514.0 467.7h2.0v2.0h-2.0zM547.4 464.9h2.0v2.0h-2.0zM492.9 453.6h2.0v2.0h-2.0zM655.9 467.4h2.0v2.0h-2.0zM570.6 440.9h2.0v2.0h-2.0zM559.6 438.2h2.0v2.0h-2.0zM646.2 473.0h2.0v2.0h-2.0zM590.9 446.9h2.0v2.0h-2.0zM622.5 443.6h2.0v2.0h-2.0zM617.7 456.3h2.0v2.0h-2.0zM399.2 469.9h2.0v2.0h-2.0zM513.4 467.7h2.0v2.0h-2.0zM580.2 456.7h2.0v2.0h-2.0zM627.0 444.5h2.0v2.0h-2.0zM636.7 449.5h2.0v2.0h-2.0zM402.0 449.5h2.0v2.0h-2.0zM412.8 439.7h2.0v2.0h-2.0zM562.9 441.5h2.0v2.0h-2.0zM438.0 447.8h2.0v2.0h-2.0zM470.0 471.0h2.0v2.0h-2.0zM638.5 469.2h2.0v2.0h-2.0zM661.3 453.3h2.0v2.0h-2.0zM609.1 447.4h2.0v2.0h-2.0zM644.2 467.0h2.0v2.0h-2.0zM592.0 445.4h2.0v2.0h-2.0zM419.6 471.2h2.0v2.0h-2.0zM543.5 459.7h2.0v2.0h-2.0zM626.9 442.3h2.0v2.0h-2.0zM583.1 454.2h2.0v2.0h-2.0zM606.5 453.9h2.0v2.0h-2.0zM447.9 472.4h2.0v2.0h-2.0zM470.6 464.6h2.0v2.0h-2.0zM618.6 446.2h2.0v2.0h-2.0zM582.0 451.7h2.0v2.0h-2.0zM455.3 445.0h2.0v2.0h-2.0zM651.6 450.6h2.0v2.0h-2.0zM532.1 455.5h2.0v2.0h-2.0zM402.1 464.9h2.0v2.0h-2.0zM595.4 469.4h2.0v2.0h-2.0zM491.0 444.8h2.0v2.0h-2.0zM488.5 464.1h2.0v2.0h-2.0zM572.0 452.0h2.0v2.0h-2.0zM536.1 442.7h2.0v2.0h-2.0zM642.1 454.5h2.0v2.0h-2.0zM531.3 466.1h2.0v2.0h-2.0zM448.2 463.7h2.0v2.0h-2.0zM490.0 467.1h2.0v2.0h-2.0zM420.4 447.2h2.0v2.0h-2.0zM566.0 454.8h2.0v2.0h-2.0zM496.4 458.4h2.0v2.0h-2.0zM453.6 453.2h2.0v2.0h-2.0zM395.5 466.6h2.0v2.0h-2.0zM463.3 467.7h2.0v2.0h-2.0zM543.5 459.3h2.0v2.0h-2.0zM563.4 441.6h2.0v2.0h-2.0zM604.1 447.8h2.0v2.0h-2.0zM627.1 466.1h2.0v2.0h-2.0zM577.4 467.2h2.0v2.0h-2.0zM512.5 461.9h2.0v2.0h-2.0zM651.3 444.0h2.0v2.0h-2.0zM422.1 452.2h2.0v2.0h-2.0zM532.1 442.5h2.0v2.0h-2.0zM454.5 469.1h2.0v2.0h-2.0zM499.4 442.5h2.0v2.0h-2.0zM444.2 458.4h2.0v2.0h-2.0zM446.1 454.6h2.0v2.0h-2.0zM539.6 453.3h2.0v2.0h-2.0zM530.5 468.0h2.0v2.0h-2.0zM399.5 471.4h2.0v2.0h-2.0zM448.6 438.4h2.0v2.0h-2.0zM601.5 458.1h2.0v2.0h-2.0zM539.7 445.1h2.0v2.0h-2.0zM605.1 448.3h2.0v2.0h-2.0zM590.5 445.4h2.0v2.0h-2.0zM549.1 461.0h2.0v2.0h-2.0zM495.0 454.8h2.0v2.0h-2.0zM412.5 460.8h2.0v2.0h-2.0zM581.0 442.7h2.0v2.0h-2.0zM543.1 464.1h2.0v2.0h-2.0zM422.2 468.0h2.0v2.0h-2.0zM629.1 438.9h2.0v2.0h-2.0zM461.8 440.1h2.0v2.0h-2.0zM463.0 440.2h2.0v2.0h-2.0zM526.6 446.3h2.0v2.0h-2.0zM475.7 454.1h2.0v2.0h-2.0zM494.9 466.2h2.0v2.0h-2.0zM589.4 441.2h2.0v2.0h-2.0zM455.1 437.3h2.0v2.0h-2.0zM483.6 441.0h2.0v2.0h-2.0zM582.5 465.9h2.0v2.0h-2.0zM662.9 444.7h2.0v2.0h-2.0zM404.9 465.0h2.0v2.0h-2.0zM505.8 471.5h2.0v2.0h-2.0zM500.6 448.6h2.0v2.0h-2.0zM414.6 472.1h2.0v2.0h-2.0zM532.8 453.3h2.0v2.0h-2.0zM512.6 465.4h2.0v2.0h-2.0zM618.5 454.6h2.0v2.0h-2.0zM442.9 452.0h2.0v2.0h-2.0zM634.8 452.1h2.0v2.0h-2.0zM572.8 457.7h2.0v2.0h-2.0zM519.1 458.3h2.0v2.0h-2.0zM460.9 457.6h2.0v2.0h-2.0zM627.6 440.0h2.0v2.0h-2.0zM494.2 469.6h2.0v2.0h-2.0zM658.1 437.5h2.0v2.0h-2.0zM563.7 460.4h2.0v2.0h-2.0zM621.8 454.4h2.0v2.0h-2.0zM430.2 448.1h2.0v2.0h-2.0zM586.7 463.9h2.0v2.0h-2.0zM450.0 460.8h2.0v2.0h-2.0zM571.7 461.3h2.0v2.0h-2.0zM400.9 453.3h2.0v2.0h-2.0zM482.4 459.1h2.0v2.0h-2.0zM485.6 441.7h2.0v2.0h-2.0zM575.3 447.6h2.0v2.0h-2.0zM607.7 448.3h2.0v2.0h-2.0zM541.8 466.9h2.0v2.0h-2.0zM431.2 446.1h2.0v2.0h-2.0zM430.7 447.6h2.0v2.0h-2.0zM430.3 446.1h2.0v2.0h-2.0zM433.7 442.3h2.0v2.0h-2.0zM433.9 444.5h2.0v2.0h-2.0zM434.1 441.9h2.0v2.0h-2.0zM435.2 443.1h2.0v2.0h-2.0zM439.7 443.7h2.0v2.0h-2.0zM434.4 442.6h2.0v2.0h-2.0zM439.7 443.3h2.0v2.0h-2.0z" fill="#6a6a6a"/>
<path d="M394.5 459.5L395.4 459.1L396.2 456.3L397.1 458.4L398.0 457.1L398.9 457.8L399.8 457.9L400.6 456.4L401.5 456.6L402.4 454.7L403.2 453.9L404.1 452.9L405.0 451.5L405.8 452.3L406.7 452.1L407.5 452.2L408.3 450.6L409.2 449.2L410.0 452.9L410.8 448.1L411.7 450.0L412.5 451.2L413.3 449.2L414.2 451.6L415.0 451.1L415.8 450.7L416.7 453.0L417.5 454.1L418.3 452.4L419.2 449.9L420.0 452.4L420.8 453.3L421.7 452.3L422.5 451.7L423.3 451.2L424.2 452.7L425.0 452.2L425.8 452.2L426.7 452.3L427.5 450.8L428.3 451.4L429.2 454.3L430.0 455.0L430.8 455.4L431.7 454.2L432.5 454.7L433.3 453.7L434.2 453.8L435.0 452.3L435.8 455.1L436.6 454.6L437.4 454.6L438.2 453.4L439.0 453.7L439.8 453.9L440.6 453.7L441.4 452.0L442.2 451.3L443.0 453.2L443.8 451.5L444.6 452.7L445.4 453.7L446.2 452.8L447.0 452.4L447.8 452.8L448.6 453.9L449.4 451.5L450.2 452.1L451.0 454.3L451.8 451.0L452.6 451.5L453.4 453.4L454.2 450.7L455.0 452.6L455.8 453.0L456.6 451.3L457.4 450.9L458.2 453.8L459.0 451.6L459.8 450.5L460.6 452.4L461.4 451.3L462.2 452.8L463.0 451.6L463.8 453.1L464.6 452.7L465.4 451.8L466.2 451.1L467.0 451.7L467.8 455.7M468.6 450.3L469.4 452.0L470.2 452.5L471.0 452.1L471.8 452.9L472.6 451.0L473.4 452.2L474.2 453.4L475.0 450.4L475.8 453.8L476.6 451.9L477.4 453.8L478.2 452.8L479.0 451.6L479.8 451.2L480.6 451.9L481.4 452.0L482.2 452.4L483.0 454.9L483.8 452.6L484.6 453.5L485.4 450.6L486.2 453.3L487.0 451.3L487.8 455.0L488.6 452.3L489.4 452.4L490.2 452.1L491.0 451.7L491.8 453.8L492.6 451.1L493.4 451.3L494.2 452.2L495.0 452.5L495.8 452.9L496.6 454.2L497.4 453.3L498.2 453.6L499.0 451.6L499.8 454.3L500.6 451.6L501.4 454.3L502.2 453.9L503.0 452.8L503.8 452.8L504.6 452.3L505.4 454.0L506.2 452.6L507.0 452.6L507.8 453.2L508.6 452.8L509.4 449.7L510.2 452.2L511.0 453.9L511.8 455.4L512.6 453.4L513.4 454.4L514.2 454.0L515.0 451.6L515.8 453.1L516.6 452.9L517.4 453.3L518.2 454.6L519.0 452.5L519.8 453.5L520.6 452.9L521.4 453.3L522.2 453.3L523.0 452.5L523.8 453.5L524.6 452.2L525.4 453.8L526.2 449.8L527.0 452.4L527.8 453.4L528.6 453.9L529.4 452.8L530.2 450.0L531.0 453.3L531.8 451.1L532.6 451.0L533.4 452.5L534.2 451.7L535.0 450.8L535.8 451.9L536.6 453.1L537.4 451.4L538.2 453.1L539.0 452.3L539.8 452.4L540.6 451.7L541.4 452.1L542.2 451.9L543.0 451.9L543.8 452.8L544.6 452.9L545.4 453.0L546.2 451.5L547.0 453.5L547.8 452.8L548.6 452.2L549.4 454.4L550.2 450.9L551.0 453.1L551.8 451.4L552.6 454.7L553.4 454.2L554.2 452.5L555.0 452.9L555.8 453.7L556.6 450.9L557.4 453.2L558.2 451.5L559.0 454.4L559.8 454.9L560.6 452.8L561.4 454.1L562.2 454.1L563.0 452.7L563.8 454.6L564.6 452.1L565.4 453.2L566.2 455.8L567.0 454.2L567.8 454.0L568.6 453.8L569.4 452.6L570.2 453.5L571.0 454.2L571.8 453.6L572.6 452.6L573.4 452.4L574.2 454.1L575.0 454.1L575.8 454.7L576.6 455.0L577.4 451.6L578.2 453.4L579.0 452.9L579.8 453.9L580.6 453.3L581.4 452.8L582.2 454.0L583.0 452.6L583.8 452.2L584.6 454.0L585.4 453.6L586.2 453.4L587.0 451.3L587.8 453.5L588.6 452.9L589.4 451.3L590.2 453.0L591.0 452.9L591.8 452.3L592.6 452.7L593.4 455.2L594.2 454.2L595.0 452.1L595.8 453.3L596.6 455.8L597.4 452.6L598.2 453.6L599.0 453.4L599.8 450.3L600.6 454.6L601.4 453.3L602.2 455.2L603.0 453.6L603.8 452.6L604.6 452.0L605.4 453.1L606.2 451.6L607.0 452.4L607.8 453.5L608.6 452.8L609.4 452.9L610.2 454.6L611.0 451.8L611.8 453.2L612.6 455.2L613.4 454.5L614.2 453.5L615.0 455.1L615.8 454.8L616.6 453.0L617.4 454.2L618.2 451.6L619.0 452.2L619.8 452.9L620.6 450.1L621.4 450.4M622.2 456.0L623.0 453.1L623.8 453.3L624.6 452.1L625.4 452.6L626.2 455.1L627.0 452.2L627.8 454.0L628.6 453.0L629.4 451.8L630.2 453.8L631.0 452.4L631.8 452.3L632.6 452.3L633.4 451.6L634.2 454.5L635.0 452.5L635.8 455.0L636.6 452.1L637.4 449.5L638.2 452.2L639.0 453.2L639.8 451.7L640.6 453.3L641.4 456.9L642.2 452.3L643.0 452.0L643.8 453.0L644.6 452.7L645.4 452.8L646.2 453.4L647.0 453.4L647.8 453.3L648.6 451.6L649.4 451.4L650.2 451.2L651.0 453.6L651.8 452.8L652.6 453.5L653.4 453.4L654.2 452.5L655.0 453.9L655.8 451.7L656.7 454.2L657.5 453.5L658.3 453.8L659.2 453.9L660.0 453.2L660.8 453.2L661.7 454.1L662.5 452.5L663.3 454.0L664.2 453.3L665.0 454.0" stroke="#00ff00" stroke-width="2.8" fill="none" stroke-linejoin="round"/>
<rect x="392.9" y="434.7" width="272.70000000000005" height="41.30000000000001" stroke="#000" stroke-width="1.7" fill="none"/>
<line x1="460.5" y1="483" x2="460.5" y2="577.5" stroke="#3c3c3c" stroke-width="0.9" stroke-dasharray="1 5.4" fill="none"/>
<line x1="529.5" y1="483" x2="529.5" y2="577.5" stroke="#3c3c3c" stroke-width="0.9" stroke-dasharray="1 5.4" fill="none"/>
<line x1="597.5" y1="483" x2="597.5" y2="577.5" stroke="#3c3c3c" stroke-width="0.9" stroke-dasharray="1 5.4" fill="none"/>
<text x="460.5" y="597.5" font-size="16.7" text-anchor="middle" font-weight="normal" font-family='"Liberation Sans", sans-serif' >270</text>
<text x="529.5" y="597.5" font-size="16.7" text-anchor="middle" font-weight="normal" font-family='"Liberation Sans", sans-serif' >540</text>
<text x="597.5" y="597.5" font-size="16.7" text-anchor="middle" font-weight="normal" font-family='"Liberation Sans", sans-serif' >810</text>
<text x="665.5" y="597.5" font-size="16.7" text-anchor="middle" font-weight="normal" font-family='"Liberation Sans", sans-serif' >1080</text>
<line x1="392.5" y1="551.3" x2="665.5" y2="551.3" stroke="#3c3c3c" stroke-width="0.9" stroke-dasharray="1 5.4" fill="none"/>
<line x1="392.5" y1="525.2" x2="665.5" y2="525.2" stroke="#3c3c3c" stroke-width="0.9" stroke-dasharray="1 5.4" fill="none"/>
<line x1="392.5" y1="499.2" x2="665.5" y2="499.2" stroke="#3c3c3c" stroke-width="0.9" stroke-dasharray="1 5.4" fill="none"/>
<text x="529.0" y="616.0" font-size="16.7" text-anchor="middle" font-weight="normal" font-family='"Liberation Sans", sans-serif' ># of epochs [30 s]</text>
<rect x="392.5" y="518.7" width="90.7" height="58.8" fill="#ff0000" stroke="#000" stroke-width="1"/>
<rect x="483.2" y="568.2" width="91.1" height="9.3" fill="#ff9900" stroke="#000" stroke-width="1"/>
<rect x="574.3" y="570.1" width="91.2" height="7.4" fill="#00ff00" stroke="#000" stroke-width="1"/>
<path d="M392.5 483V577.5H665.5V483" stroke="#262626" stroke-width="1" fill="none"/>
<rect x="479.0" y="490.7" width="44" height="13" fill="#ff0000" stroke="#000" stroke-width="1"/>
<text x="528.0" y="501.7" font-size="12.5" text-anchor="start" font-weight="bold" font-family='"Liberation Sans", sans-serif' >kp−index 7−: 9.0<tspan font-weight="normal">±</tspan>16.8</text>
<rect x="479.0" y="509.2" width="44" height="13" fill="#ff9900" stroke="#000" stroke-width="1"/>
<text x="528.0" y="520.2" font-size="12.5" text-anchor="start" font-weight="bold" font-family='"Liberation Sans", sans-serif' >kp−index 5−: 1.4<tspan font-weight="normal">±</tspan>1.5</text>
<rect x="479.0" y="527.9" width="44" height="13" fill="#00ff00" stroke="#000" stroke-width="1"/>
<text x="528.0" y="538.9" font-size="12.5" text-anchor="start" font-weight="bold" font-family='"Liberation Sans", sans-serif' >kp−index 4−: 1.1<tspan font-weight="normal">±</tspan>0.6</text>
<text x="496.0" y="279.5" font-size="16.7" text-anchor="middle" font-weight="normal" font-family='"Liberation Sans", sans-serif' >East error [m]</text>
<text transform="translate(367.1,146.3) rotate(-90)" font-size="16.8" text-anchor="middle" font-family='"Liberation Sans", sans-serif'>North error [m]</text>
<text x="182.5" y="14.2" font-size="19.7" text-anchor="middle" font-weight="bold" font-family='"Liberation Serif", serif' >Ublox L1 + L1 + B1 + E1:</text>
<text x="182.5" y="37.7" font-size="19.7" text-anchor="middle" font-weight="bold" font-family='"Liberation Serif", serif' >Kp-index 5o, 8.9 km</text>
<text x="516.0" y="16.2" font-size="19.7" text-anchor="middle" font-weight="bold" font-family='"Liberation Serif", serif' >Trimble L1,L2:</text>
</svg></body></html>
